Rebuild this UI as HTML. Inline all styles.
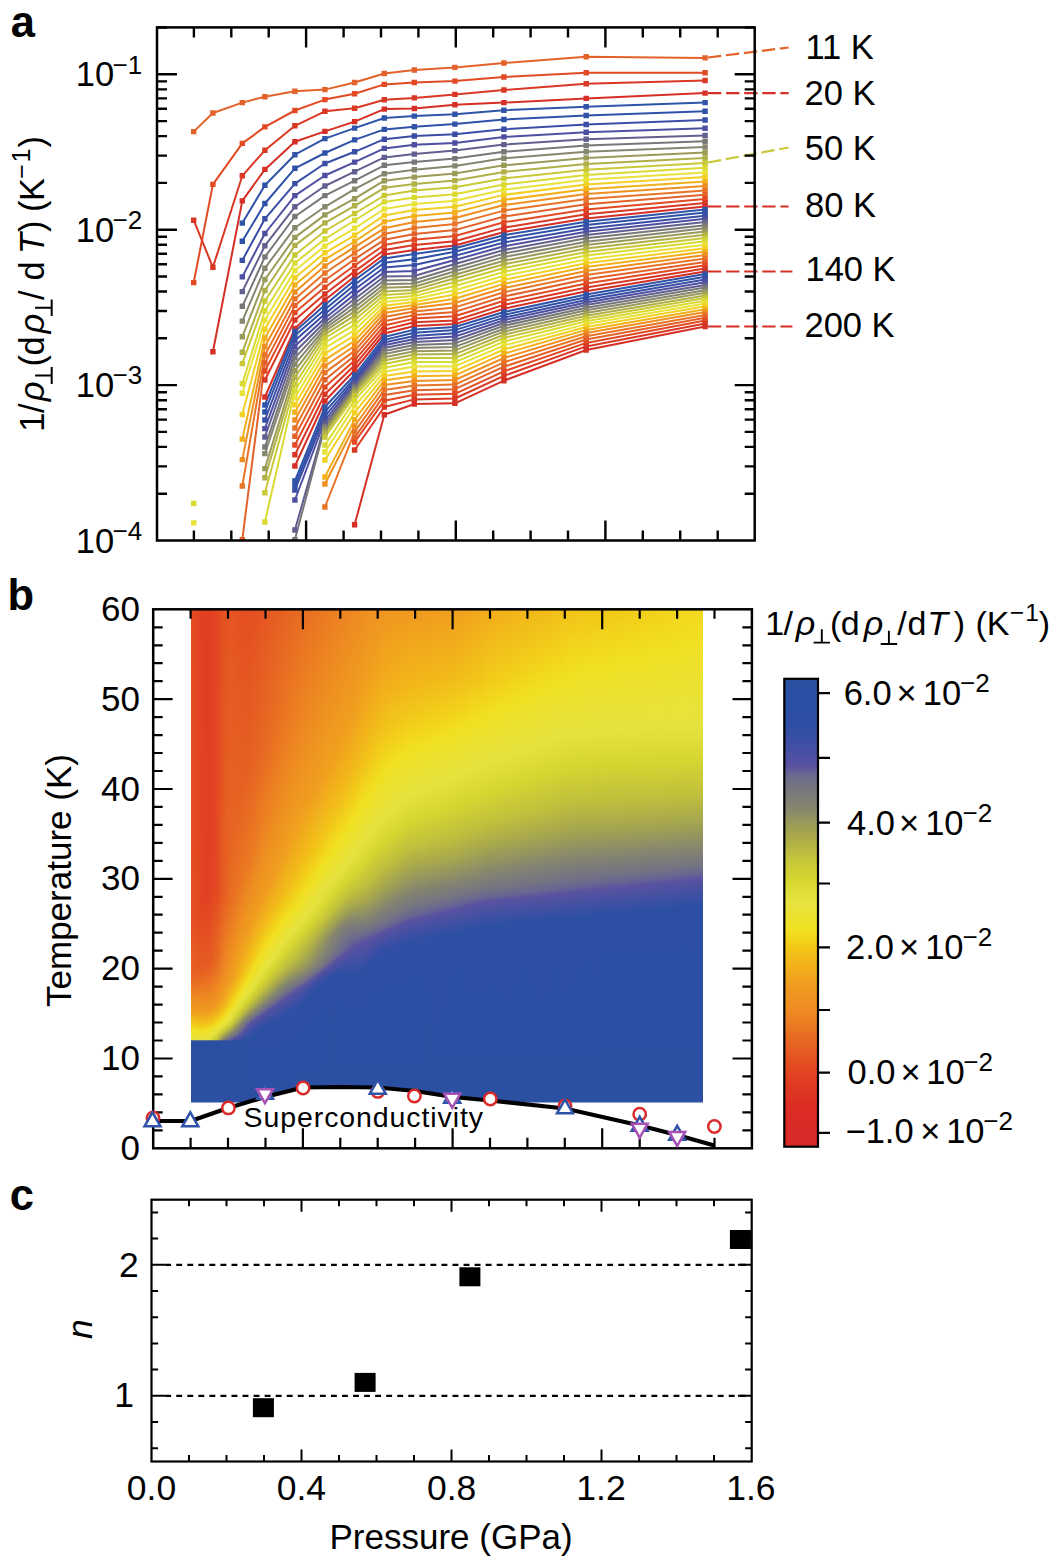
<!DOCTYPE html>
<html><head><meta charset="utf-8"><style>html,body{margin:0;padding:0;background:#fff;}svg{display:block;}</style></head>
<body><svg width="1050" height="1557" viewBox="0 0 1050 1557" font-family='"Liberation Sans", sans-serif' fill="#000">
<rect width="1050" height="1557" fill="#fff"/>
<clipPath id="ca"><rect x="157" y="27.4" width="597.7" height="513.1"/></clipPath>
<g clip-path="url(#ca)" fill="none" stroke-width="2.0" stroke-linejoin="round">
<polyline stroke="#e2622a" points="193.7,131.6 212.9,113 242.3,102.6 264.9,96.7 294.9,91.2 324.9,89.6 354.6,82.5 384.3,73.5 414.3,70 454.9,67.4 503.9,63 586.2,56.7 705.1,57.9"/>
<polyline stroke="#e24a24" points="193.7,282.6 212.9,184.4 242.3,143.4 264.9,126.9 294.9,110.5 324.9,99.6 354.6,93.7 384.3,84.4 414.3,82.5 454.9,81.1 503.9,77 586.2,72.8 705.1,72.8"/>
<polyline stroke="#d93824" points="193.7,220.2 212.9,267.3 242.3,175.8 264.9,150.3 294.9,125.8 324.9,111.3 354.6,108.2 384.3,99.8 414.3,97.9 454.9,94.4 503.9,90 586.2,83.7 705.1,80.5"/>
<polyline stroke="#d52f26" points="212.9,351.8 242.3,200.9 264.9,169.4 294.9,141.8 324.9,131.4 354.6,121.6 384.3,109.1 414.3,108.5 454.9,104.7 503.9,102.6 586.2,98.4 705.1,93.1"/>
<polyline stroke="#2f54a8" points="242.3,223.1 264.9,185.3 294.9,154.7 324.9,138.6 354.6,128.1 384.3,118 414.3,116.1 454.9,114.2 503.9,110.2 586.2,106.8 705.1,102.6"/>
<polyline stroke="#2f52a8" points="242.3,241.3 264.9,203.5 294.9,168.3 324.9,153 354.6,139.9 384.3,129.4 414.3,126.8 454.9,124.1 503.9,119.5 586.2,115.5 705.1,111.3"/>
<polyline stroke="#3a4ea6" points="242.3,260.4 264.9,218.8 294.9,183.6 324.9,163.5 354.6,151.8 384.3,139.2 414.3,136 454.9,134.2 503.9,129.3 586.2,124.5 705.1,120"/>
<polyline stroke="#4f4fa2" points="242.3,276.9 264.9,233.5 294.9,195.6 324.9,175.5 354.6,162.1 384.3,148.4 414.3,144.8 454.9,143 503.9,136.9 586.2,132.2 705.1,128.2"/>
<polyline stroke="#62608f" points="242.3,291.6 264.9,245.7 294.9,206.8 324.9,186 354.6,171.7 384.3,157.4 414.3,154.1 454.9,150.6 503.9,144.6 586.2,139.2 705.1,135.4"/>
<polyline stroke="#787878" points="242.3,306.3 264.9,256.9 294.9,216.5 324.9,195.6 354.6,180.7 384.3,165.3 414.3,162.1 454.9,158.6 503.9,151.7 586.2,145.6 705.1,141.2"/>
<polyline stroke="#878770" points="242.3,321.1 264.9,268.2 294.9,227.7 324.9,206.8 354.6,189.1 384.3,173.7 414.3,169.8 454.9,165.9 503.9,158.2 586.2,151.8 705.1,147"/>
<polyline stroke="#9a9a5a" points="242.3,336.7 264.9,279.5 294.9,237.4 324.9,214.9 354.6,198.7 384.3,180.7 414.3,177.1 454.9,173.5 503.9,165.3 586.2,157.9 705.1,152.5"/>
<polyline stroke="#b0b048" points="242.3,352.3 264.9,290.5 294.9,245.4 324.9,222.9 354.6,205.8 384.3,187.8 414.3,184 454.9,180.6 503.9,171.9 586.2,164 705.1,158"/>
<polyline stroke="#c8c838" points="242.3,363.6 264.9,301 294.9,255 324.9,231 354.6,213.5 384.3,195.5 414.3,190.4 454.9,187.2 503.9,178.4 586.2,169.7 705.1,163"/>
<polyline stroke="#dada34" points="242.3,383.8 264.9,310.7 294.9,263 324.9,239 354.6,220.5 384.3,201.9 414.3,197.4 454.9,194.3 503.9,184.4 586.2,174.9 705.1,167.8"/>
<polyline stroke="#e8e23a" points="242.3,393.2 264.9,320 294.9,270.5 324.9,246.1 354.6,228.3 384.3,209 414.3,203.9 454.9,200.8 503.9,189.8 586.2,179.8 705.1,172.5"/>
<polyline stroke="#f2d024" points="242.3,414.5 264.9,329.1 294.9,277.8 324.9,252.8 354.6,235.3 384.3,215.4 414.3,210.1 454.9,206.7 503.9,194.9 586.2,184.5 705.1,177.1"/>
<polyline stroke="#f2b01a" points="242.3,439.1 264.9,338 294.9,284.9 324.9,259.4 354.6,241.5 384.3,221.8 414.3,216.1 454.9,212.4 503.9,199.9 586.2,189.2 705.1,181.6"/>
<polyline stroke="#ef8f22" points="242.3,459.6 264.9,346.6 294.9,292 324.9,266 354.6,247.2 384.3,228.3 414.3,222 454.9,218 503.9,205 586.2,194 705.1,186"/>
<polyline stroke="#e87428" points="242.3,486 264.9,355 294.9,298.9 324.9,273 354.6,253 384.3,234 414.3,228 454.9,223.9 503.9,210.6 586.2,199 705.1,190.4"/>
<polyline stroke="#e2622a" points="242.3,539.6 264.9,362.9 294.9,305.6 324.9,280.2 354.6,259.2 384.3,239.8 414.3,233.9 454.9,230.1 503.9,216.5 586.2,204.3 705.1,194.7"/>
<polyline stroke="#e24a24" points="264.9,371 294.9,312.6 324.9,287.3 354.6,265.5 384.3,245 414.3,239.7 454.9,236 503.9,222.3 586.2,209.5 705.1,199"/>
<polyline stroke="#d93824" points="264.9,380 294.9,320 324.9,294 354.6,271.4 384.3,250.1 414.3,245.1 454.9,241.3 503.9,227.6 586.2,214.3 705.1,202.9"/>
<polyline stroke="#d52f26" points="264.9,397 294.9,328.5 324.9,300 354.6,276.5 384.3,254.5 414.3,250 454.9,245.5 503.9,232 586.2,218.5 705.1,206.5"/>
<polyline stroke="#2f54a8" points="264.9,405 294.9,331.4 324.9,305 354.6,280.3 384.3,258.4 414.3,254 454.9,248.3 503.9,235.2 586.2,221.8 705.1,209.5"/>
<polyline stroke="#2f52a8" points="264.9,412 294.9,335.5 324.9,309.6 354.6,284.7 384.3,262.8 414.3,259.2 454.9,251.8 503.9,238.7 586.2,225.1 705.1,212.6"/>
<polyline stroke="#3a4ea6" points="264.9,420 294.9,340.6 324.9,314 354.6,289.5 384.3,267.5 414.3,265.1 454.9,255.9 503.9,242.5 586.2,228.4 705.1,215.7"/>
<polyline stroke="#4f4fa2" points="264.9,428.6 294.9,346.2 324.9,318.2 354.6,294.4 384.3,272.1 414.3,271 454.9,260 503.9,246.3 586.2,231.7 705.1,218.8"/>
<polyline stroke="#62608f" points="264.9,437 294.9,352 324.9,322 354.6,299 384.3,276.5 414.3,276 454.9,264 503.9,250 586.2,235 705.1,222"/>
<polyline stroke="#787878" points="264.9,447 294.9,357.9 324.9,325.4 354.6,303.3 384.3,280.5 414.3,280 454.9,267.7 503.9,253.6 586.2,238.3 705.1,225.2"/>
<polyline stroke="#878770" points="264.9,453.6 294.9,364.1 324.9,328.3 354.6,307.4 384.3,284.2 414.3,283.5 454.9,271.2 503.9,257.1 586.2,241.7 705.1,228.3"/>
<polyline stroke="#9a9a5a" points="264.9,468.6 294.9,370.6 324.9,331.2 354.6,311.4 384.3,287.8 414.3,286.8 454.9,274.7 503.9,260.7 586.2,245 705.1,231.5"/>
<polyline stroke="#b0b048" points="264.9,477.8 294.9,377.2 324.9,334.3 354.6,315.6 384.3,291.4 414.3,289.9 454.9,278.2 503.9,264.3 586.2,248.5 705.1,234.7"/>
<polyline stroke="#c8c838" points="264.9,492.8 294.9,384 324.9,338 354.6,320 384.3,295 414.3,293 454.9,282 503.9,268 586.2,252 705.1,238"/>
<polyline stroke="#dada34" points="264.9,522 294.9,390.8 324.9,342.5 354.6,324.9 384.3,298.6 414.3,296.1 454.9,286 503.9,271.9 586.2,255.6 705.1,241.3"/>
<polyline stroke="#e8e23a" points="294.9,397.7 324.9,347.8 354.6,330.1 384.3,302.1 414.3,299 454.9,290.2 503.9,275.8 586.2,259.4 705.1,244.8"/>
<polyline stroke="#f2d024" points="294.9,404.8 324.9,353.6 354.6,335.5 384.3,305.7 414.3,301.9 454.9,294.4 503.9,279.8 586.2,263.2 705.1,248.2"/>
<polyline stroke="#f2b01a" points="294.9,412.2 324.9,359.8 354.6,340.8 384.3,309.3 414.3,304.9 454.9,298.7 503.9,283.9 586.2,267.1 705.1,251.6"/>
<polyline stroke="#ef8f22" points="294.9,420 324.9,366 354.6,346 384.3,313 414.3,308 454.9,303 503.9,288 586.2,271 705.1,255"/>
<polyline stroke="#e87428" points="294.9,428 324.9,372.6 354.6,350.9 384.3,317 414.3,311.4 454.9,307.4 503.9,292.2 586.2,275.1 705.1,258.4"/>
<polyline stroke="#e2622a" points="294.9,436.2 324.9,379.8 354.6,355.7 384.3,321.2 414.3,315 454.9,311.9 503.9,296.5 586.2,279.3 705.1,261.9"/>
<polyline stroke="#e24a24" points="294.9,445 324.9,387.1 354.6,360.4 384.3,325.5 414.3,318.6 454.9,316.3 503.9,300.8 586.2,283.5 705.1,265.3"/>
<polyline stroke="#d93824" points="294.9,454.8 324.9,394.3 354.6,365.2 384.3,329.6 414.3,322.3 454.9,320.5 503.9,304.9 586.2,287.6 705.1,268.6"/>
<polyline stroke="#d52f26" points="294.9,466 324.9,401 354.6,370 384.3,333.5 414.3,326 454.9,324.1 503.9,308.7 586.2,291.3 705.1,271.5"/>
<polyline stroke="#2f54a8" points="294.9,481 324.9,407 354.6,375 384.3,337 414.3,329.6 454.9,327 503.9,312 586.2,294.5 705.1,274"/>
<polyline stroke="#2f52a8" points="294.9,485.7 324.9,411.9 354.6,378.1 384.3,339.9 414.3,332.8 454.9,330.1 503.9,314.9 586.2,297.3 705.1,276.7"/>
<polyline stroke="#3a4ea6" points="294.9,490 324.9,416.4 354.6,380.6 384.3,342.6 414.3,335.9 454.9,333.3 503.9,317.6 586.2,299.9 705.1,279.5"/>
<polyline stroke="#4f4fa2" points="294.9,500 324.9,420.5 354.6,382.8 384.3,345.2 414.3,338.9 454.9,336.6 503.9,320.2 586.2,302.4 705.1,282.3"/>
<polyline stroke="#62608f" points="294.9,530 324.9,424 354.6,385 384.3,348 414.3,342 454.9,340 503.9,323 586.2,305 705.1,285"/>
<polyline stroke="#787878" points="294.9,539.6 324.9,426.7 354.6,387.1 384.3,351 414.3,345.1 454.9,343.4 503.9,325.8 586.2,307.7 705.1,287.6"/>
<polyline stroke="#878770" points="324.9,428.8 354.6,389 384.3,354 414.3,348.1 454.9,346.9 503.9,328.7 586.2,310.3 705.1,290.2"/>
<polyline stroke="#9a9a5a" points="324.9,430.8 354.6,390.9 384.3,357.2 414.3,351.2 454.9,350.4 503.9,331.6 586.2,313 705.1,292.8"/>
<polyline stroke="#b0b048" points="324.9,433.3 354.6,393.2 384.3,360.5 414.3,354.4 454.9,354.1 503.9,334.7 586.2,315.7 705.1,295.4"/>
<polyline stroke="#c8c838" points="324.9,437 354.6,396 384.3,364 414.3,358 454.9,358 503.9,338 586.2,318.5 705.1,298"/>
<polyline stroke="#dada34" points="324.9,445 354.6,400.2 384.3,367.7 414.3,362.1 454.9,362.1 503.9,341.6 586.2,321.3 705.1,300.7"/>
<polyline stroke="#e8e23a" points="324.9,452 354.6,406.1 384.3,371.7 414.3,366.6 454.9,366.4 503.9,345.5 586.2,324.1 705.1,303.5"/>
<polyline stroke="#f2d024" points="324.9,460 354.6,412.7 384.3,375.9 414.3,371.4 454.9,370.9 503.9,349.5 586.2,327 705.1,306.3"/>
<polyline stroke="#f2b01a" points="324.9,477 354.6,419.6 384.3,380.3 414.3,376.3 454.9,375.4 503.9,353.7 586.2,329.9 705.1,309.2"/>
<polyline stroke="#ef8f22" points="324.9,484 354.6,426 384.3,385 414.3,381 454.9,380 503.9,358 586.2,333 705.1,312"/>
<polyline stroke="#e87428" points="324.9,507 354.6,431.8 384.3,389.9 414.3,385.6 454.9,384.6 503.9,362.3 586.2,336.2 705.1,314.9"/>
<polyline stroke="#e2622a" points="354.6,437.6 384.3,395.1 414.3,390.2 454.9,389.2 503.9,366.7 586.2,339.5 705.1,317.7"/>
<polyline stroke="#e24a24" points="354.6,442.1 384.3,400.7 414.3,394.8 454.9,393.8 503.9,371.3 586.2,342.9 705.1,320.6"/>
<polyline stroke="#d93824" points="354.6,450 384.3,407 414.3,399.4 454.9,398.5 503.9,375.9 586.2,346.4 705.1,323.6"/>
<polyline stroke="#d52f26" points="354.6,524.7 384.3,414.8 414.3,404 454.9,403.3 503.9,380.7 586.2,350 705.1,326.5"/>
</g>
<g clip-path="url(#ca)">
<path fill="#e2622a" d="M191 128.9h5.4v5.4h-5.4zM210.2 110.3h5.4v5.4h-5.4zM239.6 99.9h5.4v5.4h-5.4zM262.2 94h5.4v5.4h-5.4zM292.2 88.5h5.4v5.4h-5.4zM322.2 86.9h5.4v5.4h-5.4zM351.9 79.8h5.4v5.4h-5.4zM381.6 70.8h5.4v5.4h-5.4zM411.6 67.3h5.4v5.4h-5.4zM452.2 64.7h5.4v5.4h-5.4zM501.2 60.3h5.4v5.4h-5.4zM583.5 54h5.4v5.4h-5.4zM702.4 55.2h5.4v5.4h-5.4z"/>
<path fill="#e24a24" d="M191 279.9h5.4v5.4h-5.4zM210.2 181.7h5.4v5.4h-5.4zM239.6 140.7h5.4v5.4h-5.4zM262.2 124.2h5.4v5.4h-5.4zM292.2 107.8h5.4v5.4h-5.4zM322.2 96.9h5.4v5.4h-5.4zM351.9 91h5.4v5.4h-5.4zM381.6 81.7h5.4v5.4h-5.4zM411.6 79.8h5.4v5.4h-5.4zM452.2 78.4h5.4v5.4h-5.4zM501.2 74.3h5.4v5.4h-5.4zM583.5 70.1h5.4v5.4h-5.4zM702.4 70.1h5.4v5.4h-5.4z"/>
<path fill="#d93824" d="M191 217.5h5.4v5.4h-5.4zM210.2 264.6h5.4v5.4h-5.4zM239.6 173.1h5.4v5.4h-5.4zM262.2 147.6h5.4v5.4h-5.4zM292.2 123.1h5.4v5.4h-5.4zM322.2 108.6h5.4v5.4h-5.4zM351.9 105.5h5.4v5.4h-5.4zM381.6 97.1h5.4v5.4h-5.4zM411.6 95.2h5.4v5.4h-5.4zM452.2 91.7h5.4v5.4h-5.4zM501.2 87.3h5.4v5.4h-5.4zM583.5 81h5.4v5.4h-5.4zM702.4 77.8h5.4v5.4h-5.4z"/>
<path fill="#d52f26" d="M210.2 349.1h5.4v5.4h-5.4zM239.6 198.2h5.4v5.4h-5.4zM262.2 166.7h5.4v5.4h-5.4zM292.2 139.1h5.4v5.4h-5.4zM322.2 128.7h5.4v5.4h-5.4zM351.9 118.9h5.4v5.4h-5.4zM381.6 106.4h5.4v5.4h-5.4zM411.6 105.8h5.4v5.4h-5.4zM452.2 102h5.4v5.4h-5.4zM501.2 99.9h5.4v5.4h-5.4zM583.5 95.7h5.4v5.4h-5.4zM702.4 90.4h5.4v5.4h-5.4z"/>
<path fill="#2f54a8" d="M239.6 220.4h5.4v5.4h-5.4zM262.2 182.6h5.4v5.4h-5.4zM292.2 152h5.4v5.4h-5.4zM322.2 135.9h5.4v5.4h-5.4zM351.9 125.4h5.4v5.4h-5.4zM381.6 115.3h5.4v5.4h-5.4zM411.6 113.4h5.4v5.4h-5.4zM452.2 111.5h5.4v5.4h-5.4zM501.2 107.5h5.4v5.4h-5.4zM583.5 104.1h5.4v5.4h-5.4zM702.4 99.9h5.4v5.4h-5.4z"/>
<path fill="#2f52a8" d="M239.6 238.6h5.4v5.4h-5.4zM262.2 200.8h5.4v5.4h-5.4zM292.2 165.6h5.4v5.4h-5.4zM322.2 150.3h5.4v5.4h-5.4zM351.9 137.2h5.4v5.4h-5.4zM381.6 126.7h5.4v5.4h-5.4zM411.6 124.1h5.4v5.4h-5.4zM452.2 121.4h5.4v5.4h-5.4zM501.2 116.8h5.4v5.4h-5.4zM583.5 112.8h5.4v5.4h-5.4zM702.4 108.6h5.4v5.4h-5.4z"/>
<path fill="#3a4ea6" d="M239.6 257.7h5.4v5.4h-5.4zM262.2 216.1h5.4v5.4h-5.4zM292.2 180.9h5.4v5.4h-5.4zM322.2 160.8h5.4v5.4h-5.4zM351.9 149.1h5.4v5.4h-5.4zM381.6 136.5h5.4v5.4h-5.4zM411.6 133.3h5.4v5.4h-5.4zM452.2 131.5h5.4v5.4h-5.4zM501.2 126.6h5.4v5.4h-5.4zM583.5 121.8h5.4v5.4h-5.4zM702.4 117.3h5.4v5.4h-5.4z"/>
<path fill="#4f4fa2" d="M239.6 274.2h5.4v5.4h-5.4zM262.2 230.8h5.4v5.4h-5.4zM292.2 192.9h5.4v5.4h-5.4zM322.2 172.8h5.4v5.4h-5.4zM351.9 159.4h5.4v5.4h-5.4zM381.6 145.7h5.4v5.4h-5.4zM411.6 142.1h5.4v5.4h-5.4zM452.2 140.3h5.4v5.4h-5.4zM501.2 134.2h5.4v5.4h-5.4zM583.5 129.5h5.4v5.4h-5.4zM702.4 125.5h5.4v5.4h-5.4z"/>
<path fill="#62608f" d="M239.6 288.9h5.4v5.4h-5.4zM262.2 243h5.4v5.4h-5.4zM292.2 204.1h5.4v5.4h-5.4zM322.2 183.3h5.4v5.4h-5.4zM351.9 169h5.4v5.4h-5.4zM381.6 154.7h5.4v5.4h-5.4zM411.6 151.4h5.4v5.4h-5.4zM452.2 147.9h5.4v5.4h-5.4zM501.2 141.9h5.4v5.4h-5.4zM583.5 136.5h5.4v5.4h-5.4zM702.4 132.7h5.4v5.4h-5.4z"/>
<path fill="#787878" d="M239.6 303.6h5.4v5.4h-5.4zM262.2 254.2h5.4v5.4h-5.4zM292.2 213.8h5.4v5.4h-5.4zM322.2 192.9h5.4v5.4h-5.4zM351.9 178h5.4v5.4h-5.4zM381.6 162.6h5.4v5.4h-5.4zM411.6 159.4h5.4v5.4h-5.4zM452.2 155.9h5.4v5.4h-5.4zM501.2 149h5.4v5.4h-5.4zM583.5 142.9h5.4v5.4h-5.4zM702.4 138.5h5.4v5.4h-5.4z"/>
<path fill="#878770" d="M239.6 318.4h5.4v5.4h-5.4zM262.2 265.5h5.4v5.4h-5.4zM292.2 225h5.4v5.4h-5.4zM322.2 204.1h5.4v5.4h-5.4zM351.9 186.4h5.4v5.4h-5.4zM381.6 171h5.4v5.4h-5.4zM411.6 167.1h5.4v5.4h-5.4zM452.2 163.2h5.4v5.4h-5.4zM501.2 155.5h5.4v5.4h-5.4zM583.5 149.1h5.4v5.4h-5.4zM702.4 144.3h5.4v5.4h-5.4z"/>
<path fill="#9a9a5a" d="M239.6 334h5.4v5.4h-5.4zM262.2 276.8h5.4v5.4h-5.4zM292.2 234.7h5.4v5.4h-5.4zM322.2 212.2h5.4v5.4h-5.4zM351.9 196h5.4v5.4h-5.4zM381.6 178h5.4v5.4h-5.4zM411.6 174.4h5.4v5.4h-5.4zM452.2 170.8h5.4v5.4h-5.4zM501.2 162.6h5.4v5.4h-5.4zM583.5 155.2h5.4v5.4h-5.4zM702.4 149.8h5.4v5.4h-5.4z"/>
<path fill="#b0b048" d="M239.6 349.6h5.4v5.4h-5.4zM262.2 287.8h5.4v5.4h-5.4zM292.2 242.7h5.4v5.4h-5.4zM322.2 220.2h5.4v5.4h-5.4zM351.9 203.1h5.4v5.4h-5.4zM381.6 185.1h5.4v5.4h-5.4zM411.6 181.3h5.4v5.4h-5.4zM452.2 177.9h5.4v5.4h-5.4zM501.2 169.2h5.4v5.4h-5.4zM583.5 161.3h5.4v5.4h-5.4zM702.4 155.3h5.4v5.4h-5.4z"/>
<path fill="#c8c838" d="M239.6 360.9h5.4v5.4h-5.4zM262.2 298.3h5.4v5.4h-5.4zM292.2 252.3h5.4v5.4h-5.4zM322.2 228.3h5.4v5.4h-5.4zM351.9 210.8h5.4v5.4h-5.4zM381.6 192.8h5.4v5.4h-5.4zM411.6 187.7h5.4v5.4h-5.4zM452.2 184.5h5.4v5.4h-5.4zM501.2 175.7h5.4v5.4h-5.4zM583.5 167h5.4v5.4h-5.4zM702.4 160.3h5.4v5.4h-5.4z"/>
<path fill="#dada34" d="M239.6 381.1h5.4v5.4h-5.4zM262.2 308h5.4v5.4h-5.4zM292.2 260.3h5.4v5.4h-5.4zM322.2 236.3h5.4v5.4h-5.4zM351.9 217.8h5.4v5.4h-5.4zM381.6 199.2h5.4v5.4h-5.4zM411.6 194.7h5.4v5.4h-5.4zM452.2 191.6h5.4v5.4h-5.4zM501.2 181.7h5.4v5.4h-5.4zM583.5 172.2h5.4v5.4h-5.4zM702.4 165.1h5.4v5.4h-5.4z"/>
<path fill="#e8e23a" d="M239.6 390.5h5.4v5.4h-5.4zM262.2 317.3h5.4v5.4h-5.4zM292.2 267.8h5.4v5.4h-5.4zM322.2 243.4h5.4v5.4h-5.4zM351.9 225.6h5.4v5.4h-5.4zM381.6 206.3h5.4v5.4h-5.4zM411.6 201.2h5.4v5.4h-5.4zM452.2 198.1h5.4v5.4h-5.4zM501.2 187.1h5.4v5.4h-5.4zM583.5 177.1h5.4v5.4h-5.4zM702.4 169.8h5.4v5.4h-5.4z"/>
<path fill="#f2d024" d="M239.6 411.8h5.4v5.4h-5.4zM262.2 326.4h5.4v5.4h-5.4zM292.2 275.1h5.4v5.4h-5.4zM322.2 250.1h5.4v5.4h-5.4zM351.9 232.6h5.4v5.4h-5.4zM381.6 212.7h5.4v5.4h-5.4zM411.6 207.4h5.4v5.4h-5.4zM452.2 204h5.4v5.4h-5.4zM501.2 192.2h5.4v5.4h-5.4zM583.5 181.8h5.4v5.4h-5.4zM702.4 174.4h5.4v5.4h-5.4z"/>
<path fill="#f2b01a" d="M239.6 436.4h5.4v5.4h-5.4zM262.2 335.3h5.4v5.4h-5.4zM292.2 282.2h5.4v5.4h-5.4zM322.2 256.7h5.4v5.4h-5.4zM351.9 238.8h5.4v5.4h-5.4zM381.6 219.1h5.4v5.4h-5.4zM411.6 213.4h5.4v5.4h-5.4zM452.2 209.7h5.4v5.4h-5.4zM501.2 197.2h5.4v5.4h-5.4zM583.5 186.5h5.4v5.4h-5.4zM702.4 178.9h5.4v5.4h-5.4z"/>
<path fill="#ef8f22" d="M239.6 456.9h5.4v5.4h-5.4zM262.2 343.9h5.4v5.4h-5.4zM292.2 289.3h5.4v5.4h-5.4zM322.2 263.3h5.4v5.4h-5.4zM351.9 244.5h5.4v5.4h-5.4zM381.6 225.6h5.4v5.4h-5.4zM411.6 219.3h5.4v5.4h-5.4zM452.2 215.3h5.4v5.4h-5.4zM501.2 202.3h5.4v5.4h-5.4zM583.5 191.3h5.4v5.4h-5.4zM702.4 183.3h5.4v5.4h-5.4z"/>
<path fill="#e87428" d="M239.6 483.3h5.4v5.4h-5.4zM262.2 352.3h5.4v5.4h-5.4zM292.2 296.2h5.4v5.4h-5.4zM322.2 270.3h5.4v5.4h-5.4zM351.9 250.3h5.4v5.4h-5.4zM381.6 231.3h5.4v5.4h-5.4zM411.6 225.3h5.4v5.4h-5.4zM452.2 221.2h5.4v5.4h-5.4zM501.2 207.9h5.4v5.4h-5.4zM583.5 196.3h5.4v5.4h-5.4zM702.4 187.7h5.4v5.4h-5.4z"/>
<path fill="#e2622a" d="M239.6 536.9h5.4v5.4h-5.4zM262.2 360.2h5.4v5.4h-5.4zM292.2 302.9h5.4v5.4h-5.4zM322.2 277.5h5.4v5.4h-5.4zM351.9 256.5h5.4v5.4h-5.4zM381.6 237.1h5.4v5.4h-5.4zM411.6 231.2h5.4v5.4h-5.4zM452.2 227.4h5.4v5.4h-5.4zM501.2 213.8h5.4v5.4h-5.4zM583.5 201.6h5.4v5.4h-5.4zM702.4 192h5.4v5.4h-5.4z"/>
<path fill="#e24a24" d="M262.2 368.3h5.4v5.4h-5.4zM292.2 309.9h5.4v5.4h-5.4zM322.2 284.6h5.4v5.4h-5.4zM351.9 262.8h5.4v5.4h-5.4zM381.6 242.3h5.4v5.4h-5.4zM411.6 237h5.4v5.4h-5.4zM452.2 233.3h5.4v5.4h-5.4zM501.2 219.6h5.4v5.4h-5.4zM583.5 206.8h5.4v5.4h-5.4zM702.4 196.3h5.4v5.4h-5.4z"/>
<path fill="#d93824" d="M262.2 377.3h5.4v5.4h-5.4zM292.2 317.3h5.4v5.4h-5.4zM322.2 291.3h5.4v5.4h-5.4zM351.9 268.7h5.4v5.4h-5.4zM381.6 247.4h5.4v5.4h-5.4zM411.6 242.4h5.4v5.4h-5.4zM452.2 238.6h5.4v5.4h-5.4zM501.2 224.9h5.4v5.4h-5.4zM583.5 211.6h5.4v5.4h-5.4zM702.4 200.2h5.4v5.4h-5.4z"/>
<path fill="#d52f26" d="M262.2 394.3h5.4v5.4h-5.4zM292.2 325.8h5.4v5.4h-5.4zM322.2 297.3h5.4v5.4h-5.4zM351.9 273.8h5.4v5.4h-5.4zM381.6 251.8h5.4v5.4h-5.4zM411.6 247.3h5.4v5.4h-5.4zM452.2 242.8h5.4v5.4h-5.4zM501.2 229.3h5.4v5.4h-5.4zM583.5 215.8h5.4v5.4h-5.4zM702.4 203.8h5.4v5.4h-5.4z"/>
<path fill="#2f54a8" d="M262.2 402.3h5.4v5.4h-5.4zM292.2 328.7h5.4v5.4h-5.4zM322.2 302.3h5.4v5.4h-5.4zM351.9 277.6h5.4v5.4h-5.4zM381.6 255.7h5.4v5.4h-5.4zM411.6 251.3h5.4v5.4h-5.4zM452.2 245.6h5.4v5.4h-5.4zM501.2 232.5h5.4v5.4h-5.4zM583.5 219.1h5.4v5.4h-5.4zM702.4 206.8h5.4v5.4h-5.4z"/>
<path fill="#2f52a8" d="M262.2 409.3h5.4v5.4h-5.4zM292.2 332.8h5.4v5.4h-5.4zM322.2 306.9h5.4v5.4h-5.4zM351.9 282h5.4v5.4h-5.4zM381.6 260.1h5.4v5.4h-5.4zM411.6 256.5h5.4v5.4h-5.4zM452.2 249.1h5.4v5.4h-5.4zM501.2 236h5.4v5.4h-5.4zM583.5 222.4h5.4v5.4h-5.4zM702.4 209.9h5.4v5.4h-5.4z"/>
<path fill="#3a4ea6" d="M262.2 417.3h5.4v5.4h-5.4zM292.2 337.9h5.4v5.4h-5.4zM322.2 311.3h5.4v5.4h-5.4zM351.9 286.8h5.4v5.4h-5.4zM381.6 264.8h5.4v5.4h-5.4zM411.6 262.4h5.4v5.4h-5.4zM452.2 253.2h5.4v5.4h-5.4zM501.2 239.8h5.4v5.4h-5.4zM583.5 225.7h5.4v5.4h-5.4zM702.4 213h5.4v5.4h-5.4z"/>
<path fill="#4f4fa2" d="M262.2 425.9h5.4v5.4h-5.4zM292.2 343.5h5.4v5.4h-5.4zM322.2 315.5h5.4v5.4h-5.4zM351.9 291.7h5.4v5.4h-5.4zM381.6 269.4h5.4v5.4h-5.4zM411.6 268.3h5.4v5.4h-5.4zM452.2 257.3h5.4v5.4h-5.4zM501.2 243.6h5.4v5.4h-5.4zM583.5 229h5.4v5.4h-5.4zM702.4 216.1h5.4v5.4h-5.4z"/>
<path fill="#62608f" d="M262.2 434.3h5.4v5.4h-5.4zM292.2 349.3h5.4v5.4h-5.4zM322.2 319.3h5.4v5.4h-5.4zM351.9 296.3h5.4v5.4h-5.4zM381.6 273.8h5.4v5.4h-5.4zM411.6 273.3h5.4v5.4h-5.4zM452.2 261.3h5.4v5.4h-5.4zM501.2 247.3h5.4v5.4h-5.4zM583.5 232.3h5.4v5.4h-5.4zM702.4 219.3h5.4v5.4h-5.4z"/>
<path fill="#787878" d="M262.2 444.3h5.4v5.4h-5.4zM292.2 355.2h5.4v5.4h-5.4zM322.2 322.7h5.4v5.4h-5.4zM351.9 300.6h5.4v5.4h-5.4zM381.6 277.8h5.4v5.4h-5.4zM411.6 277.3h5.4v5.4h-5.4zM452.2 265h5.4v5.4h-5.4zM501.2 250.9h5.4v5.4h-5.4zM583.5 235.6h5.4v5.4h-5.4zM702.4 222.5h5.4v5.4h-5.4z"/>
<path fill="#878770" d="M262.2 450.9h5.4v5.4h-5.4zM292.2 361.4h5.4v5.4h-5.4zM322.2 325.6h5.4v5.4h-5.4zM351.9 304.7h5.4v5.4h-5.4zM381.6 281.5h5.4v5.4h-5.4zM411.6 280.8h5.4v5.4h-5.4zM452.2 268.5h5.4v5.4h-5.4zM501.2 254.4h5.4v5.4h-5.4zM583.5 239h5.4v5.4h-5.4zM702.4 225.6h5.4v5.4h-5.4z"/>
<path fill="#9a9a5a" d="M262.2 465.9h5.4v5.4h-5.4zM292.2 367.9h5.4v5.4h-5.4zM322.2 328.5h5.4v5.4h-5.4zM351.9 308.7h5.4v5.4h-5.4zM381.6 285.1h5.4v5.4h-5.4zM411.6 284.1h5.4v5.4h-5.4zM452.2 272h5.4v5.4h-5.4zM501.2 258h5.4v5.4h-5.4zM583.5 242.3h5.4v5.4h-5.4zM702.4 228.8h5.4v5.4h-5.4z"/>
<path fill="#b0b048" d="M262.2 475.1h5.4v5.4h-5.4zM292.2 374.5h5.4v5.4h-5.4zM322.2 331.6h5.4v5.4h-5.4zM351.9 312.9h5.4v5.4h-5.4zM381.6 288.7h5.4v5.4h-5.4zM411.6 287.2h5.4v5.4h-5.4zM452.2 275.5h5.4v5.4h-5.4zM501.2 261.6h5.4v5.4h-5.4zM583.5 245.8h5.4v5.4h-5.4zM702.4 232h5.4v5.4h-5.4z"/>
<path fill="#c8c838" d="M262.2 490.1h5.4v5.4h-5.4zM292.2 381.3h5.4v5.4h-5.4zM322.2 335.3h5.4v5.4h-5.4zM351.9 317.3h5.4v5.4h-5.4zM381.6 292.3h5.4v5.4h-5.4zM411.6 290.3h5.4v5.4h-5.4zM452.2 279.3h5.4v5.4h-5.4zM501.2 265.3h5.4v5.4h-5.4zM583.5 249.3h5.4v5.4h-5.4zM702.4 235.3h5.4v5.4h-5.4z"/>
<path fill="#dada34" d="M262.2 519.3h5.4v5.4h-5.4zM292.2 388.1h5.4v5.4h-5.4zM322.2 339.8h5.4v5.4h-5.4zM351.9 322.2h5.4v5.4h-5.4zM381.6 295.9h5.4v5.4h-5.4zM411.6 293.4h5.4v5.4h-5.4zM452.2 283.3h5.4v5.4h-5.4zM501.2 269.2h5.4v5.4h-5.4zM583.5 252.9h5.4v5.4h-5.4zM702.4 238.6h5.4v5.4h-5.4z"/>
<path fill="#e8e23a" d="M292.2 395h5.4v5.4h-5.4zM322.2 345.1h5.4v5.4h-5.4zM351.9 327.4h5.4v5.4h-5.4zM381.6 299.4h5.4v5.4h-5.4zM411.6 296.3h5.4v5.4h-5.4zM452.2 287.5h5.4v5.4h-5.4zM501.2 273.1h5.4v5.4h-5.4zM583.5 256.7h5.4v5.4h-5.4zM702.4 242.1h5.4v5.4h-5.4z"/>
<path fill="#f2d024" d="M292.2 402.1h5.4v5.4h-5.4zM322.2 350.9h5.4v5.4h-5.4zM351.9 332.8h5.4v5.4h-5.4zM381.6 303h5.4v5.4h-5.4zM411.6 299.2h5.4v5.4h-5.4zM452.2 291.7h5.4v5.4h-5.4zM501.2 277.1h5.4v5.4h-5.4zM583.5 260.5h5.4v5.4h-5.4zM702.4 245.5h5.4v5.4h-5.4z"/>
<path fill="#f2b01a" d="M292.2 409.5h5.4v5.4h-5.4zM322.2 357.1h5.4v5.4h-5.4zM351.9 338.1h5.4v5.4h-5.4zM381.6 306.6h5.4v5.4h-5.4zM411.6 302.2h5.4v5.4h-5.4zM452.2 296h5.4v5.4h-5.4zM501.2 281.2h5.4v5.4h-5.4zM583.5 264.4h5.4v5.4h-5.4zM702.4 248.9h5.4v5.4h-5.4z"/>
<path fill="#ef8f22" d="M292.2 417.3h5.4v5.4h-5.4zM322.2 363.3h5.4v5.4h-5.4zM351.9 343.3h5.4v5.4h-5.4zM381.6 310.3h5.4v5.4h-5.4zM411.6 305.3h5.4v5.4h-5.4zM452.2 300.3h5.4v5.4h-5.4zM501.2 285.3h5.4v5.4h-5.4zM583.5 268.3h5.4v5.4h-5.4zM702.4 252.3h5.4v5.4h-5.4z"/>
<path fill="#e87428" d="M292.2 425.3h5.4v5.4h-5.4zM322.2 369.9h5.4v5.4h-5.4zM351.9 348.2h5.4v5.4h-5.4zM381.6 314.3h5.4v5.4h-5.4zM411.6 308.7h5.4v5.4h-5.4zM452.2 304.7h5.4v5.4h-5.4zM501.2 289.5h5.4v5.4h-5.4zM583.5 272.4h5.4v5.4h-5.4zM702.4 255.7h5.4v5.4h-5.4z"/>
<path fill="#e2622a" d="M292.2 433.5h5.4v5.4h-5.4zM322.2 377.1h5.4v5.4h-5.4zM351.9 353h5.4v5.4h-5.4zM381.6 318.5h5.4v5.4h-5.4zM411.6 312.3h5.4v5.4h-5.4zM452.2 309.2h5.4v5.4h-5.4zM501.2 293.8h5.4v5.4h-5.4zM583.5 276.6h5.4v5.4h-5.4zM702.4 259.2h5.4v5.4h-5.4z"/>
<path fill="#e24a24" d="M292.2 442.3h5.4v5.4h-5.4zM322.2 384.4h5.4v5.4h-5.4zM351.9 357.7h5.4v5.4h-5.4zM381.6 322.8h5.4v5.4h-5.4zM411.6 315.9h5.4v5.4h-5.4zM452.2 313.6h5.4v5.4h-5.4zM501.2 298.1h5.4v5.4h-5.4zM583.5 280.8h5.4v5.4h-5.4zM702.4 262.6h5.4v5.4h-5.4z"/>
<path fill="#d93824" d="M292.2 452.1h5.4v5.4h-5.4zM322.2 391.6h5.4v5.4h-5.4zM351.9 362.5h5.4v5.4h-5.4zM381.6 326.9h5.4v5.4h-5.4zM411.6 319.6h5.4v5.4h-5.4zM452.2 317.8h5.4v5.4h-5.4zM501.2 302.2h5.4v5.4h-5.4zM583.5 284.9h5.4v5.4h-5.4zM702.4 265.9h5.4v5.4h-5.4z"/>
<path fill="#d52f26" d="M292.2 463.3h5.4v5.4h-5.4zM322.2 398.3h5.4v5.4h-5.4zM351.9 367.3h5.4v5.4h-5.4zM381.6 330.8h5.4v5.4h-5.4zM411.6 323.3h5.4v5.4h-5.4zM452.2 321.4h5.4v5.4h-5.4zM501.2 306h5.4v5.4h-5.4zM583.5 288.6h5.4v5.4h-5.4zM702.4 268.8h5.4v5.4h-5.4z"/>
<path fill="#2f54a8" d="M292.2 478.3h5.4v5.4h-5.4zM322.2 404.3h5.4v5.4h-5.4zM351.9 372.3h5.4v5.4h-5.4zM381.6 334.3h5.4v5.4h-5.4zM411.6 326.9h5.4v5.4h-5.4zM452.2 324.3h5.4v5.4h-5.4zM501.2 309.3h5.4v5.4h-5.4zM583.5 291.8h5.4v5.4h-5.4zM702.4 271.3h5.4v5.4h-5.4z"/>
<path fill="#2f52a8" d="M292.2 483h5.4v5.4h-5.4zM322.2 409.2h5.4v5.4h-5.4zM351.9 375.4h5.4v5.4h-5.4zM381.6 337.2h5.4v5.4h-5.4zM411.6 330.1h5.4v5.4h-5.4zM452.2 327.4h5.4v5.4h-5.4zM501.2 312.2h5.4v5.4h-5.4zM583.5 294.6h5.4v5.4h-5.4zM702.4 274h5.4v5.4h-5.4z"/>
<path fill="#3a4ea6" d="M292.2 487.3h5.4v5.4h-5.4zM322.2 413.7h5.4v5.4h-5.4zM351.9 377.9h5.4v5.4h-5.4zM381.6 339.9h5.4v5.4h-5.4zM411.6 333.2h5.4v5.4h-5.4zM452.2 330.6h5.4v5.4h-5.4zM501.2 314.9h5.4v5.4h-5.4zM583.5 297.2h5.4v5.4h-5.4zM702.4 276.8h5.4v5.4h-5.4z"/>
<path fill="#4f4fa2" d="M292.2 497.3h5.4v5.4h-5.4zM322.2 417.8h5.4v5.4h-5.4zM351.9 380.1h5.4v5.4h-5.4zM381.6 342.5h5.4v5.4h-5.4zM411.6 336.2h5.4v5.4h-5.4zM452.2 333.9h5.4v5.4h-5.4zM501.2 317.5h5.4v5.4h-5.4zM583.5 299.7h5.4v5.4h-5.4zM702.4 279.6h5.4v5.4h-5.4z"/>
<path fill="#62608f" d="M292.2 527.3h5.4v5.4h-5.4zM322.2 421.3h5.4v5.4h-5.4zM351.9 382.3h5.4v5.4h-5.4zM381.6 345.3h5.4v5.4h-5.4zM411.6 339.3h5.4v5.4h-5.4zM452.2 337.3h5.4v5.4h-5.4zM501.2 320.3h5.4v5.4h-5.4zM583.5 302.3h5.4v5.4h-5.4zM702.4 282.3h5.4v5.4h-5.4z"/>
<path fill="#787878" d="M292.2 536.9h5.4v5.4h-5.4zM322.2 424h5.4v5.4h-5.4zM351.9 384.4h5.4v5.4h-5.4zM381.6 348.3h5.4v5.4h-5.4zM411.6 342.4h5.4v5.4h-5.4zM452.2 340.7h5.4v5.4h-5.4zM501.2 323.1h5.4v5.4h-5.4zM583.5 305h5.4v5.4h-5.4zM702.4 284.9h5.4v5.4h-5.4z"/>
<path fill="#878770" d="M322.2 426.1h5.4v5.4h-5.4zM351.9 386.3h5.4v5.4h-5.4zM381.6 351.3h5.4v5.4h-5.4zM411.6 345.4h5.4v5.4h-5.4zM452.2 344.2h5.4v5.4h-5.4zM501.2 326h5.4v5.4h-5.4zM583.5 307.6h5.4v5.4h-5.4zM702.4 287.5h5.4v5.4h-5.4z"/>
<path fill="#9a9a5a" d="M322.2 428.1h5.4v5.4h-5.4zM351.9 388.2h5.4v5.4h-5.4zM381.6 354.5h5.4v5.4h-5.4zM411.6 348.5h5.4v5.4h-5.4zM452.2 347.7h5.4v5.4h-5.4zM501.2 328.9h5.4v5.4h-5.4zM583.5 310.3h5.4v5.4h-5.4zM702.4 290.1h5.4v5.4h-5.4z"/>
<path fill="#b0b048" d="M322.2 430.6h5.4v5.4h-5.4zM351.9 390.5h5.4v5.4h-5.4zM381.6 357.8h5.4v5.4h-5.4zM411.6 351.7h5.4v5.4h-5.4zM452.2 351.4h5.4v5.4h-5.4zM501.2 332h5.4v5.4h-5.4zM583.5 313h5.4v5.4h-5.4zM702.4 292.7h5.4v5.4h-5.4z"/>
<path fill="#c8c838" d="M322.2 434.3h5.4v5.4h-5.4zM351.9 393.3h5.4v5.4h-5.4zM381.6 361.3h5.4v5.4h-5.4zM411.6 355.3h5.4v5.4h-5.4zM452.2 355.3h5.4v5.4h-5.4zM501.2 335.3h5.4v5.4h-5.4zM583.5 315.8h5.4v5.4h-5.4zM702.4 295.3h5.4v5.4h-5.4z"/>
<path fill="#dada34" d="M322.2 442.3h5.4v5.4h-5.4zM351.9 397.5h5.4v5.4h-5.4zM381.6 365h5.4v5.4h-5.4zM411.6 359.4h5.4v5.4h-5.4zM452.2 359.4h5.4v5.4h-5.4zM501.2 338.9h5.4v5.4h-5.4zM583.5 318.6h5.4v5.4h-5.4zM702.4 298h5.4v5.4h-5.4z"/>
<path fill="#e8e23a" d="M322.2 449.3h5.4v5.4h-5.4zM351.9 403.4h5.4v5.4h-5.4zM381.6 369h5.4v5.4h-5.4zM411.6 363.9h5.4v5.4h-5.4zM452.2 363.7h5.4v5.4h-5.4zM501.2 342.8h5.4v5.4h-5.4zM583.5 321.4h5.4v5.4h-5.4zM702.4 300.8h5.4v5.4h-5.4z"/>
<path fill="#f2d024" d="M322.2 457.3h5.4v5.4h-5.4zM351.9 410h5.4v5.4h-5.4zM381.6 373.2h5.4v5.4h-5.4zM411.6 368.7h5.4v5.4h-5.4zM452.2 368.2h5.4v5.4h-5.4zM501.2 346.8h5.4v5.4h-5.4zM583.5 324.3h5.4v5.4h-5.4zM702.4 303.6h5.4v5.4h-5.4z"/>
<path fill="#f2b01a" d="M322.2 474.3h5.4v5.4h-5.4zM351.9 416.9h5.4v5.4h-5.4zM381.6 377.6h5.4v5.4h-5.4zM411.6 373.6h5.4v5.4h-5.4zM452.2 372.7h5.4v5.4h-5.4zM501.2 351h5.4v5.4h-5.4zM583.5 327.2h5.4v5.4h-5.4zM702.4 306.5h5.4v5.4h-5.4z"/>
<path fill="#ef8f22" d="M322.2 481.3h5.4v5.4h-5.4zM351.9 423.3h5.4v5.4h-5.4zM381.6 382.3h5.4v5.4h-5.4zM411.6 378.3h5.4v5.4h-5.4zM452.2 377.3h5.4v5.4h-5.4zM501.2 355.3h5.4v5.4h-5.4zM583.5 330.3h5.4v5.4h-5.4zM702.4 309.3h5.4v5.4h-5.4z"/>
<path fill="#e87428" d="M322.2 504.3h5.4v5.4h-5.4zM351.9 429.1h5.4v5.4h-5.4zM381.6 387.2h5.4v5.4h-5.4zM411.6 382.9h5.4v5.4h-5.4zM452.2 381.9h5.4v5.4h-5.4zM501.2 359.6h5.4v5.4h-5.4zM583.5 333.5h5.4v5.4h-5.4zM702.4 312.2h5.4v5.4h-5.4z"/>
<path fill="#e2622a" d="M351.9 434.9h5.4v5.4h-5.4zM381.6 392.4h5.4v5.4h-5.4zM411.6 387.5h5.4v5.4h-5.4zM452.2 386.5h5.4v5.4h-5.4zM501.2 364h5.4v5.4h-5.4zM583.5 336.8h5.4v5.4h-5.4zM702.4 315h5.4v5.4h-5.4z"/>
<path fill="#e24a24" d="M351.9 439.4h5.4v5.4h-5.4zM381.6 398h5.4v5.4h-5.4zM411.6 392.1h5.4v5.4h-5.4zM452.2 391.1h5.4v5.4h-5.4zM501.2 368.6h5.4v5.4h-5.4zM583.5 340.2h5.4v5.4h-5.4zM702.4 317.9h5.4v5.4h-5.4z"/>
<path fill="#d93824" d="M351.9 447.3h5.4v5.4h-5.4zM381.6 404.3h5.4v5.4h-5.4zM411.6 396.7h5.4v5.4h-5.4zM452.2 395.8h5.4v5.4h-5.4zM501.2 373.2h5.4v5.4h-5.4zM583.5 343.7h5.4v5.4h-5.4zM702.4 320.9h5.4v5.4h-5.4z"/>
<path fill="#d52f26" d="M351.9 522h5.4v5.4h-5.4zM381.6 412.1h5.4v5.4h-5.4zM411.6 401.3h5.4v5.4h-5.4zM452.2 400.6h5.4v5.4h-5.4zM501.2 378h5.4v5.4h-5.4zM583.5 347.3h5.4v5.4h-5.4zM702.4 323.8h5.4v5.4h-5.4z"/>
<rect fill="#dada34" x="191" y="500.7" width="5.4" height="5.4"/>
<rect fill="#e8e23a" x="191" y="520.2" width="5.4" height="5.4"/>
</g>
<line x1="708" y1="57.5" x2="788.6" y2="47.5" stroke="#e2622a" stroke-width="2.2" stroke-dasharray="13.3 4.8"/>
<line x1="708" y1="93.1" x2="788.6" y2="93.1" stroke="#d52f26" stroke-width="2.2" stroke-dasharray="13.3 4.8"/>
<line x1="708" y1="162.5" x2="788.6" y2="147.5" stroke="#c8c838" stroke-width="2.2" stroke-dasharray="13.3 4.8"/>
<line x1="708" y1="206.5" x2="788.6" y2="206.5" stroke="#d52f26" stroke-width="2.2" stroke-dasharray="13.3 4.8"/>
<line x1="708" y1="271.5" x2="792.4" y2="271.5" stroke="#d52f26" stroke-width="2.2" stroke-dasharray="13.3 4.8"/>
<line x1="708" y1="326.5" x2="792.4" y2="326.5" stroke="#d52f26" stroke-width="2.2" stroke-dasharray="13.3 4.8"/>
<path d="M193.9 27.4v10M193.9 540.5v-10M231.3 27.4v10M231.3 540.5v-10M268.7 27.4v10M268.7 540.5v-10M306.1 27.4v20M306.1 540.5v-20M343.6 27.4v10M343.6 540.5v-10M381 27.4v10M381 540.5v-10M418.4 27.4v10M418.4 540.5v-10M455.8 27.4v20M455.8 540.5v-20M493.2 27.4v10M493.2 540.5v-10M530.6 27.4v10M530.6 540.5v-10M568 27.4v10M568 540.5v-10M605.4 27.4v20M605.4 540.5v-20M642.8 27.4v10M642.8 540.5v-10M680.2 27.4v10M680.2 540.5v-10M717.7 27.4v10M717.7 540.5v-10M157 493.7h10M754.7 493.7h-10M157 466.4h10M754.7 466.4h-10M157 446.9h10M754.7 446.9h-10M157 431.9h10M754.7 431.9h-10M157 419.6h10M754.7 419.6h-10M157 409.2h10M754.7 409.2h-10M157 400.2h10M754.7 400.2h-10M157 392.2h10M754.7 392.2h-10M157 385.1h20M754.7 385.1h-20M157 338.3h10M754.7 338.3h-10M157 311h10M754.7 311h-10M157 291.5h10M754.7 291.5h-10M157 276.5h10M754.7 276.5h-10M157 264.2h10M754.7 264.2h-10M157 253.8h10M754.7 253.8h-10M157 244.8h10M754.7 244.8h-10M157 236.8h10M754.7 236.8h-10M157 229.7h20M754.7 229.7h-20M157 182.9h10M754.7 182.9h-10M157 155.6h10M754.7 155.6h-10M157 136.1h10M754.7 136.1h-10M157 121.1h10M754.7 121.1h-10M157 108.8h10M754.7 108.8h-10M157 98.4h10M754.7 98.4h-10M157 89.4h10M754.7 89.4h-10M157 81.4h10M754.7 81.4h-10M157 74.3h20M754.7 74.3h-20M157 27.5h10M754.7 27.5h-10" stroke="#000" stroke-width="2.4" fill="none"/>
<rect x="157" y="27.4" width="597.7" height="513.1" fill="none" stroke="#000" stroke-width="2.5"/>
<text x="75.77" y="86.30" font-size="34.50">10</text>
<text x="112.52" y="73.50" font-size="26.00">−1</text>
<text x="75.77" y="242.20" font-size="34.50">10</text>
<text x="112.52" y="229.40" font-size="26.00">−2</text>
<text x="75.77" y="397.10" font-size="34.50">10</text>
<text x="112.52" y="384.30" font-size="26.00">−3</text>
<text x="75.77" y="552.50" font-size="34.50">10</text>
<text x="112.52" y="539.70" font-size="26.00">−4</text>
<text x="805.47" y="59.00" font-size="34.50">11 K</text>
<text x="804.46" y="104.80" font-size="34.50">20 K</text>
<text x="804.82" y="159.70" font-size="34.50">50 K</text>
<text x="805.00" y="216.80" font-size="34.50">80 K</text>
<text x="805.47" y="281.20" font-size="34.50">140 K</text>
<text x="804.46" y="337.20" font-size="34.50">200 K</text>
<g transform="translate(43.7,429) rotate(-90)"><text x="-2.63" y="0.00" font-size="34.50">1</text><text x="16.10" y="0.00" font-size="34.50">/</text><text x="27.84" y="0.00" font-size="34.50" font-style="italic">ρ</text><text x="62.56" y="0.00" font-size="34.50">(</text><text x="73.55" y="0.00" font-size="34.50">d</text><text x="95.64" y="0.00" font-size="34.50" font-style="italic">ρ</text><text x="129.00" y="0.00" font-size="34.50">/</text><text x="148.45" y="0.00" font-size="34.50">d</text><text x="175.10" y="0.00" font-size="34.50" font-style="italic">T</text><text x="197.10" y="0.00" font-size="34.50">)</text><text x="217.06" y="0.00" font-size="34.50">(</text><text x="227.97" y="0.00" font-size="34.50">K</text><text x="250.37" y="-13.50" font-size="25.00">−</text><text x="266.50" y="-13.80" font-size="25.00">1</text><text x="281.50" y="0.00" font-size="34.50">)</text><path d="M45.00 8.00H62.00M53.50 8.00V-8.60" stroke="#000" stroke-width="2.00" fill="none"/><path d="M113.00 8.00H129.50M121.25 8.00V-8.60" stroke="#000" stroke-width="2.00" fill="none"/></g>
<text x="10.83" y="37.00" font-size="43.50" font-weight="bold">a</text>
<clipPath id="chm"><polygon points="191,609.3 703,609.3 703,1102.5 702,1102.5 701,1102.5 700,1102.5 699,1102.5 698,1102.5 697,1102.5 696,1102.5 695,1102.5 694,1102.5 693,1102.5 692,1102.5 691,1102.5 690,1102.5 689,1102.5 688,1102.5 687,1102.5 686,1102.5 685,1102.5 684,1102.5 683,1102.5 682,1102.5 681,1102.5 680,1102.5 679,1102.5 678,1102.5 677,1102.5 676,1102.5 675,1102.5 674,1102.5 673,1102.5 672,1102.5 671,1102.5 670,1102.5 669,1102.5 668,1102.5 667,1102.5 666,1102.5 665,1102.5 664,1102.5 663,1102.5 662,1102.5 661,1102.5 660,1102.5 659,1102.5 658,1102.5 657,1102.5 656,1102.5 655,1102.5 654,1102.5 653,1102.5 652,1102.5 651,1102.5 650,1102.5 649,1102.5 648,1102.5 647,1102.5 646,1102.5 645,1102.5 644,1102.5 643,1102.5 642,1102.5 641,1102.5 640,1102.5 639,1102.5 638,1102.5 637,1102.5 636,1102.5 635,1102.5 634,1102.5 633,1102.5 632,1102.5 631,1102.5 630,1102.5 629,1102.5 628,1102.5 627,1102.5 626,1102.5 625,1102.5 624,1102.5 623,1102.5 622,1102.5 621,1102.5 620,1102.5 619,1102.5 618,1102.5 617,1102.5 616,1102.5 615,1102.5 614,1102.5 613,1102.5 612,1102.5 611,1102.5 610,1102.5 609,1102.5 608,1102.5 607,1102.5 606,1102.5 605,1102.5 604,1102.5 603,1102.5 602,1102.5 601,1102.5 600,1102.5 599,1102.5 598,1102.5 597,1102.5 596,1102.5 595,1102.5 594,1102.5 593,1102.5 592,1102.5 591,1102.5 590,1102.5 589,1102.5 588,1102.5 587,1102.5 586,1102.5 585,1102.5 584,1102.5 583,1102.5 582,1102.5 581,1102.5 580,1102.5 579,1102.5 578,1102.5 577,1102.5 576,1102.5 575,1102.5 574,1102.5 573,1102.5 572,1102.5 571,1102.5 570,1102.5 569,1102.5 568,1102.5 567,1102.5 566,1102.5 565,1102.5 564,1102.5 563,1102.5 562,1102.5 561,1102.5 560,1102.5 559,1102.5 558,1102.5 557,1102.5 556,1102.5 555,1102.5 554,1102.5 553,1102.5 552,1102.5 551,1102.5 550,1102.5 549,1102.5 548,1102.5 547,1102.5 546,1102.5 545,1102.5 544,1102.5 543,1102.5 542,1102.5 541,1102.5 540,1102.5 539,1102.5 538,1102.5 537,1102.5 536,1102.5 535,1102.5 534,1102.5 533,1102.5 532,1102.5 531,1102.5 530,1102.5 529,1102.5 528,1102.5 527,1102.5 526,1102.5 525,1102.5 524,1102.5 523,1102.5 522,1102.5 521,1102.5 520,1102.5 519,1102.5 518,1102.5 517,1102.5 516,1102.5 515,1102.5 514,1102.5 513,1102.5 512,1102.5 511,1102.5 510,1102.5 509,1102.5 508,1102.4 507,1102.3 506,1102.2 505,1102.1 504,1102 503,1101.9 502,1101.8 501,1101.7 500,1101.6 499,1101.5 498,1101.4 497,1101.2 496,1101.1 495,1101 494,1100.9 493,1100.8 492,1100.7 491,1100.6 490,1100.5 489,1100.4 488,1100.3 487,1100.2 486,1100.1 485,1100 484,1099.9 483,1099.8 482,1099.7 481,1099.6 480,1099.6 479,1099.5 478,1099.4 477,1099.3 476,1099.2 475,1099.1 474,1099 473,1098.9 472,1098.8 471,1098.7 470,1098.6 469,1098.5 468,1098.4 467,1098.3 466,1098.2 465,1098.1 464,1098 463,1097.9 462,1097.9 461,1097.8 460,1097.7 459,1097.6 458,1097.5 457,1097.4 456,1097.3 455,1097.2 454,1097.1 453,1097 452,1096.8 451,1096.7 450,1096.5 449,1096.4 448,1096.2 447,1096.1 446,1095.9 445,1095.7 444,1095.6 443,1095.4 442,1095.3 441,1095.1 440,1094.9 439,1094.8 438,1094.6 437,1094.5 436,1094.3 435,1094.2 434,1094 433,1093.8 432,1093.7 431,1093.5 430,1093.4 429,1093.2 428,1093.1 427,1092.9 426,1092.7 425,1092.6 424,1092.4 423,1092.3 422,1092.1 421,1091.9 420,1091.8 419,1091.6 418,1091.5 417,1091.3 416,1091.2 415,1091 414,1090.9 413,1090.8 412,1090.7 411,1090.6 410,1090.5 409,1090.4 408,1090.3 407,1090.2 406,1090.1 405,1090.1 404,1090 403,1089.9 402,1089.8 401,1089.7 400,1089.6 399,1089.5 398,1089.4 397,1089.3 396,1089.2 395,1089.1 394,1089 393,1088.9 392,1088.8 391,1088.7 390,1088.6 389,1088.5 388,1088.4 387,1088.4 386,1088.3 385,1088.2 384,1088.1 383,1088 382,1087.9 381,1087.8 380,1087.7 379,1087.6 378,1087.5 377,1087.5 376,1087.5 375,1087.5 374,1087.4 373,1087.4 372,1087.4 371,1087.4 370,1087.4 369,1087.4 368,1087.4 367,1087.4 366,1087.3 365,1087.3 364,1087.3 363,1087.3 362,1087.3 361,1087.3 360,1087.3 359,1087.2 358,1087.2 357,1087.2 356,1087.2 355,1087.2 354,1087.2 353,1087.2 352,1087.2 351,1087.1 350,1087.1 349,1087.1 348,1087.1 347,1087.1 346,1087.1 345,1087.1 344,1087.1 343,1087 342,1087 341,1087 340,1087 339,1087 338,1087 337,1087 336,1087.1 335,1087.1 334,1087.1 333,1087.1 332,1087.1 331,1087.1 330,1087.1 329,1087.1 328,1087.2 327,1087.2 326,1087.2 325,1087.2 324,1087.2 323,1087.2 322,1087.2 321,1087.3 320,1087.3 319,1087.3 318,1087.3 317,1087.3 316,1087.3 315,1087.3 314,1087.4 313,1087.4 312,1087.4 311,1087.4 310,1087.4 309,1087.4 308,1087.4 307,1087.4 306,1087.5 305,1087.5 304,1087.5 303,1087.5 302,1087.8 301,1088 300,1088.2 299,1088.5 298,1088.8 297,1089 296,1089.2 295,1089.5 294,1089.8 293,1090 292,1090.2 291,1090.5 290,1090.8 289,1091 288,1091.2 287,1091.5 286,1091.8 285,1092 284,1092.2 283,1092.5 282,1092.8 281,1093 280,1093.2 279,1093.5 278,1093.8 277,1094 276,1094.2 275,1094.5 274,1094.8 273,1095 272,1095.2 271,1095.5 270,1095.8 269,1096 268,1096.2 267,1096.5 266,1096.8 265,1097 264,1097.3 263,1097.6 262,1097.9 261,1098.2 260,1098.5 259,1098.8 258,1099.1 257,1099.4 256,1099.7 255,1100 254,1100.3 253,1100.6 252,1100.9 251,1101.2 250,1101.5 249,1101.8 248,1102.1 247,1102.4 246,1102.5 245,1102.5 244,1102.5 243,1102.5 242,1102.5 241,1102.5 240,1102.5 239,1102.5 238,1102.5 237,1102.5 236,1102.5 235,1102.5 234,1102.5 233,1102.5 232,1102.5 231,1102.5 230,1102.5 229,1102.5 228,1102.5 227,1102.5 226,1102.5 225,1102.5 224,1102.5 223,1102.5 222,1102.5 221,1102.5 220,1102.5 219,1102.5 218,1102.5 217,1102.5 216,1102.5 215,1102.5 214,1102.5 213,1102.5 212,1102.5 211,1102.5 210,1102.5 209,1102.5 208,1102.5 207,1102.5 206,1102.5 205,1102.5 204,1102.5 203,1102.5 202,1102.5 201,1102.5 200,1102.5 199,1102.5 198,1102.5 197,1102.5 196,1102.5 195,1102.5 194,1102.5 193,1102.5 192,1102.5 191,1102.5"/></clipPath>
<g clip-path="url(#chm)"><defs><linearGradient id="h0" x1="0" y1="0" x2="0" y2="1"><stop offset="0.0010" stop-color="#e34d22"/><stop offset="0.6377" stop-color="#e44f22"/><stop offset="0.7451" stop-color="#e76422"/><stop offset="0.7918" stop-color="#ee8e22"/><stop offset="0.8141" stop-color="#f09b20"/><stop offset="0.8404" stop-color="#f2c818"/><stop offset="0.8526" stop-color="#f1e022"/><stop offset="0.8729" stop-color="#e6e340"/><stop offset="0.8749" stop-color="#2b50a2"/><stop offset="1.0006" stop-color="#2b50a2"/></linearGradient><linearGradient id="h1" x1="0" y1="0" x2="0" y2="1"><stop offset="0.0010" stop-color="#e34a22"/><stop offset="0.6215" stop-color="#e34d22"/><stop offset="0.7391" stop-color="#e76222"/><stop offset="0.7573" stop-color="#e86e22"/><stop offset="0.7918" stop-color="#ee8d22"/><stop offset="0.8161" stop-color="#f09d1f"/><stop offset="0.8425" stop-color="#f2cb19"/><stop offset="0.8526" stop-color="#f2e021"/><stop offset="0.8729" stop-color="#e6e340"/><stop offset="0.8749" stop-color="#2b50a2"/><stop offset="1.0006" stop-color="#2b50a2"/></linearGradient><linearGradient id="h2" x1="0" y1="0" x2="0" y2="1"><stop offset="0.0010" stop-color="#e34822"/><stop offset="0.6113" stop-color="#e34a22"/><stop offset="0.7309" stop-color="#e65e22"/><stop offset="0.7553" stop-color="#e86d22"/><stop offset="0.7918" stop-color="#ee8d22"/><stop offset="0.8161" stop-color="#f09c1f"/><stop offset="0.8425" stop-color="#f2c918"/><stop offset="0.8526" stop-color="#f2e020"/><stop offset="0.8729" stop-color="#e6e340"/><stop offset="0.8749" stop-color="#2b50a2"/><stop offset="1.0006" stop-color="#2b50a2"/></linearGradient><linearGradient id="h3" x1="0" y1="0" x2="0" y2="1"><stop offset="0.0010" stop-color="#e24522"/><stop offset="0.6052" stop-color="#e24822"/><stop offset="0.7309" stop-color="#e65d22"/><stop offset="0.7593" stop-color="#e97122"/><stop offset="0.7938" stop-color="#ee8d22"/><stop offset="0.8161" stop-color="#f09c20"/><stop offset="0.8425" stop-color="#f2c818"/><stop offset="0.8546" stop-color="#f1e023"/><stop offset="0.8729" stop-color="#e6e340"/><stop offset="0.8749" stop-color="#2b50a2"/><stop offset="1.0006" stop-color="#2b50a2"/></linearGradient><linearGradient id="h4" x1="0" y1="0" x2="0" y2="1"><stop offset="0.0010" stop-color="#e24222"/><stop offset="0.5991" stop-color="#e24522"/><stop offset="0.7289" stop-color="#e65c22"/><stop offset="0.7695" stop-color="#eb7a22"/><stop offset="0.7958" stop-color="#ee8e22"/><stop offset="0.8161" stop-color="#f09b20"/><stop offset="0.8425" stop-color="#f2c718"/><stop offset="0.8546" stop-color="#f1e022"/><stop offset="0.8729" stop-color="#e5e23f"/><stop offset="0.8749" stop-color="#2b50a2"/><stop offset="1.0006" stop-color="#2b50a2"/></linearGradient><linearGradient id="h5" x1="0" y1="0" x2="0" y2="1"><stop offset="0.0010" stop-color="#e14022"/><stop offset="0.5951" stop-color="#e24322"/><stop offset="0.7289" stop-color="#e65c22"/><stop offset="0.7958" stop-color="#ee8e22"/><stop offset="0.8161" stop-color="#f09b20"/><stop offset="0.8445" stop-color="#f2cb19"/><stop offset="0.8546" stop-color="#f1e022"/><stop offset="0.8708" stop-color="#e7e33e"/><stop offset="0.8729" stop-color="#e5e23f"/><stop offset="0.8749" stop-color="#2b50a2"/><stop offset="1.0006" stop-color="#2b50a2"/></linearGradient><linearGradient id="h6" x1="0" y1="0" x2="0" y2="1"><stop offset="0.0010" stop-color="#e13f22"/><stop offset="0.5890" stop-color="#e14122"/><stop offset="0.7249" stop-color="#e65b22"/><stop offset="0.7857" stop-color="#ee8822"/><stop offset="0.8161" stop-color="#f09b20"/><stop offset="0.8445" stop-color="#f2cb19"/><stop offset="0.8546" stop-color="#f1e023"/><stop offset="0.8708" stop-color="#e6e33f"/><stop offset="0.8729" stop-color="#e4e13e"/><stop offset="0.8749" stop-color="#2b50a2"/><stop offset="1.0006" stop-color="#2b50a2"/></linearGradient><linearGradient id="h7" x1="0" y1="0" x2="0" y2="1"><stop offset="0.0010" stop-color="#e13e22"/><stop offset="0.5850" stop-color="#e14122"/><stop offset="0.7228" stop-color="#e65b22"/><stop offset="0.7958" stop-color="#ee8d22"/><stop offset="0.8161" stop-color="#f09c20"/><stop offset="0.8425" stop-color="#f2c818"/><stop offset="0.8526" stop-color="#f2e020"/><stop offset="0.8708" stop-color="#e5e23f"/><stop offset="0.8729" stop-color="#e3e03c"/><stop offset="0.8749" stop-color="#2b50a2"/><stop offset="1.0006" stop-color="#2b50a2"/></linearGradient><linearGradient id="h8" x1="0" y1="0" x2="0" y2="1"><stop offset="0.0010" stop-color="#e13e22"/><stop offset="0.5789" stop-color="#e14122"/><stop offset="0.7188" stop-color="#e65b22"/><stop offset="0.7796" stop-color="#ed8422"/><stop offset="0.8141" stop-color="#f09a20"/><stop offset="0.8425" stop-color="#f2c918"/><stop offset="0.8506" stop-color="#f2de1f"/><stop offset="0.8688" stop-color="#e6e340"/><stop offset="0.8729" stop-color="#e0df3a"/><stop offset="0.8749" stop-color="#2b50a2"/><stop offset="1.0006" stop-color="#2b50a2"/></linearGradient><linearGradient id="h9" x1="0" y1="0" x2="0" y2="1"><stop offset="0.0010" stop-color="#e13e22"/><stop offset="0.5728" stop-color="#e14122"/><stop offset="0.7167" stop-color="#e65c22"/><stop offset="0.7796" stop-color="#ed8622"/><stop offset="0.8120" stop-color="#f09920"/><stop offset="0.8404" stop-color="#f2c718"/><stop offset="0.8506" stop-color="#f1e022"/><stop offset="0.8668" stop-color="#e5e23f"/><stop offset="0.8729" stop-color="#dddc36"/><stop offset="0.8749" stop-color="#2b50a2"/><stop offset="1.0006" stop-color="#2b50a2"/></linearGradient><linearGradient id="h10" x1="0" y1="0" x2="0" y2="1"><stop offset="0.0010" stop-color="#e14022"/><stop offset="0.5687" stop-color="#e24322"/><stop offset="0.7147" stop-color="#e65e22"/><stop offset="0.7755" stop-color="#ed8522"/><stop offset="0.8100" stop-color="#f09920"/><stop offset="0.8384" stop-color="#f2c618"/><stop offset="0.8485" stop-color="#f1e022"/><stop offset="0.8627" stop-color="#e6e340"/><stop offset="0.8729" stop-color="#d8d830"/><stop offset="0.8749" stop-color="#2b50a2"/><stop offset="1.0006" stop-color="#2b50a2"/></linearGradient><linearGradient id="h11" x1="0" y1="0" x2="0" y2="1"><stop offset="0.0010" stop-color="#e14222"/><stop offset="0.5687" stop-color="#e24622"/><stop offset="0.7167" stop-color="#e76322"/><stop offset="0.7735" stop-color="#ed8722"/><stop offset="0.8080" stop-color="#f09a20"/><stop offset="0.8364" stop-color="#f2c718"/><stop offset="0.8445" stop-color="#f2de1f"/><stop offset="0.8587" stop-color="#e7e33e"/><stop offset="0.8688" stop-color="#d7d730"/><stop offset="0.8729" stop-color="#d0d034"/><stop offset="0.8749" stop-color="#2b50a2"/><stop offset="1.0006" stop-color="#2b50a2"/></linearGradient><linearGradient id="h12" x1="0" y1="0" x2="0" y2="1"><stop offset="0.0010" stop-color="#e24422"/><stop offset="0.5708" stop-color="#e34922"/><stop offset="0.7208" stop-color="#e86922"/><stop offset="0.7674" stop-color="#ee8822"/><stop offset="0.8060" stop-color="#f09b20"/><stop offset="0.8343" stop-color="#f2c918"/><stop offset="0.8425" stop-color="#f2e020"/><stop offset="0.8546" stop-color="#e7e33d"/><stop offset="0.8587" stop-color="#e1df3a"/><stop offset="0.8648" stop-color="#d6d631"/><stop offset="0.8729" stop-color="#c6c639"/><stop offset="0.8749" stop-color="#2b50a2"/><stop offset="1.0006" stop-color="#2b50a2"/></linearGradient><linearGradient id="h13" x1="0" y1="0" x2="0" y2="1"><stop offset="0.0010" stop-color="#e24722"/><stop offset="0.5748" stop-color="#e44e22"/><stop offset="0.7208" stop-color="#e96f22"/><stop offset="0.7593" stop-color="#ed8722"/><stop offset="0.8039" stop-color="#f09e1f"/><stop offset="0.8303" stop-color="#f2c918"/><stop offset="0.8404" stop-color="#f2e021"/><stop offset="0.8526" stop-color="#e5e23f"/><stop offset="0.8587" stop-color="#d9d931"/><stop offset="0.8688" stop-color="#c2c23c"/><stop offset="0.8729" stop-color="#b5b543"/><stop offset="0.8749" stop-color="#2b50a2"/><stop offset="1.0006" stop-color="#2b50a2"/></linearGradient><linearGradient id="h14" x1="0" y1="0" x2="0" y2="1"><stop offset="0.0010" stop-color="#e34b22"/><stop offset="0.5748" stop-color="#e45222"/><stop offset="0.7228" stop-color="#ea7722"/><stop offset="0.7532" stop-color="#ee8822"/><stop offset="0.7999" stop-color="#f1a01e"/><stop offset="0.8242" stop-color="#f2c518"/><stop offset="0.8364" stop-color="#f2df20"/><stop offset="0.8485" stop-color="#e6e340"/><stop offset="0.8546" stop-color="#dad932"/><stop offset="0.8627" stop-color="#c6c639"/><stop offset="0.8729" stop-color="#a2a252"/><stop offset="0.8749" stop-color="#2b50a2"/><stop offset="1.0006" stop-color="#2b50a2"/></linearGradient><linearGradient id="h15" x1="0" y1="0" x2="0" y2="1"><stop offset="0.0010" stop-color="#e44e22"/><stop offset="0.5809" stop-color="#e55822"/><stop offset="0.7289" stop-color="#ec8022"/><stop offset="0.7938" stop-color="#f1a21e"/><stop offset="0.8100" stop-color="#f2b51a"/><stop offset="0.8242" stop-color="#f2cf1a"/><stop offset="0.8323" stop-color="#f2e020"/><stop offset="0.8404" stop-color="#ece231"/><stop offset="0.8445" stop-color="#e7e33d"/><stop offset="0.8465" stop-color="#e4e13d"/><stop offset="0.8526" stop-color="#d6d631"/><stop offset="0.8607" stop-color="#c0c03d"/><stop offset="0.8688" stop-color="#a0a054"/><stop offset="0.8729" stop-color="#8e8e66"/><stop offset="0.8749" stop-color="#2b50a2"/><stop offset="1.0006" stop-color="#2b50a2"/></linearGradient><linearGradient id="h16" x1="0" y1="0" x2="0" y2="1"><stop offset="0.0010" stop-color="#e45122"/><stop offset="0.5829" stop-color="#e65e22"/><stop offset="0.7350" stop-color="#ee8922"/><stop offset="0.7816" stop-color="#f09f1f"/><stop offset="0.8060" stop-color="#f2b61a"/><stop offset="0.8181" stop-color="#f2cc19"/><stop offset="0.8283" stop-color="#f1e022"/><stop offset="0.8384" stop-color="#ebe233"/><stop offset="0.8425" stop-color="#e6e340"/><stop offset="0.8485" stop-color="#d8d830"/><stop offset="0.8567" stop-color="#c3c33b"/><stop offset="0.8648" stop-color="#a1a153"/><stop offset="0.8708" stop-color="#858570"/><stop offset="0.8729" stop-color="#808075"/><stop offset="0.8749" stop-color="#2b50a2"/><stop offset="1.0006" stop-color="#2b50a2"/></linearGradient><linearGradient id="h17" x1="0" y1="0" x2="0" y2="1"><stop offset="0.0010" stop-color="#e45322"/><stop offset="0.5809" stop-color="#e76222"/><stop offset="0.7573" stop-color="#ef9521"/><stop offset="0.7938" stop-color="#f2b11a"/><stop offset="0.8100" stop-color="#f2c618"/><stop offset="0.8222" stop-color="#f2e021"/><stop offset="0.8384" stop-color="#e7e33d"/><stop offset="0.8404" stop-color="#e3e13d"/><stop offset="0.8445" stop-color="#dad932"/><stop offset="0.8506" stop-color="#cbcb36"/><stop offset="0.8587" stop-color="#aeae47"/><stop offset="0.8688" stop-color="#818173"/><stop offset="0.8729" stop-color="#76767f"/><stop offset="0.8749" stop-color="#2b50a2"/><stop offset="1.0006" stop-color="#2b50a2"/></linearGradient><linearGradient id="h18" x1="0" y1="0" x2="0" y2="1"><stop offset="0.0010" stop-color="#e55522"/><stop offset="0.5768" stop-color="#e76622"/><stop offset="0.7309" stop-color="#ef9021"/><stop offset="0.7593" stop-color="#f09a20"/><stop offset="0.8019" stop-color="#f2c318"/><stop offset="0.8141" stop-color="#f2dc1f"/><stop offset="0.8181" stop-color="#f1e024"/><stop offset="0.8343" stop-color="#e6e33f"/><stop offset="0.8425" stop-color="#d6d631"/><stop offset="0.8506" stop-color="#c0c03d"/><stop offset="0.8587" stop-color="#a2a252"/><stop offset="0.8648" stop-color="#858570"/><stop offset="0.8688" stop-color="#7a7a7a"/><stop offset="0.8729" stop-color="#6d6b8c"/><stop offset="0.8749" stop-color="#2b50a2"/><stop offset="1.0006" stop-color="#2b50a2"/></linearGradient><linearGradient id="h19" x1="0" y1="0" x2="0" y2="1"><stop offset="0.0010" stop-color="#e55522"/><stop offset="0.5403" stop-color="#e76722"/><stop offset="0.5971" stop-color="#e96f22"/><stop offset="0.7086" stop-color="#ef8f21"/><stop offset="0.7532" stop-color="#f09c20"/><stop offset="0.7918" stop-color="#f2c119"/><stop offset="0.8080" stop-color="#f2db1e"/><stop offset="0.8120" stop-color="#f1e023"/><stop offset="0.8283" stop-color="#e6e340"/><stop offset="0.8384" stop-color="#d8d830"/><stop offset="0.8485" stop-color="#bbbb40"/><stop offset="0.8546" stop-color="#a5a54f"/><stop offset="0.8627" stop-color="#838371"/><stop offset="0.8688" stop-color="#727284"/><stop offset="0.8708" stop-color="#6c6a8d"/><stop offset="0.8729" stop-color="#615b99"/><stop offset="0.8749" stop-color="#2b50a2"/><stop offset="1.0006" stop-color="#2b50a2"/></linearGradient><linearGradient id="h20" x1="0" y1="0" x2="0" y2="1"><stop offset="0.0010" stop-color="#e55522"/><stop offset="0.4957" stop-color="#e76622"/><stop offset="0.5931" stop-color="#e97122"/><stop offset="0.6924" stop-color="#ef8f21"/><stop offset="0.7472" stop-color="#f09d1f"/><stop offset="0.7837" stop-color="#f2c119"/><stop offset="0.7999" stop-color="#f2d81d"/><stop offset="0.8060" stop-color="#f1e022"/><stop offset="0.8222" stop-color="#e6e33f"/><stop offset="0.8323" stop-color="#d8d831"/><stop offset="0.8404" stop-color="#c9c938"/><stop offset="0.8506" stop-color="#a7a74e"/><stop offset="0.8607" stop-color="#828273"/><stop offset="0.8668" stop-color="#727185"/><stop offset="0.8688" stop-color="#6c6a8e"/><stop offset="0.8729" stop-color="#5551a1"/><stop offset="0.8749" stop-color="#2b50a2"/><stop offset="1.0006" stop-color="#2b50a2"/></linearGradient><linearGradient id="h21" x1="0" y1="0" x2="0" y2="1"><stop offset="0.0010" stop-color="#e55422"/><stop offset="0.4532" stop-color="#e76522"/><stop offset="0.5890" stop-color="#ea7422"/><stop offset="0.6823" stop-color="#ef9021"/><stop offset="0.7411" stop-color="#f1a01e"/><stop offset="0.7755" stop-color="#f2c019"/><stop offset="0.7938" stop-color="#f2db1e"/><stop offset="0.8019" stop-color="#f0e126"/><stop offset="0.8161" stop-color="#e7e33e"/><stop offset="0.8283" stop-color="#d6d631"/><stop offset="0.8384" stop-color="#c2c23b"/><stop offset="0.8485" stop-color="#a0a055"/><stop offset="0.8567" stop-color="#848471"/><stop offset="0.8627" stop-color="#76767f"/><stop offset="0.8668" stop-color="#6b698e"/><stop offset="0.8688" stop-color="#605b9a"/><stop offset="0.8708" stop-color="#5651a1"/><stop offset="0.8729" stop-color="#4e50a2"/><stop offset="0.8749" stop-color="#2b50a2"/><stop offset="1.0006" stop-color="#2b50a2"/></linearGradient><linearGradient id="h22" x1="0" y1="0" x2="0" y2="1"><stop offset="0.0010" stop-color="#e45322"/><stop offset="0.4207" stop-color="#e76422"/><stop offset="0.5809" stop-color="#ea7522"/><stop offset="0.6721" stop-color="#ef9021"/><stop offset="0.7289" stop-color="#f1a11e"/><stop offset="0.7553" stop-color="#f2b21a"/><stop offset="0.7796" stop-color="#f2ce1a"/><stop offset="0.7918" stop-color="#f1e022"/><stop offset="0.8120" stop-color="#e5e23f"/><stop offset="0.8222" stop-color="#d7d731"/><stop offset="0.8343" stop-color="#bfbf3d"/><stop offset="0.8404" stop-color="#abab4a"/><stop offset="0.8526" stop-color="#848471"/><stop offset="0.8587" stop-color="#79797b"/><stop offset="0.8648" stop-color="#6a6890"/><stop offset="0.8668" stop-color="#5f589b"/><stop offset="0.8688" stop-color="#5551a1"/><stop offset="0.8729" stop-color="#474fa3"/><stop offset="0.8749" stop-color="#2b50a2"/><stop offset="1.0006" stop-color="#2b50a2"/></linearGradient><linearGradient id="h23" x1="0" y1="0" x2="0" y2="1"><stop offset="0.0010" stop-color="#e45222"/><stop offset="0.3944" stop-color="#e76222"/><stop offset="0.5647" stop-color="#ea7522"/><stop offset="0.7147" stop-color="#f1a01e"/><stop offset="0.7512" stop-color="#f2b619"/><stop offset="0.7735" stop-color="#f2cf1a"/><stop offset="0.7837" stop-color="#f2e020"/><stop offset="0.8060" stop-color="#e6e340"/><stop offset="0.8161" stop-color="#d8d830"/><stop offset="0.8283" stop-color="#c2c23c"/><stop offset="0.8384" stop-color="#a4a450"/><stop offset="0.8465" stop-color="#88886d"/><stop offset="0.8567" stop-color="#757580"/><stop offset="0.8607" stop-color="#6d6b8d"/><stop offset="0.8648" stop-color="#5b549f"/><stop offset="0.8729" stop-color="#414fa4"/><stop offset="0.8749" stop-color="#2b50a2"/><stop offset="1.0006" stop-color="#2b50a2"/></linearGradient><linearGradient id="h24" x1="0" y1="0" x2="0" y2="1"><stop offset="0.0010" stop-color="#e45122"/><stop offset="0.3761" stop-color="#e76222"/><stop offset="0.5505" stop-color="#ea7622"/><stop offset="0.7026" stop-color="#f09f1f"/><stop offset="0.7472" stop-color="#f2ba19"/><stop offset="0.7674" stop-color="#f2d11b"/><stop offset="0.7796" stop-color="#f1e023"/><stop offset="0.7999" stop-color="#e6e33f"/><stop offset="0.8120" stop-color="#d7d731"/><stop offset="0.8242" stop-color="#bfbf3d"/><stop offset="0.8323" stop-color="#a8a84c"/><stop offset="0.8384" stop-color="#949460"/><stop offset="0.8425" stop-color="#848471"/><stop offset="0.8526" stop-color="#747482"/><stop offset="0.8587" stop-color="#686692"/><stop offset="0.8627" stop-color="#5751a1"/><stop offset="0.8729" stop-color="#3b4ea5"/><stop offset="0.8749" stop-color="#2b50a2"/><stop offset="1.0006" stop-color="#2b50a2"/></linearGradient><linearGradient id="h25" x1="0" y1="0" x2="0" y2="1"><stop offset="0.0010" stop-color="#e45022"/><stop offset="0.3599" stop-color="#e66122"/><stop offset="0.5363" stop-color="#ea7622"/><stop offset="0.6924" stop-color="#f1a01e"/><stop offset="0.7431" stop-color="#f2be19"/><stop offset="0.7614" stop-color="#f2d21b"/><stop offset="0.7735" stop-color="#f1e023"/><stop offset="0.7958" stop-color="#e5e23f"/><stop offset="0.8060" stop-color="#d8d830"/><stop offset="0.8181" stop-color="#c3c33b"/><stop offset="0.8283" stop-color="#a7a74e"/><stop offset="0.8404" stop-color="#7f7f75"/><stop offset="0.8526" stop-color="#6c6a8e"/><stop offset="0.8587" stop-color="#5852a0"/><stop offset="0.8729" stop-color="#364ea5"/><stop offset="0.8749" stop-color="#2b50a2"/><stop offset="1.0006" stop-color="#2b50a2"/></linearGradient><linearGradient id="h26" x1="0" y1="0" x2="0" y2="1"><stop offset="0.0010" stop-color="#e44f22"/><stop offset="0.3457" stop-color="#e66022"/><stop offset="0.5262" stop-color="#ea7622"/><stop offset="0.6823" stop-color="#f1a01e"/><stop offset="0.7330" stop-color="#f2be19"/><stop offset="0.7532" stop-color="#f2d11b"/><stop offset="0.7654" stop-color="#f1e021"/><stop offset="0.7897" stop-color="#e6e33f"/><stop offset="0.8019" stop-color="#d7d731"/><stop offset="0.8141" stop-color="#c2c23c"/><stop offset="0.8242" stop-color="#a6a64e"/><stop offset="0.8343" stop-color="#848471"/><stop offset="0.8485" stop-color="#696691"/><stop offset="0.8526" stop-color="#5c549e"/><stop offset="0.8688" stop-color="#384ea5"/><stop offset="0.8749" stop-color="#2b50a2"/><stop offset="1.0006" stop-color="#2b50a2"/></linearGradient><linearGradient id="h27" x1="0" y1="0" x2="0" y2="1"><stop offset="0.0010" stop-color="#e44f22"/><stop offset="0.3356" stop-color="#e66022"/><stop offset="0.5160" stop-color="#ea7722"/><stop offset="0.6721" stop-color="#f09f1f"/><stop offset="0.7249" stop-color="#f2be19"/><stop offset="0.7472" stop-color="#f2d31c"/><stop offset="0.7593" stop-color="#f1e022"/><stop offset="0.7837" stop-color="#e6e340"/><stop offset="0.7958" stop-color="#d8d830"/><stop offset="0.8100" stop-color="#c1c13c"/><stop offset="0.8202" stop-color="#a6a64f"/><stop offset="0.8303" stop-color="#848471"/><stop offset="0.8384" stop-color="#737284"/><stop offset="0.8445" stop-color="#645f96"/><stop offset="0.8485" stop-color="#5952a0"/><stop offset="0.8729" stop-color="#2c4fa4"/><stop offset="1.0006" stop-color="#2b50a2"/></linearGradient><linearGradient id="h28" x1="0" y1="0" x2="0" y2="1"><stop offset="0.0010" stop-color="#e44f22"/><stop offset="0.3254" stop-color="#e66022"/><stop offset="0.5079" stop-color="#ea7822"/><stop offset="0.6620" stop-color="#f09f1f"/><stop offset="0.7167" stop-color="#f2bf19"/><stop offset="0.7411" stop-color="#f2d61d"/><stop offset="0.7512" stop-color="#f1e021"/><stop offset="0.7796" stop-color="#e5e23f"/><stop offset="0.7918" stop-color="#d7d730"/><stop offset="0.8060" stop-color="#c0c03d"/><stop offset="0.8161" stop-color="#a6a64f"/><stop offset="0.8262" stop-color="#858570"/><stop offset="0.8343" stop-color="#747383"/><stop offset="0.8384" stop-color="#6a688f"/><stop offset="0.8425" stop-color="#5a52a0"/><stop offset="0.8688" stop-color="#2e4fa4"/><stop offset="0.8972" stop-color="#2b50a2"/><stop offset="1.0006" stop-color="#2b50a2"/></linearGradient><linearGradient id="h29" x1="0" y1="0" x2="0" y2="1"><stop offset="0.0010" stop-color="#e44f22"/><stop offset="0.3193" stop-color="#e66122"/><stop offset="0.5018" stop-color="#eb7922"/><stop offset="0.6519" stop-color="#f09f1f"/><stop offset="0.7127" stop-color="#f2c218"/><stop offset="0.7431" stop-color="#f2e021"/><stop offset="0.7735" stop-color="#e5e23f"/><stop offset="0.7857" stop-color="#d8d830"/><stop offset="0.7999" stop-color="#c4c43a"/><stop offset="0.8120" stop-color="#a6a64e"/><stop offset="0.8242" stop-color="#828273"/><stop offset="0.8303" stop-color="#757580"/><stop offset="0.8343" stop-color="#6c6a8d"/><stop offset="0.8384" stop-color="#5c559e"/><stop offset="0.8445" stop-color="#4e50a2"/><stop offset="0.8688" stop-color="#2c4fa4"/><stop offset="1.0006" stop-color="#2b50a2"/></linearGradient><linearGradient id="h30" x1="0" y1="0" x2="0" y2="1"><stop offset="0.0010" stop-color="#e45022"/><stop offset="0.3173" stop-color="#e76222"/><stop offset="0.4978" stop-color="#eb7b22"/><stop offset="0.6417" stop-color="#f09f1f"/><stop offset="0.7086" stop-color="#f2c618"/><stop offset="0.7370" stop-color="#f1e022"/><stop offset="0.7674" stop-color="#e5e33f"/><stop offset="0.7816" stop-color="#d7d730"/><stop offset="0.7979" stop-color="#bfbf3e"/><stop offset="0.8080" stop-color="#a7a74e"/><stop offset="0.8222" stop-color="#7f7f75"/><stop offset="0.8323" stop-color="#696791"/><stop offset="0.8364" stop-color="#5952a0"/><stop offset="0.8526" stop-color="#3c4ea5"/><stop offset="0.8648" stop-color="#2c4fa4"/><stop offset="1.0006" stop-color="#2b50a2"/></linearGradient><linearGradient id="h31" x1="0" y1="0" x2="0" y2="1"><stop offset="0.0010" stop-color="#e45122"/><stop offset="0.3112" stop-color="#e76322"/><stop offset="0.4937" stop-color="#eb7d22"/><stop offset="0.6316" stop-color="#f09f1f"/><stop offset="0.7026" stop-color="#f2c818"/><stop offset="0.7289" stop-color="#f2e021"/><stop offset="0.7614" stop-color="#e6e340"/><stop offset="0.7755" stop-color="#d8d830"/><stop offset="0.7918" stop-color="#c2c23c"/><stop offset="0.8039" stop-color="#a7a74e"/><stop offset="0.8181" stop-color="#818174"/><stop offset="0.8242" stop-color="#757481"/><stop offset="0.8283" stop-color="#6c6a8e"/><stop offset="0.8323" stop-color="#5c559e"/><stop offset="0.8404" stop-color="#4a4fa3"/><stop offset="0.8627" stop-color="#2c4fa4"/><stop offset="1.0006" stop-color="#2b50a2"/></linearGradient><linearGradient id="h32" x1="0" y1="0" x2="0" y2="1"><stop offset="0.0010" stop-color="#e45222"/><stop offset="0.3052" stop-color="#e76422"/><stop offset="0.4917" stop-color="#ec8022"/><stop offset="0.6235" stop-color="#f09f1f"/><stop offset="0.6944" stop-color="#f2c818"/><stop offset="0.7228" stop-color="#f1e022"/><stop offset="0.7553" stop-color="#e6e340"/><stop offset="0.7715" stop-color="#d7d731"/><stop offset="0.7877" stop-color="#c1c13c"/><stop offset="0.7999" stop-color="#a7a74e"/><stop offset="0.8141" stop-color="#828273"/><stop offset="0.8202" stop-color="#77767f"/><stop offset="0.8262" stop-color="#696791"/><stop offset="0.8303" stop-color="#5952a0"/><stop offset="0.8465" stop-color="#3c4ea5"/><stop offset="0.8607" stop-color="#2c4fa4"/><stop offset="1.0006" stop-color="#2b50a2"/></linearGradient><linearGradient id="h33" x1="0" y1="0" x2="0" y2="1"><stop offset="0.0010" stop-color="#e45322"/><stop offset="0.3011" stop-color="#e76622"/><stop offset="0.4876" stop-color="#ec8222"/><stop offset="0.6154" stop-color="#f09f1f"/><stop offset="0.6843" stop-color="#f2c718"/><stop offset="0.7147" stop-color="#f1e022"/><stop offset="0.7492" stop-color="#e6e340"/><stop offset="0.7654" stop-color="#d7d730"/><stop offset="0.7837" stop-color="#c0c03d"/><stop offset="0.7958" stop-color="#a7a74e"/><stop offset="0.8100" stop-color="#838372"/><stop offset="0.8181" stop-color="#747382"/><stop offset="0.8222" stop-color="#6c6a8e"/><stop offset="0.8262" stop-color="#5d569d"/><stop offset="0.8303" stop-color="#5250a2"/><stop offset="0.8546" stop-color="#2d4fa4"/><stop offset="1.0006" stop-color="#2b50a2"/></linearGradient><linearGradient id="h34" x1="0" y1="0" x2="0" y2="1"><stop offset="0.0010" stop-color="#e55422"/><stop offset="0.2950" stop-color="#e76722"/><stop offset="0.4856" stop-color="#ed8522"/><stop offset="0.6052" stop-color="#f09f1f"/><stop offset="0.6640" stop-color="#f2c019"/><stop offset="0.6944" stop-color="#f2d71d"/><stop offset="0.7086" stop-color="#f1e023"/><stop offset="0.7431" stop-color="#e6e340"/><stop offset="0.7614" stop-color="#d6d631"/><stop offset="0.7796" stop-color="#bfbf3d"/><stop offset="0.7918" stop-color="#a7a74e"/><stop offset="0.8080" stop-color="#818174"/><stop offset="0.8141" stop-color="#767580"/><stop offset="0.8202" stop-color="#696791"/><stop offset="0.8242" stop-color="#5a52a0"/><stop offset="0.8425" stop-color="#3a4ea5"/><stop offset="0.8546" stop-color="#2c4fa4"/><stop offset="1.0006" stop-color="#2b50a2"/></linearGradient><linearGradient id="h35" x1="0" y1="0" x2="0" y2="1"><stop offset="0.0010" stop-color="#e55522"/><stop offset="0.2910" stop-color="#e76822"/><stop offset="0.4815" stop-color="#ed8722"/><stop offset="0.5971" stop-color="#f09f1f"/><stop offset="0.6519" stop-color="#f2bd19"/><stop offset="0.6823" stop-color="#f2d41c"/><stop offset="0.7005" stop-color="#f1e022"/><stop offset="0.7370" stop-color="#e6e340"/><stop offset="0.7553" stop-color="#d7d731"/><stop offset="0.7735" stop-color="#c1c13c"/><stop offset="0.7877" stop-color="#a7a74e"/><stop offset="0.8039" stop-color="#828273"/><stop offset="0.8120" stop-color="#747383"/><stop offset="0.8181" stop-color="#666294"/><stop offset="0.8202" stop-color="#5e579c"/><stop offset="0.8242" stop-color="#5351a1"/><stop offset="0.8506" stop-color="#2c4fa4"/><stop offset="1.0006" stop-color="#2b50a2"/></linearGradient><linearGradient id="h36" x1="0" y1="0" x2="0" y2="1"><stop offset="0.0010" stop-color="#e55622"/><stop offset="0.2869" stop-color="#e86a22"/><stop offset="0.4795" stop-color="#ee8922"/><stop offset="0.5870" stop-color="#f09f1f"/><stop offset="0.6438" stop-color="#f2bc19"/><stop offset="0.6742" stop-color="#f2d31c"/><stop offset="0.6924" stop-color="#f1e022"/><stop offset="0.7309" stop-color="#e6e340"/><stop offset="0.7512" stop-color="#d6d631"/><stop offset="0.7695" stop-color="#c0c03c"/><stop offset="0.7837" stop-color="#a7a74e"/><stop offset="0.7999" stop-color="#838372"/><stop offset="0.8080" stop-color="#757580"/><stop offset="0.8141" stop-color="#6a6890"/><stop offset="0.8181" stop-color="#5b539f"/><stop offset="0.8343" stop-color="#3e4ea4"/><stop offset="0.8506" stop-color="#2c4fa4"/><stop offset="1.0006" stop-color="#2b50a2"/></linearGradient><linearGradient id="h37" x1="0" y1="0" x2="0" y2="1"><stop offset="0.0010" stop-color="#e55722"/><stop offset="0.2849" stop-color="#e86b22"/><stop offset="0.5687" stop-color="#f09b20"/><stop offset="0.6336" stop-color="#f2ba19"/><stop offset="0.6640" stop-color="#f2d11b"/><stop offset="0.6843" stop-color="#f1e022"/><stop offset="0.7269" stop-color="#e5e23f"/><stop offset="0.7451" stop-color="#d7d731"/><stop offset="0.7654" stop-color="#c0c03d"/><stop offset="0.7796" stop-color="#a7a74e"/><stop offset="0.7979" stop-color="#818174"/><stop offset="0.8060" stop-color="#737383"/><stop offset="0.8120" stop-color="#666394"/><stop offset="0.8161" stop-color="#5952a0"/><stop offset="0.8404" stop-color="#334fa4"/><stop offset="0.8485" stop-color="#2c4fa4"/><stop offset="1.0006" stop-color="#2b50a2"/></linearGradient><linearGradient id="h38" x1="0" y1="0" x2="0" y2="1"><stop offset="0.0010" stop-color="#e55922"/><stop offset="0.2808" stop-color="#e86d22"/><stop offset="0.5647" stop-color="#f09d1f"/><stop offset="0.6296" stop-color="#f2bc19"/><stop offset="0.6579" stop-color="#f2d11b"/><stop offset="0.6782" stop-color="#f1e022"/><stop offset="0.7208" stop-color="#e6e340"/><stop offset="0.7411" stop-color="#d6d631"/><stop offset="0.7614" stop-color="#bfbf3d"/><stop offset="0.7755" stop-color="#a7a74e"/><stop offset="0.7938" stop-color="#818173"/><stop offset="0.8019" stop-color="#757581"/><stop offset="0.8080" stop-color="#6a6890"/><stop offset="0.8120" stop-color="#5c559e"/><stop offset="0.8242" stop-color="#464fa3"/><stop offset="0.8445" stop-color="#2c4fa4"/><stop offset="1.0006" stop-color="#2b50a2"/></linearGradient><linearGradient id="h39" x1="0" y1="0" x2="0" y2="1"><stop offset="0.0010" stop-color="#e55a22"/><stop offset="0.2747" stop-color="#e86e22"/><stop offset="0.5566" stop-color="#f09d1f"/><stop offset="0.6235" stop-color="#f2bc19"/><stop offset="0.6539" stop-color="#f2d31c"/><stop offset="0.6721" stop-color="#f1e022"/><stop offset="0.7147" stop-color="#e6e340"/><stop offset="0.7350" stop-color="#d7d730"/><stop offset="0.7553" stop-color="#c2c23c"/><stop offset="0.7715" stop-color="#a7a74e"/><stop offset="0.7897" stop-color="#828273"/><stop offset="0.7979" stop-color="#77767e"/><stop offset="0.8060" stop-color="#676493"/><stop offset="0.8100" stop-color="#5a52a0"/><stop offset="0.8343" stop-color="#344ea5"/><stop offset="0.8425" stop-color="#2c4fa4"/><stop offset="1.0006" stop-color="#2b50a2"/></linearGradient><linearGradient id="h40" x1="0" y1="0" x2="0" y2="1"><stop offset="0.0010" stop-color="#e65b22"/><stop offset="0.2687" stop-color="#e96f22"/><stop offset="0.5485" stop-color="#f09d1f"/><stop offset="0.6154" stop-color="#f2bb19"/><stop offset="0.6458" stop-color="#f2d11b"/><stop offset="0.6661" stop-color="#f1e022"/><stop offset="0.7107" stop-color="#e5e23f"/><stop offset="0.7309" stop-color="#d7d731"/><stop offset="0.7512" stop-color="#c1c13c"/><stop offset="0.7674" stop-color="#a7a74e"/><stop offset="0.7857" stop-color="#838372"/><stop offset="0.7958" stop-color="#757481"/><stop offset="0.8019" stop-color="#6b698f"/><stop offset="0.8080" stop-color="#5852a0"/><stop offset="0.8384" stop-color="#2c4fa4"/><stop offset="1.0006" stop-color="#2b50a2"/></linearGradient><linearGradient id="h41" x1="0" y1="0" x2="0" y2="1"><stop offset="0.0010" stop-color="#e65c22"/><stop offset="0.2626" stop-color="#e97122"/><stop offset="0.5424" stop-color="#f09e1f"/><stop offset="0.6093" stop-color="#f2bc19"/><stop offset="0.6417" stop-color="#f2d21b"/><stop offset="0.6600" stop-color="#f1e022"/><stop offset="0.7046" stop-color="#e5e23f"/><stop offset="0.7269" stop-color="#d6d631"/><stop offset="0.7472" stop-color="#c1c13c"/><stop offset="0.7634" stop-color="#a7a74e"/><stop offset="0.7837" stop-color="#818173"/><stop offset="0.7938" stop-color="#737283"/><stop offset="0.7999" stop-color="#686692"/><stop offset="0.8039" stop-color="#5b539f"/><stop offset="0.8242" stop-color="#3b4ea5"/><stop offset="0.8384" stop-color="#2c4fa4"/><stop offset="1.0006" stop-color="#2b50a2"/></linearGradient><linearGradient id="h42" x1="0" y1="0" x2="0" y2="1"><stop offset="0.0010" stop-color="#e65e22"/><stop offset="0.2545" stop-color="#e97222"/><stop offset="0.5343" stop-color="#f09e1f"/><stop offset="0.6012" stop-color="#f2bb19"/><stop offset="0.6356" stop-color="#f2d21b"/><stop offset="0.6539" stop-color="#f1e021"/><stop offset="0.6985" stop-color="#e5e33f"/><stop offset="0.7208" stop-color="#d7d730"/><stop offset="0.7431" stop-color="#c1c13c"/><stop offset="0.7593" stop-color="#a7a74e"/><stop offset="0.7796" stop-color="#828273"/><stop offset="0.7897" stop-color="#757481"/><stop offset="0.7958" stop-color="#6b698f"/><stop offset="0.8019" stop-color="#5952a0"/><stop offset="0.8323" stop-color="#2e4fa4"/><stop offset="0.9803" stop-color="#2b50a2"/><stop offset="1.0006" stop-color="#2b50a2"/></linearGradient><linearGradient id="h43" x1="0" y1="0" x2="0" y2="1"><stop offset="0.0010" stop-color="#e65f22"/><stop offset="0.2484" stop-color="#e97322"/><stop offset="0.5262" stop-color="#f09f1f"/><stop offset="0.5931" stop-color="#f2ba19"/><stop offset="0.6275" stop-color="#f2d11b"/><stop offset="0.6478" stop-color="#f2e021"/><stop offset="0.6924" stop-color="#e6e33f"/><stop offset="0.7167" stop-color="#d6d631"/><stop offset="0.7391" stop-color="#c1c13c"/><stop offset="0.7573" stop-color="#a4a451"/><stop offset="0.7755" stop-color="#828272"/><stop offset="0.7877" stop-color="#737284"/><stop offset="0.7938" stop-color="#696791"/><stop offset="0.7979" stop-color="#5d569d"/><stop offset="0.8039" stop-color="#5050a2"/><stop offset="0.8323" stop-color="#2c4fa4"/><stop offset="1.0006" stop-color="#2b50a2"/></linearGradient><linearGradient id="h44" x1="0" y1="0" x2="0" y2="1"><stop offset="0.0010" stop-color="#e66022"/><stop offset="0.2423" stop-color="#ea7422"/><stop offset="0.5160" stop-color="#f09f1f"/><stop offset="0.5870" stop-color="#f2ba19"/><stop offset="0.6215" stop-color="#f2d11b"/><stop offset="0.6417" stop-color="#f2e021"/><stop offset="0.6863" stop-color="#e6e340"/><stop offset="0.7107" stop-color="#d7d731"/><stop offset="0.7350" stop-color="#c1c13c"/><stop offset="0.7532" stop-color="#a4a450"/><stop offset="0.7715" stop-color="#838372"/><stop offset="0.7837" stop-color="#747382"/><stop offset="0.7918" stop-color="#666394"/><stop offset="0.7958" stop-color="#5a52a0"/><stop offset="0.8242" stop-color="#324fa4"/><stop offset="0.8323" stop-color="#2c4fa4"/><stop offset="1.0006" stop-color="#2b50a2"/></linearGradient><linearGradient id="h45" x1="0" y1="0" x2="0" y2="1"><stop offset="0.0010" stop-color="#e66122"/><stop offset="0.2362" stop-color="#ea7522"/><stop offset="0.5079" stop-color="#f09f1f"/><stop offset="0.5829" stop-color="#f2bb19"/><stop offset="0.6174" stop-color="#f2d31c"/><stop offset="0.6377" stop-color="#f1e022"/><stop offset="0.6803" stop-color="#e6e340"/><stop offset="0.7046" stop-color="#d7d730"/><stop offset="0.7289" stop-color="#c3c33b"/><stop offset="0.7492" stop-color="#a5a550"/><stop offset="0.7695" stop-color="#818173"/><stop offset="0.7796" stop-color="#757581"/><stop offset="0.7877" stop-color="#696791"/><stop offset="0.7938" stop-color="#5952a0"/><stop offset="0.8262" stop-color="#2d4fa4"/><stop offset="1.0006" stop-color="#2b50a2"/></linearGradient><linearGradient id="h46" x1="0" y1="0" x2="0" y2="1"><stop offset="0.0010" stop-color="#e76222"/><stop offset="0.2322" stop-color="#ea7722"/><stop offset="0.4998" stop-color="#f09f1f"/><stop offset="0.5789" stop-color="#f2bd19"/><stop offset="0.6113" stop-color="#f2d21b"/><stop offset="0.6316" stop-color="#f1e022"/><stop offset="0.6762" stop-color="#e5e23f"/><stop offset="0.7005" stop-color="#d6d631"/><stop offset="0.7269" stop-color="#c0c03d"/><stop offset="0.7451" stop-color="#a6a64f"/><stop offset="0.7654" stop-color="#828273"/><stop offset="0.7776" stop-color="#737383"/><stop offset="0.7857" stop-color="#666394"/><stop offset="0.7897" stop-color="#5b539f"/><stop offset="0.8141" stop-color="#384ea5"/><stop offset="0.8262" stop-color="#2c4fa4"/><stop offset="1.0006" stop-color="#2b50a2"/></linearGradient><linearGradient id="h47" x1="0" y1="0" x2="0" y2="1"><stop offset="0.0010" stop-color="#e76422"/><stop offset="0.2322" stop-color="#eb7922"/><stop offset="0.4917" stop-color="#f09f1f"/><stop offset="0.5748" stop-color="#f2be19"/><stop offset="0.6073" stop-color="#f2d31c"/><stop offset="0.6255" stop-color="#f1e022"/><stop offset="0.6701" stop-color="#e6e340"/><stop offset="0.6944" stop-color="#d7d731"/><stop offset="0.7228" stop-color="#c0c03d"/><stop offset="0.7411" stop-color="#a7a74e"/><stop offset="0.7614" stop-color="#838372"/><stop offset="0.7735" stop-color="#757481"/><stop offset="0.7816" stop-color="#696791"/><stop offset="0.7877" stop-color="#5952a0"/><stop offset="0.8222" stop-color="#2c4fa4"/><stop offset="1.0006" stop-color="#2b50a2"/></linearGradient><linearGradient id="h48" x1="0" y1="0" x2="0" y2="1"><stop offset="0.0010" stop-color="#e76522"/><stop offset="0.2301" stop-color="#eb7a22"/><stop offset="0.4836" stop-color="#f1a01e"/><stop offset="0.5687" stop-color="#f2be19"/><stop offset="0.6032" stop-color="#f2d41c"/><stop offset="0.6215" stop-color="#f1e022"/><stop offset="0.6661" stop-color="#e5e23f"/><stop offset="0.6904" stop-color="#d6d631"/><stop offset="0.7188" stop-color="#c0c03d"/><stop offset="0.7370" stop-color="#a8a84d"/><stop offset="0.7593" stop-color="#828273"/><stop offset="0.7715" stop-color="#737383"/><stop offset="0.7796" stop-color="#676493"/><stop offset="0.7837" stop-color="#5c549e"/><stop offset="0.8019" stop-color="#414fa4"/><stop offset="0.8222" stop-color="#2c4fa4"/><stop offset="1.0006" stop-color="#2b50a2"/></linearGradient><linearGradient id="h49" x1="0" y1="0" x2="0" y2="1"><stop offset="0.0010" stop-color="#e76622"/><stop offset="0.2301" stop-color="#eb7c22"/><stop offset="0.4755" stop-color="#f1a01e"/><stop offset="0.5647" stop-color="#f2bf19"/><stop offset="0.5991" stop-color="#f2d51c"/><stop offset="0.6174" stop-color="#f1e023"/><stop offset="0.6600" stop-color="#e6e340"/><stop offset="0.6843" stop-color="#d7d731"/><stop offset="0.7147" stop-color="#c0c03d"/><stop offset="0.7350" stop-color="#a6a64e"/><stop offset="0.7573" stop-color="#818174"/><stop offset="0.7695" stop-color="#727185"/><stop offset="0.7755" stop-color="#6a6890"/><stop offset="0.7816" stop-color="#5a52a0"/><stop offset="0.8141" stop-color="#304fa4"/><stop offset="0.8242" stop-color="#2c4fa4"/><stop offset="1.0006" stop-color="#2b50a2"/></linearGradient><linearGradient id="h50" x1="0" y1="0" x2="0" y2="1"><stop offset="0.0010" stop-color="#e76722"/><stop offset="0.2301" stop-color="#ec7e22"/><stop offset="0.4694" stop-color="#f1a11e"/><stop offset="0.5586" stop-color="#f2c019"/><stop offset="0.5951" stop-color="#f2d61d"/><stop offset="0.6113" stop-color="#f1e022"/><stop offset="0.6559" stop-color="#e5e23f"/><stop offset="0.6803" stop-color="#d6d631"/><stop offset="0.7107" stop-color="#c0c03d"/><stop offset="0.7309" stop-color="#a8a84d"/><stop offset="0.7472" stop-color="#8d8d68"/><stop offset="0.7553" stop-color="#808074"/><stop offset="0.7654" stop-color="#747382"/><stop offset="0.7735" stop-color="#686692"/><stop offset="0.7796" stop-color="#5852a0"/><stop offset="0.8141" stop-color="#2d4fa4"/><stop offset="1.0006" stop-color="#2b50a2"/></linearGradient><linearGradient id="h51" x1="0" y1="0" x2="0" y2="1"><stop offset="0.0010" stop-color="#e76822"/><stop offset="0.2301" stop-color="#ec7f22"/><stop offset="0.4592" stop-color="#f1a01e"/><stop offset="0.5485" stop-color="#f2be19"/><stop offset="0.5870" stop-color="#f2d41c"/><stop offset="0.6073" stop-color="#f1e023"/><stop offset="0.6498" stop-color="#e6e340"/><stop offset="0.6742" stop-color="#d7d730"/><stop offset="0.7086" stop-color="#bebe3e"/><stop offset="0.7289" stop-color="#a7a74e"/><stop offset="0.7451" stop-color="#8c8c69"/><stop offset="0.7553" stop-color="#7e7e77"/><stop offset="0.7695" stop-color="#6b698f"/><stop offset="0.7755" stop-color="#5b549f"/><stop offset="0.7999" stop-color="#394ea5"/><stop offset="0.8141" stop-color="#2c4fa4"/><stop offset="1.0006" stop-color="#2b50a2"/></linearGradient><linearGradient id="h52" x1="0" y1="0" x2="0" y2="1"><stop offset="0.0010" stop-color="#e86922"/><stop offset="0.2301" stop-color="#ec8122"/><stop offset="0.4471" stop-color="#f1a01e"/><stop offset="0.5363" stop-color="#f2bc19"/><stop offset="0.5789" stop-color="#f2d31c"/><stop offset="0.6012" stop-color="#f1e022"/><stop offset="0.6458" stop-color="#e6e340"/><stop offset="0.6701" stop-color="#d7d731"/><stop offset="0.7066" stop-color="#bcbc3f"/><stop offset="0.7269" stop-color="#a6a64f"/><stop offset="0.7431" stop-color="#8c8c69"/><stop offset="0.7614" stop-color="#737284"/><stop offset="0.7674" stop-color="#6a6890"/><stop offset="0.7735" stop-color="#5a52a0"/><stop offset="0.8019" stop-color="#344ea5"/><stop offset="0.8120" stop-color="#2c4fa4"/><stop offset="1.0006" stop-color="#2b50a2"/></linearGradient><linearGradient id="h53" x1="0" y1="0" x2="0" y2="1"><stop offset="0.0010" stop-color="#e86a22"/><stop offset="0.2301" stop-color="#ed8322"/><stop offset="0.4309" stop-color="#f09e1f"/><stop offset="0.5241" stop-color="#f2ba19"/><stop offset="0.5687" stop-color="#f2d11b"/><stop offset="0.5951" stop-color="#f1e022"/><stop offset="0.6417" stop-color="#e5e33f"/><stop offset="0.6661" stop-color="#d6d631"/><stop offset="0.7066" stop-color="#b8b842"/><stop offset="0.7269" stop-color="#a2a252"/><stop offset="0.7492" stop-color="#808075"/><stop offset="0.7614" stop-color="#6f6e89"/><stop offset="0.7654" stop-color="#696691"/><stop offset="0.7695" stop-color="#5d569d"/><stop offset="0.7755" stop-color="#5150a2"/><stop offset="0.8060" stop-color="#2c4fa4"/><stop offset="1.0006" stop-color="#2b50a2"/></linearGradient><linearGradient id="h54" x1="0" y1="0" x2="0" y2="1"><stop offset="0.0010" stop-color="#e86b22"/><stop offset="0.2301" stop-color="#ed8422"/><stop offset="0.4187" stop-color="#f09d1f"/><stop offset="0.5160" stop-color="#f2ba19"/><stop offset="0.5627" stop-color="#f2d11b"/><stop offset="0.5890" stop-color="#f1e022"/><stop offset="0.6377" stop-color="#e5e23f"/><stop offset="0.6600" stop-color="#d7d730"/><stop offset="0.7086" stop-color="#b2b245"/><stop offset="0.7309" stop-color="#99995b"/><stop offset="0.7451" stop-color="#828273"/><stop offset="0.7553" stop-color="#757481"/><stop offset="0.7634" stop-color="#676493"/><stop offset="0.7674" stop-color="#5b539f"/><stop offset="0.7877" stop-color="#3c4ea5"/><stop offset="0.8039" stop-color="#2c4fa4"/><stop offset="1.0006" stop-color="#2b50a2"/></linearGradient><linearGradient id="h55" x1="0" y1="0" x2="0" y2="1"><stop offset="0.0010" stop-color="#e86d22"/><stop offset="0.2281" stop-color="#ed8622"/><stop offset="0.4086" stop-color="#f09d1f"/><stop offset="0.5099" stop-color="#f2bb19"/><stop offset="0.5566" stop-color="#f2d21b"/><stop offset="0.5829" stop-color="#f1e022"/><stop offset="0.6336" stop-color="#e5e23f"/><stop offset="0.6559" stop-color="#d7d731"/><stop offset="0.7107" stop-color="#acac49"/><stop offset="0.7309" stop-color="#95955f"/><stop offset="0.7431" stop-color="#818173"/><stop offset="0.7532" stop-color="#747382"/><stop offset="0.7593" stop-color="#6b698f"/><stop offset="0.7654" stop-color="#5952a0"/><stop offset="0.7877" stop-color="#384ea5"/><stop offset="0.8019" stop-color="#2c4fa4"/><stop offset="1.0006" stop-color="#2b50a2"/></linearGradient><linearGradient id="h56" x1="0" y1="0" x2="0" y2="1"><stop offset="0.0010" stop-color="#e86e22"/><stop offset="0.2281" stop-color="#ed8722"/><stop offset="0.4004" stop-color="#f09d1f"/><stop offset="0.5039" stop-color="#f2bb19"/><stop offset="0.5505" stop-color="#f2d21b"/><stop offset="0.5768" stop-color="#f1e022"/><stop offset="0.6275" stop-color="#e6e33f"/><stop offset="0.6519" stop-color="#d7d731"/><stop offset="0.7086" stop-color="#aaaa4b"/><stop offset="0.7289" stop-color="#949460"/><stop offset="0.7411" stop-color="#818174"/><stop offset="0.7512" stop-color="#737283"/><stop offset="0.7573" stop-color="#696791"/><stop offset="0.7614" stop-color="#5c559e"/><stop offset="0.7695" stop-color="#4c50a3"/><stop offset="0.7958" stop-color="#2c4fa4"/><stop offset="1.0006" stop-color="#2b50a2"/></linearGradient><linearGradient id="h57" x1="0" y1="0" x2="0" y2="1"><stop offset="0.0010" stop-color="#e96f22"/><stop offset="0.2261" stop-color="#ee8822"/><stop offset="0.3923" stop-color="#f09c1f"/><stop offset="0.4998" stop-color="#f2bd19"/><stop offset="0.5444" stop-color="#f2d21b"/><stop offset="0.5687" stop-color="#f1e022"/><stop offset="0.6235" stop-color="#e5e23f"/><stop offset="0.6478" stop-color="#d6d631"/><stop offset="0.7066" stop-color="#a7a74d"/><stop offset="0.7269" stop-color="#929262"/><stop offset="0.7391" stop-color="#808074"/><stop offset="0.7492" stop-color="#727185"/><stop offset="0.7553" stop-color="#676493"/><stop offset="0.7593" stop-color="#5a52a0"/><stop offset="0.7776" stop-color="#3b4ea5"/><stop offset="0.7938" stop-color="#2c4fa4"/><stop offset="1.0006" stop-color="#2b50a2"/></linearGradient><linearGradient id="h58" x1="0" y1="0" x2="0" y2="1"><stop offset="0.0010" stop-color="#e97022"/><stop offset="0.2240" stop-color="#ee8a22"/><stop offset="0.3863" stop-color="#f09d1f"/><stop offset="0.4978" stop-color="#f2bf19"/><stop offset="0.5403" stop-color="#f2d41c"/><stop offset="0.5627" stop-color="#f1e022"/><stop offset="0.6174" stop-color="#e6e33f"/><stop offset="0.6438" stop-color="#d6d631"/><stop offset="0.7026" stop-color="#a6a64e"/><stop offset="0.7228" stop-color="#939361"/><stop offset="0.7391" stop-color="#7d7d77"/><stop offset="0.7512" stop-color="#6a688f"/><stop offset="0.7553" stop-color="#5d569d"/><stop offset="0.7593" stop-color="#5351a1"/><stop offset="0.7796" stop-color="#344ea5"/><stop offset="0.7897" stop-color="#2c4fa4"/><stop offset="1.0006" stop-color="#2b50a2"/></linearGradient><linearGradient id="h59" x1="0" y1="0" x2="0" y2="1"><stop offset="0.0010" stop-color="#e97122"/><stop offset="0.3802" stop-color="#f09d1f"/><stop offset="0.4978" stop-color="#f2c219"/><stop offset="0.5485" stop-color="#f2dd1f"/><stop offset="0.6133" stop-color="#e5e23f"/><stop offset="0.6397" stop-color="#d6d631"/><stop offset="0.6944" stop-color="#a8a84d"/><stop offset="0.7188" stop-color="#939361"/><stop offset="0.7411" stop-color="#76767f"/><stop offset="0.7492" stop-color="#686592"/><stop offset="0.7532" stop-color="#5a52a0"/><stop offset="0.7715" stop-color="#384ea5"/><stop offset="0.7837" stop-color="#2c4fa4"/><stop offset="1.0006" stop-color="#2b50a2"/></linearGradient><linearGradient id="h60" x1="0" y1="0" x2="0" y2="1"><stop offset="0.0010" stop-color="#e97222"/><stop offset="0.3761" stop-color="#f09e1f"/><stop offset="0.4978" stop-color="#f2c418"/><stop offset="0.5505" stop-color="#f1e022"/><stop offset="0.6073" stop-color="#e5e23f"/><stop offset="0.6336" stop-color="#d7d730"/><stop offset="0.6620" stop-color="#bfbf3e"/><stop offset="0.7127" stop-color="#959560"/><stop offset="0.7370" stop-color="#78777d"/><stop offset="0.7451" stop-color="#6a698f"/><stop offset="0.7492" stop-color="#5d569d"/><stop offset="0.7553" stop-color="#4e50a2"/><stop offset="0.7735" stop-color="#314fa4"/><stop offset="0.7816" stop-color="#2c4fa4"/><stop offset="1.0006" stop-color="#2b50a2"/></linearGradient><linearGradient id="h61" x1="0" y1="0" x2="0" y2="1"><stop offset="0.0010" stop-color="#e97322"/><stop offset="0.3700" stop-color="#f09e1f"/><stop offset="0.4978" stop-color="#f2c718"/><stop offset="0.5444" stop-color="#f1e022"/><stop offset="0.6012" stop-color="#e5e23f"/><stop offset="0.6296" stop-color="#d7d731"/><stop offset="0.6579" stop-color="#bebe3e"/><stop offset="0.6904" stop-color="#a1a153"/><stop offset="0.7167" stop-color="#8b8b6a"/><stop offset="0.7350" stop-color="#767580"/><stop offset="0.7431" stop-color="#676493"/><stop offset="0.7472" stop-color="#5952a0"/><stop offset="0.7654" stop-color="#364ea5"/><stop offset="0.7755" stop-color="#2c4fa4"/><stop offset="1.0006" stop-color="#2b50a2"/></linearGradient><linearGradient id="h62" x1="0" y1="0" x2="0" y2="1"><stop offset="0.0010" stop-color="#ea7422"/><stop offset="0.3660" stop-color="#f09e1f"/><stop offset="0.4937" stop-color="#f2c918"/><stop offset="0.5383" stop-color="#f1e022"/><stop offset="0.5951" stop-color="#e5e23f"/><stop offset="0.6255" stop-color="#d6d631"/><stop offset="0.6519" stop-color="#bfbf3d"/><stop offset="0.6823" stop-color="#a2a253"/><stop offset="0.7147" stop-color="#88886d"/><stop offset="0.7309" stop-color="#77777e"/><stop offset="0.7391" stop-color="#6a6890"/><stop offset="0.7431" stop-color="#5c549e"/><stop offset="0.7593" stop-color="#394ea5"/><stop offset="0.7715" stop-color="#2c4fa4"/><stop offset="1.0006" stop-color="#2b50a2"/></linearGradient><linearGradient id="h63" x1="0" y1="0" x2="0" y2="1"><stop offset="0.0010" stop-color="#ea7522"/><stop offset="0.3599" stop-color="#f09f1f"/><stop offset="0.4897" stop-color="#f2ca19"/><stop offset="0.5322" stop-color="#f1e022"/><stop offset="0.5890" stop-color="#e5e23f"/><stop offset="0.6194" stop-color="#d7d731"/><stop offset="0.6458" stop-color="#c1c13c"/><stop offset="0.6762" stop-color="#a1a153"/><stop offset="0.7249" stop-color="#7b7b79"/><stop offset="0.7350" stop-color="#6c6a8e"/><stop offset="0.7411" stop-color="#5852a0"/><stop offset="0.7593" stop-color="#344ea5"/><stop offset="0.7674" stop-color="#2c4fa4"/><stop offset="1.0006" stop-color="#2b50a2"/></linearGradient><linearGradient id="h64" x1="0" y1="0" x2="0" y2="1"><stop offset="0.0010" stop-color="#ea7722"/><stop offset="0.3538" stop-color="#f09f1f"/><stop offset="0.4856" stop-color="#f2cc19"/><stop offset="0.5262" stop-color="#f1e022"/><stop offset="0.5829" stop-color="#e5e23f"/><stop offset="0.6154" stop-color="#d6d631"/><stop offset="0.6417" stop-color="#c1c13c"/><stop offset="0.6742" stop-color="#9e9e57"/><stop offset="0.7228" stop-color="#79797b"/><stop offset="0.7330" stop-color="#6a6890"/><stop offset="0.7370" stop-color="#5b549f"/><stop offset="0.7553" stop-color="#364ea5"/><stop offset="0.7634" stop-color="#2c4fa4"/><stop offset="1.0006" stop-color="#2b50a2"/></linearGradient><linearGradient id="h65" x1="0" y1="0" x2="0" y2="1"><stop offset="0.0010" stop-color="#ea7822"/><stop offset="0.3477" stop-color="#f09f1f"/><stop offset="0.4795" stop-color="#f2cc19"/><stop offset="0.5201" stop-color="#f1e022"/><stop offset="0.5768" stop-color="#e5e23f"/><stop offset="0.6093" stop-color="#d6d631"/><stop offset="0.6356" stop-color="#c3c33b"/><stop offset="0.6701" stop-color="#9c9c59"/><stop offset="0.7208" stop-color="#77777e"/><stop offset="0.7289" stop-color="#6b698e"/><stop offset="0.7350" stop-color="#5852a0"/><stop offset="0.7553" stop-color="#314fa4"/><stop offset="0.7614" stop-color="#2c4fa4"/><stop offset="1.0006" stop-color="#2b50a2"/></linearGradient><linearGradient id="h66" x1="0" y1="0" x2="0" y2="1"><stop offset="0.0010" stop-color="#eb7922"/><stop offset="0.3396" stop-color="#f1a01e"/><stop offset="0.4674" stop-color="#f2c918"/><stop offset="0.5140" stop-color="#f1e022"/><stop offset="0.5708" stop-color="#e5e23f"/><stop offset="0.6032" stop-color="#d7d731"/><stop offset="0.6316" stop-color="#c3c33b"/><stop offset="0.6701" stop-color="#96965e"/><stop offset="0.7046" stop-color="#808074"/><stop offset="0.7167" stop-color="#77777e"/><stop offset="0.7269" stop-color="#696691"/><stop offset="0.7309" stop-color="#5b539f"/><stop offset="0.7512" stop-color="#334ea5"/><stop offset="0.7593" stop-color="#2c4fa4"/><stop offset="1.0006" stop-color="#2b50a2"/></linearGradient><linearGradient id="h67" x1="0" y1="0" x2="0" y2="1"><stop offset="0.0010" stop-color="#eb7a22"/><stop offset="0.3315" stop-color="#f1a01e"/><stop offset="0.4471" stop-color="#f2c418"/><stop offset="0.5079" stop-color="#f1e022"/><stop offset="0.5647" stop-color="#e6e340"/><stop offset="0.5971" stop-color="#d7d731"/><stop offset="0.6275" stop-color="#c2c23c"/><stop offset="0.6519" stop-color="#a3a351"/><stop offset="0.6823" stop-color="#88886d"/><stop offset="0.7127" stop-color="#77777e"/><stop offset="0.7228" stop-color="#6a698f"/><stop offset="0.7289" stop-color="#5852a0"/><stop offset="0.7512" stop-color="#2f4fa4"/><stop offset="0.7674" stop-color="#2c4fa3"/><stop offset="1.0006" stop-color="#2b50a2"/></linearGradient><linearGradient id="h68" x1="0" y1="0" x2="0" y2="1"><stop offset="0.0010" stop-color="#eb7b22"/><stop offset="0.3234" stop-color="#f1a01e"/><stop offset="0.4227" stop-color="#f2be19"/><stop offset="0.4734" stop-color="#f2d31c"/><stop offset="0.5039" stop-color="#f1e023"/><stop offset="0.5606" stop-color="#e5e23f"/><stop offset="0.5910" stop-color="#d7d731"/><stop offset="0.6215" stop-color="#c4c43b"/><stop offset="0.6458" stop-color="#a5a54f"/><stop offset="0.6742" stop-color="#88886d"/><stop offset="0.7086" stop-color="#77767e"/><stop offset="0.7188" stop-color="#6b698e"/><stop offset="0.7249" stop-color="#5a52a0"/><stop offset="0.7492" stop-color="#2f4fa4"/><stop offset="0.7654" stop-color="#2c4fa3"/><stop offset="1.0006" stop-color="#2b50a2"/></linearGradient><linearGradient id="h69" x1="0" y1="0" x2="0" y2="1"><stop offset="0.0010" stop-color="#eb7c22"/><stop offset="0.3153" stop-color="#f1a01e"/><stop offset="0.4106" stop-color="#f2bc19"/><stop offset="0.4653" stop-color="#f2d21b"/><stop offset="0.4978" stop-color="#f1e023"/><stop offset="0.5566" stop-color="#e5e23f"/><stop offset="0.5870" stop-color="#d6d631"/><stop offset="0.6174" stop-color="#c3c33b"/><stop offset="0.6417" stop-color="#a5a550"/><stop offset="0.6701" stop-color="#86866f"/><stop offset="0.7026" stop-color="#78787d"/><stop offset="0.7167" stop-color="#686692"/><stop offset="0.7208" stop-color="#5d559d"/><stop offset="0.7289" stop-color="#4c50a3"/><stop offset="0.7492" stop-color="#2c4fa4"/><stop offset="1.0006" stop-color="#2b50a2"/></linearGradient><linearGradient id="h70" x1="0" y1="0" x2="0" y2="1"><stop offset="0.0010" stop-color="#eb7d22"/><stop offset="0.3072" stop-color="#f1a01e"/><stop offset="0.4045" stop-color="#f2bc19"/><stop offset="0.4592" stop-color="#f2d21b"/><stop offset="0.4917" stop-color="#f1e022"/><stop offset="0.5505" stop-color="#e6e340"/><stop offset="0.5809" stop-color="#d7d731"/><stop offset="0.6133" stop-color="#c2c23b"/><stop offset="0.6377" stop-color="#a5a550"/><stop offset="0.6661" stop-color="#848470"/><stop offset="0.6985" stop-color="#77767e"/><stop offset="0.7127" stop-color="#696791"/><stop offset="0.7188" stop-color="#5952a0"/><stop offset="0.7451" stop-color="#2e4fa4"/><stop offset="0.8850" stop-color="#2b50a2"/><stop offset="1.0006" stop-color="#2b50a2"/></linearGradient><linearGradient id="h71" x1="0" y1="0" x2="0" y2="1"><stop offset="0.0010" stop-color="#ec7e22"/><stop offset="0.3011" stop-color="#f1a01e"/><stop offset="0.4004" stop-color="#f2bc19"/><stop offset="0.4552" stop-color="#f2d31c"/><stop offset="0.4856" stop-color="#f1e022"/><stop offset="0.5464" stop-color="#e5e33f"/><stop offset="0.5768" stop-color="#d6d631"/><stop offset="0.6113" stop-color="#c0c03d"/><stop offset="0.6336" stop-color="#a5a550"/><stop offset="0.6600" stop-color="#858570"/><stop offset="0.6944" stop-color="#767580"/><stop offset="0.7086" stop-color="#6a6890"/><stop offset="0.7147" stop-color="#5b539f"/><stop offset="0.7431" stop-color="#2e4fa4"/><stop offset="0.8850" stop-color="#2b50a2"/><stop offset="1.0006" stop-color="#2b50a2"/></linearGradient><linearGradient id="h72" x1="0" y1="0" x2="0" y2="1"><stop offset="0.0010" stop-color="#ec7f22"/><stop offset="0.2950" stop-color="#f1a01e"/><stop offset="0.3964" stop-color="#f2bd19"/><stop offset="0.4511" stop-color="#f2d41c"/><stop offset="0.4795" stop-color="#f1e022"/><stop offset="0.5424" stop-color="#e5e23f"/><stop offset="0.5728" stop-color="#d6d631"/><stop offset="0.6052" stop-color="#c1c13c"/><stop offset="0.6275" stop-color="#a7a74d"/><stop offset="0.6559" stop-color="#848471"/><stop offset="0.6904" stop-color="#757481"/><stop offset="0.7046" stop-color="#6a6890"/><stop offset="0.7127" stop-color="#5852a0"/><stop offset="0.7431" stop-color="#2c4fa4"/><stop offset="1.0006" stop-color="#2b50a2"/></linearGradient><linearGradient id="h73" x1="0" y1="0" x2="0" y2="1"><stop offset="0.0010" stop-color="#ec8022"/><stop offset="0.2869" stop-color="#f1a01e"/><stop offset="0.3944" stop-color="#f2bf19"/><stop offset="0.4491" stop-color="#f2d61d"/><stop offset="0.4755" stop-color="#f1e023"/><stop offset="0.5383" stop-color="#e5e23f"/><stop offset="0.5667" stop-color="#d7d730"/><stop offset="0.6012" stop-color="#c0c03c"/><stop offset="0.6235" stop-color="#a8a84d"/><stop offset="0.6519" stop-color="#838371"/><stop offset="0.6884" stop-color="#737284"/><stop offset="0.7005" stop-color="#6a688f"/><stop offset="0.7086" stop-color="#5a52a0"/><stop offset="0.7411" stop-color="#2c4fa4"/><stop offset="1.0006" stop-color="#2b50a2"/></linearGradient><linearGradient id="h74" x1="0" y1="0" x2="0" y2="1"><stop offset="0.0010" stop-color="#ec8122"/><stop offset="0.2808" stop-color="#f1a11e"/><stop offset="0.3903" stop-color="#f2bf19"/><stop offset="0.4451" stop-color="#f2d71d"/><stop offset="0.4694" stop-color="#f1e022"/><stop offset="0.5343" stop-color="#e5e23f"/><stop offset="0.5627" stop-color="#d7d731"/><stop offset="0.5971" stop-color="#c0c03d"/><stop offset="0.6194" stop-color="#a8a84d"/><stop offset="0.6478" stop-color="#838372"/><stop offset="0.6904" stop-color="#6f6d8a"/><stop offset="0.6985" stop-color="#676493"/><stop offset="0.7066" stop-color="#5852a0"/><stop offset="0.7411" stop-color="#2c4fa4"/><stop offset="1.0006" stop-color="#2b50a2"/></linearGradient><linearGradient id="h75" x1="0" y1="0" x2="0" y2="1"><stop offset="0.0010" stop-color="#ec8222"/><stop offset="0.2707" stop-color="#f1a01e"/><stop offset="0.3802" stop-color="#f2be19"/><stop offset="0.4349" stop-color="#f2d51c"/><stop offset="0.4633" stop-color="#f1e022"/><stop offset="0.5282" stop-color="#e5e33f"/><stop offset="0.5586" stop-color="#d7d731"/><stop offset="0.5931" stop-color="#c0c03d"/><stop offset="0.6174" stop-color="#a6a64f"/><stop offset="0.6438" stop-color="#838372"/><stop offset="0.6924" stop-color="#6a6890"/><stop offset="0.7026" stop-color="#5a52a0"/><stop offset="0.7391" stop-color="#2c4fa4"/><stop offset="1.0006" stop-color="#2b50a2"/></linearGradient><linearGradient id="h76" x1="0" y1="0" x2="0" y2="1"><stop offset="0.0010" stop-color="#ed8322"/><stop offset="0.2605" stop-color="#f1a01e"/><stop offset="0.3619" stop-color="#f2ba19"/><stop offset="0.4207" stop-color="#f2d11b"/><stop offset="0.4572" stop-color="#f1e022"/><stop offset="0.5241" stop-color="#e5e23f"/><stop offset="0.5545" stop-color="#d7d731"/><stop offset="0.5890" stop-color="#c0c03d"/><stop offset="0.6133" stop-color="#a7a74e"/><stop offset="0.6417" stop-color="#828272"/><stop offset="0.6904" stop-color="#686592"/><stop offset="0.7005" stop-color="#5952a0"/><stop offset="0.7391" stop-color="#2c4fa4"/><stop offset="1.0006" stop-color="#2b50a2"/></linearGradient><linearGradient id="h77" x1="0" y1="0" x2="0" y2="1"><stop offset="0.0010" stop-color="#ed8522"/><stop offset="0.2504" stop-color="#f1a01e"/><stop offset="0.3437" stop-color="#f2b719"/><stop offset="0.4126" stop-color="#f2d01b"/><stop offset="0.4511" stop-color="#f1e022"/><stop offset="0.5180" stop-color="#e5e33f"/><stop offset="0.5505" stop-color="#d7d731"/><stop offset="0.5850" stop-color="#c0c03d"/><stop offset="0.6113" stop-color="#a5a54f"/><stop offset="0.6397" stop-color="#828273"/><stop offset="0.6863" stop-color="#686592"/><stop offset="0.6965" stop-color="#5a52a0"/><stop offset="0.7391" stop-color="#2c4fa4"/><stop offset="1.0006" stop-color="#2b50a2"/></linearGradient><linearGradient id="h78" x1="0" y1="0" x2="0" y2="1"><stop offset="0.0010" stop-color="#ed8622"/><stop offset="0.2382" stop-color="#f09f1f"/><stop offset="0.3335" stop-color="#f2b61a"/><stop offset="0.4065" stop-color="#f2d11b"/><stop offset="0.4451" stop-color="#f1e022"/><stop offset="0.5140" stop-color="#e5e23f"/><stop offset="0.5464" stop-color="#d7d731"/><stop offset="0.5809" stop-color="#c1c13c"/><stop offset="0.6093" stop-color="#a4a450"/><stop offset="0.6356" stop-color="#838372"/><stop offset="0.6823" stop-color="#686592"/><stop offset="0.6944" stop-color="#5952a0"/><stop offset="0.7391" stop-color="#2c4fa4"/><stop offset="1.0006" stop-color="#2b50a2"/></linearGradient><linearGradient id="h79" x1="0" y1="0" x2="0" y2="1"><stop offset="0.0010" stop-color="#ed8722"/><stop offset="0.2301" stop-color="#f09f1f"/><stop offset="0.3275" stop-color="#f2b619"/><stop offset="0.3984" stop-color="#f2d01b"/><stop offset="0.4369" stop-color="#f1e022"/><stop offset="0.5079" stop-color="#e5e23f"/><stop offset="0.5424" stop-color="#d7d731"/><stop offset="0.5789" stop-color="#c0c03d"/><stop offset="0.6073" stop-color="#a3a351"/><stop offset="0.6356" stop-color="#818173"/><stop offset="0.6782" stop-color="#686592"/><stop offset="0.6924" stop-color="#5852a0"/><stop offset="0.7411" stop-color="#2c4fa4"/><stop offset="1.0006" stop-color="#2b50a2"/></linearGradient><linearGradient id="h80" x1="0" y1="0" x2="0" y2="1"><stop offset="0.0010" stop-color="#ee8822"/><stop offset="0.2200" stop-color="#f09f1f"/><stop offset="0.3234" stop-color="#f2b719"/><stop offset="0.3923" stop-color="#f2d01b"/><stop offset="0.4309" stop-color="#f1e022"/><stop offset="0.5039" stop-color="#e5e23f"/><stop offset="0.5383" stop-color="#d7d731"/><stop offset="0.5748" stop-color="#c1c13c"/><stop offset="0.6032" stop-color="#a5a54f"/><stop offset="0.6336" stop-color="#828273"/><stop offset="0.6742" stop-color="#686592"/><stop offset="0.6884" stop-color="#5952a0"/><stop offset="0.7370" stop-color="#2e4fa4"/><stop offset="0.9742" stop-color="#2b50a2"/><stop offset="1.0006" stop-color="#2b50a2"/></linearGradient><linearGradient id="h81" x1="0" y1="0" x2="0" y2="1"><stop offset="0.0010" stop-color="#ee8a22"/><stop offset="0.2119" stop-color="#f09f1f"/><stop offset="0.3214" stop-color="#f2b919"/><stop offset="0.3863" stop-color="#f2d11b"/><stop offset="0.4248" stop-color="#f1e022"/><stop offset="0.4978" stop-color="#e5e23f"/><stop offset="0.5343" stop-color="#d7d731"/><stop offset="0.5728" stop-color="#c0c03d"/><stop offset="0.6032" stop-color="#a4a451"/><stop offset="0.6336" stop-color="#828273"/><stop offset="0.6721" stop-color="#676493"/><stop offset="0.6863" stop-color="#5952a0"/><stop offset="0.7350" stop-color="#304fa4"/><stop offset="0.7451" stop-color="#2c4fa4"/><stop offset="1.0006" stop-color="#2b50a2"/></linearGradient><linearGradient id="h82" x1="0" y1="0" x2="0" y2="1"><stop offset="0.0010" stop-color="#ee8b22"/><stop offset="0.2038" stop-color="#f09f1f"/><stop offset="0.3173" stop-color="#f2ba19"/><stop offset="0.3802" stop-color="#f2d11b"/><stop offset="0.4187" stop-color="#f1e022"/><stop offset="0.4937" stop-color="#e5e23f"/><stop offset="0.5302" stop-color="#d7d731"/><stop offset="0.5708" stop-color="#c0c03d"/><stop offset="0.6012" stop-color="#a4a450"/><stop offset="0.6336" stop-color="#818173"/><stop offset="0.6701" stop-color="#676493"/><stop offset="0.6843" stop-color="#5852a0"/><stop offset="0.7350" stop-color="#314fa4"/><stop offset="0.7472" stop-color="#2c4fa4"/><stop offset="1.0006" stop-color="#2b50a2"/></linearGradient><linearGradient id="h83" x1="0" y1="0" x2="0" y2="1"><stop offset="0.0010" stop-color="#ee8b22"/><stop offset="0.1977" stop-color="#f1a01e"/><stop offset="0.3173" stop-color="#f2bc19"/><stop offset="0.3761" stop-color="#f2d31c"/><stop offset="0.4106" stop-color="#f1e022"/><stop offset="0.4876" stop-color="#e5e23f"/><stop offset="0.5262" stop-color="#d7d731"/><stop offset="0.5687" stop-color="#c0c03d"/><stop offset="0.5991" stop-color="#a5a54f"/><stop offset="0.6336" stop-color="#818173"/><stop offset="0.6579" stop-color="#706e88"/><stop offset="0.6701" stop-color="#656295"/><stop offset="0.6803" stop-color="#5a52a0"/><stop offset="0.7431" stop-color="#2c4fa4"/><stop offset="1.0006" stop-color="#2b50a2"/></linearGradient><linearGradient id="h84" x1="0" y1="0" x2="0" y2="1"><stop offset="0.0010" stop-color="#ee8c22"/><stop offset="0.1896" stop-color="#f1a01e"/><stop offset="0.3193" stop-color="#f2bf19"/><stop offset="0.3781" stop-color="#f2d71d"/><stop offset="0.4065" stop-color="#f1e023"/><stop offset="0.4815" stop-color="#e6e33f"/><stop offset="0.5221" stop-color="#d7d731"/><stop offset="0.5647" stop-color="#c1c13c"/><stop offset="0.5971" stop-color="#a6a64f"/><stop offset="0.6336" stop-color="#818174"/><stop offset="0.6539" stop-color="#727185"/><stop offset="0.6681" stop-color="#666394"/><stop offset="0.6782" stop-color="#5952a0"/><stop offset="0.7411" stop-color="#2c4fa4"/><stop offset="1.0006" stop-color="#2b50a2"/></linearGradient><linearGradient id="h85" x1="0" y1="0" x2="0" y2="1"><stop offset="0.0010" stop-color="#ee8d22"/><stop offset="0.1835" stop-color="#f1a11e"/><stop offset="0.3193" stop-color="#f2c219"/><stop offset="0.3903" stop-color="#f2e020"/><stop offset="0.4775" stop-color="#e5e23f"/><stop offset="0.5180" stop-color="#d7d731"/><stop offset="0.5627" stop-color="#c0c03c"/><stop offset="0.5951" stop-color="#a6a64e"/><stop offset="0.6336" stop-color="#818174"/><stop offset="0.6519" stop-color="#737383"/><stop offset="0.6661" stop-color="#676493"/><stop offset="0.6762" stop-color="#5952a0"/><stop offset="0.7391" stop-color="#2c4fa4"/><stop offset="1.0006" stop-color="#2b50a2"/></linearGradient><linearGradient id="h86" x1="0" y1="0" x2="0" y2="1"><stop offset="0.0010" stop-color="#ef8e21"/><stop offset="0.1774" stop-color="#f1a11e"/><stop offset="0.3214" stop-color="#f2c518"/><stop offset="0.3903" stop-color="#f1e022"/><stop offset="0.4714" stop-color="#e5e33f"/><stop offset="0.5140" stop-color="#d7d731"/><stop offset="0.5606" stop-color="#c0c03d"/><stop offset="0.5951" stop-color="#a4a450"/><stop offset="0.6336" stop-color="#808074"/><stop offset="0.6539" stop-color="#717086"/><stop offset="0.6640" stop-color="#696691"/><stop offset="0.6742" stop-color="#5952a0"/><stop offset="0.7370" stop-color="#2c4fa4"/><stop offset="1.0006" stop-color="#2b50a2"/></linearGradient><linearGradient id="h87" x1="0" y1="0" x2="0" y2="1"><stop offset="0.0010" stop-color="#ef8f21"/><stop offset="0.1673" stop-color="#f1a11e"/><stop offset="0.3193" stop-color="#f2c618"/><stop offset="0.3842" stop-color="#f1e022"/><stop offset="0.4674" stop-color="#e5e23f"/><stop offset="0.5099" stop-color="#d6d631"/><stop offset="0.5566" stop-color="#c0c03d"/><stop offset="0.5931" stop-color="#a4a450"/><stop offset="0.6316" stop-color="#818174"/><stop offset="0.6498" stop-color="#747383"/><stop offset="0.6640" stop-color="#666394"/><stop offset="0.6721" stop-color="#5a52a0"/><stop offset="0.7309" stop-color="#2d4fa4"/><stop offset="1.0006" stop-color="#2b50a2"/></linearGradient><linearGradient id="h88" x1="0" y1="0" x2="0" y2="1"><stop offset="0.0010" stop-color="#ef9021"/><stop offset="0.1571" stop-color="#f1a11e"/><stop offset="0.3092" stop-color="#f2c618"/><stop offset="0.3781" stop-color="#f1e022"/><stop offset="0.4613" stop-color="#e5e23f"/><stop offset="0.5059" stop-color="#d6d631"/><stop offset="0.5545" stop-color="#bfbf3d"/><stop offset="0.5890" stop-color="#a5a54f"/><stop offset="0.6296" stop-color="#818174"/><stop offset="0.6478" stop-color="#747382"/><stop offset="0.6620" stop-color="#676493"/><stop offset="0.6701" stop-color="#5a52a0"/><stop offset="0.7127" stop-color="#374ea5"/><stop offset="0.7330" stop-color="#2c4fa4"/><stop offset="1.0006" stop-color="#2b50a2"/></linearGradient><linearGradient id="h89" x1="0" y1="0" x2="0" y2="1"><stop offset="0.0010" stop-color="#ef9121"/><stop offset="0.1470" stop-color="#f1a11e"/><stop offset="0.2950" stop-color="#f2c418"/><stop offset="0.3721" stop-color="#f1e022"/><stop offset="0.4572" stop-color="#e5e23f"/><stop offset="0.4998" stop-color="#d7d731"/><stop offset="0.5505" stop-color="#bfbf3d"/><stop offset="0.5870" stop-color="#a5a550"/><stop offset="0.6275" stop-color="#818173"/><stop offset="0.6458" stop-color="#757482"/><stop offset="0.6600" stop-color="#676493"/><stop offset="0.6681" stop-color="#5a52a0"/><stop offset="0.7066" stop-color="#384ea5"/><stop offset="0.7289" stop-color="#2c4fa4"/><stop offset="1.0006" stop-color="#2b50a2"/></linearGradient><linearGradient id="h90" x1="0" y1="0" x2="0" y2="1"><stop offset="0.0010" stop-color="#ef9121"/><stop offset="0.1348" stop-color="#f1a11e"/><stop offset="0.2666" stop-color="#f2be19"/><stop offset="0.3315" stop-color="#f2d41c"/><stop offset="0.3660" stop-color="#f1e022"/><stop offset="0.4511" stop-color="#e5e23f"/><stop offset="0.4957" stop-color="#d7d731"/><stop offset="0.5464" stop-color="#bfbf3d"/><stop offset="0.5829" stop-color="#a5a54f"/><stop offset="0.6255" stop-color="#818174"/><stop offset="0.6438" stop-color="#757481"/><stop offset="0.6579" stop-color="#686592"/><stop offset="0.6661" stop-color="#5952a0"/><stop offset="0.7026" stop-color="#384ea5"/><stop offset="0.7249" stop-color="#2c4fa4"/><stop offset="1.0006" stop-color="#2b50a2"/></linearGradient><linearGradient id="h91" x1="0" y1="0" x2="0" y2="1"><stop offset="0.0010" stop-color="#ef9221"/><stop offset="0.1267" stop-color="#f1a11e"/><stop offset="0.2504" stop-color="#f2bc19"/><stop offset="0.3214" stop-color="#f2d21b"/><stop offset="0.3599" stop-color="#f1e022"/><stop offset="0.4451" stop-color="#e5e23f"/><stop offset="0.4917" stop-color="#d6d631"/><stop offset="0.5424" stop-color="#bfbf3d"/><stop offset="0.5809" stop-color="#a4a450"/><stop offset="0.6215" stop-color="#828273"/><stop offset="0.6417" stop-color="#757481"/><stop offset="0.6559" stop-color="#686592"/><stop offset="0.6640" stop-color="#5952a0"/><stop offset="0.6985" stop-color="#384ea5"/><stop offset="0.7188" stop-color="#2c4fa4"/><stop offset="1.0006" stop-color="#2b50a2"/></linearGradient><linearGradient id="h92" x1="0" y1="0" x2="0" y2="1"><stop offset="0.0010" stop-color="#ef9321"/><stop offset="0.1206" stop-color="#f1a11e"/><stop offset="0.2403" stop-color="#f2bb19"/><stop offset="0.3133" stop-color="#f2d21b"/><stop offset="0.3558" stop-color="#f1e023"/><stop offset="0.4390" stop-color="#e5e33f"/><stop offset="0.4876" stop-color="#d6d631"/><stop offset="0.5383" stop-color="#bfbf3d"/><stop offset="0.5768" stop-color="#a5a550"/><stop offset="0.6194" stop-color="#828273"/><stop offset="0.6397" stop-color="#757481"/><stop offset="0.6539" stop-color="#686592"/><stop offset="0.6620" stop-color="#5952a0"/><stop offset="0.6965" stop-color="#374ea5"/><stop offset="0.7147" stop-color="#2c4fa4"/><stop offset="1.0006" stop-color="#2b50a2"/></linearGradient><linearGradient id="h93" x1="0" y1="0" x2="0" y2="1"><stop offset="0.0010" stop-color="#ef9421"/><stop offset="0.1166" stop-color="#f1a21e"/><stop offset="0.2342" stop-color="#f2bc19"/><stop offset="0.3072" stop-color="#f2d21b"/><stop offset="0.3498" stop-color="#f1e023"/><stop offset="0.4349" stop-color="#e5e23f"/><stop offset="0.4836" stop-color="#d6d631"/><stop offset="0.5363" stop-color="#bebe3e"/><stop offset="0.5748" stop-color="#a4a451"/><stop offset="0.6174" stop-color="#818173"/><stop offset="0.6377" stop-color="#757481"/><stop offset="0.6519" stop-color="#686592"/><stop offset="0.6600" stop-color="#5952a0"/><stop offset="0.6944" stop-color="#364ea5"/><stop offset="0.7127" stop-color="#2c4fa4"/><stop offset="1.0006" stop-color="#2b50a2"/></linearGradient><linearGradient id="h94" x1="0" y1="0" x2="0" y2="1"><stop offset="0.0010" stop-color="#ef9421"/><stop offset="0.1146" stop-color="#f1a31e"/><stop offset="0.2301" stop-color="#f2bc19"/><stop offset="0.3011" stop-color="#f2d31c"/><stop offset="0.3437" stop-color="#f1e022"/><stop offset="0.4288" stop-color="#e5e23f"/><stop offset="0.4795" stop-color="#d6d631"/><stop offset="0.5322" stop-color="#bebe3e"/><stop offset="0.5708" stop-color="#a4a450"/><stop offset="0.6133" stop-color="#828273"/><stop offset="0.6356" stop-color="#757482"/><stop offset="0.6498" stop-color="#686592"/><stop offset="0.6579" stop-color="#5952a0"/><stop offset="0.6924" stop-color="#354ea5"/><stop offset="0.7086" stop-color="#2c4fa4"/><stop offset="1.0006" stop-color="#2b50a2"/></linearGradient><linearGradient id="h95" x1="0" y1="0" x2="0" y2="1"><stop offset="0.0010" stop-color="#ef9521"/><stop offset="0.1166" stop-color="#f1a51d"/><stop offset="0.2301" stop-color="#f2be19"/><stop offset="0.2991" stop-color="#f2d41c"/><stop offset="0.3376" stop-color="#f1e022"/><stop offset="0.4248" stop-color="#e5e23f"/><stop offset="0.4755" stop-color="#d6d631"/><stop offset="0.5282" stop-color="#bebe3e"/><stop offset="0.5667" stop-color="#a5a550"/><stop offset="0.6113" stop-color="#828273"/><stop offset="0.6316" stop-color="#767580"/><stop offset="0.6478" stop-color="#686692"/><stop offset="0.6559" stop-color="#5a52a0"/><stop offset="0.6904" stop-color="#354ea5"/><stop offset="0.7066" stop-color="#2c4fa4"/><stop offset="1.0006" stop-color="#2b50a2"/></linearGradient><linearGradient id="h96" x1="0" y1="0" x2="0" y2="1"><stop offset="0.0010" stop-color="#ef9621"/><stop offset="0.1186" stop-color="#f1a61d"/><stop offset="0.2362" stop-color="#f2c119"/><stop offset="0.3153" stop-color="#f2dc1f"/><stop offset="0.3498" stop-color="#efe127"/><stop offset="0.4207" stop-color="#e5e23f"/><stop offset="0.4714" stop-color="#d6d631"/><stop offset="0.5241" stop-color="#bebe3e"/><stop offset="0.5647" stop-color="#a4a451"/><stop offset="0.6093" stop-color="#818173"/><stop offset="0.6296" stop-color="#767580"/><stop offset="0.6458" stop-color="#686692"/><stop offset="0.6539" stop-color="#5a52a0"/><stop offset="0.6884" stop-color="#354ea5"/><stop offset="0.7046" stop-color="#2c4fa4"/><stop offset="1.0006" stop-color="#2b50a2"/></linearGradient><linearGradient id="h97" x1="0" y1="0" x2="0" y2="1"><stop offset="0.0010" stop-color="#ef9621"/><stop offset="0.1247" stop-color="#f1a81c"/><stop offset="0.2484" stop-color="#f2c618"/><stop offset="0.3275" stop-color="#f1e022"/><stop offset="0.4167" stop-color="#e5e23f"/><stop offset="0.4674" stop-color="#d6d631"/><stop offset="0.5201" stop-color="#bfbf3d"/><stop offset="0.5606" stop-color="#a5a550"/><stop offset="0.6073" stop-color="#818173"/><stop offset="0.6296" stop-color="#747482"/><stop offset="0.6438" stop-color="#696691"/><stop offset="0.6519" stop-color="#5a52a0"/><stop offset="0.6863" stop-color="#354ea5"/><stop offset="0.7026" stop-color="#2c4fa4"/><stop offset="1.0006" stop-color="#2b50a2"/></linearGradient><linearGradient id="h98" x1="0" y1="0" x2="0" y2="1"><stop offset="0.0010" stop-color="#f09620"/><stop offset="0.1328" stop-color="#f1aa1c"/><stop offset="0.2585" stop-color="#f2ca19"/><stop offset="0.3234" stop-color="#f1e022"/><stop offset="0.4126" stop-color="#e5e23f"/><stop offset="0.4633" stop-color="#d7d731"/><stop offset="0.5180" stop-color="#bebe3e"/><stop offset="0.5586" stop-color="#a4a451"/><stop offset="0.6032" stop-color="#828273"/><stop offset="0.6255" stop-color="#767580"/><stop offset="0.6417" stop-color="#696691"/><stop offset="0.6498" stop-color="#5a53a0"/><stop offset="0.6843" stop-color="#354ea5"/><stop offset="0.7005" stop-color="#2c4fa4"/><stop offset="1.0006" stop-color="#2b50a2"/></linearGradient><linearGradient id="h99" x1="0" y1="0" x2="0" y2="1"><stop offset="0.0010" stop-color="#f09720"/><stop offset="0.1429" stop-color="#f2ad1b"/><stop offset="0.2687" stop-color="#f2cf1a"/><stop offset="0.3193" stop-color="#f1e022"/><stop offset="0.4086" stop-color="#e5e23f"/><stop offset="0.4613" stop-color="#d6d631"/><stop offset="0.5140" stop-color="#bfbf3e"/><stop offset="0.5545" stop-color="#a5a550"/><stop offset="0.6032" stop-color="#818174"/><stop offset="0.6255" stop-color="#747382"/><stop offset="0.6397" stop-color="#696791"/><stop offset="0.6478" stop-color="#5b539f"/><stop offset="0.6823" stop-color="#354ea5"/><stop offset="0.6985" stop-color="#2c4fa4"/><stop offset="1.0006" stop-color="#2b50a2"/></linearGradient><linearGradient id="h100" x1="0" y1="0" x2="0" y2="1"><stop offset="0.0010" stop-color="#f09720"/><stop offset="0.1511" stop-color="#f2af1a"/><stop offset="0.2666" stop-color="#f2d01b"/><stop offset="0.3153" stop-color="#f1e022"/><stop offset="0.4045" stop-color="#e5e33f"/><stop offset="0.4572" stop-color="#d6d631"/><stop offset="0.5120" stop-color="#bebe3e"/><stop offset="0.5545" stop-color="#a3a352"/><stop offset="0.5991" stop-color="#828273"/><stop offset="0.6235" stop-color="#747382"/><stop offset="0.6377" stop-color="#696791"/><stop offset="0.6478" stop-color="#5852a0"/><stop offset="0.6823" stop-color="#344ea5"/><stop offset="0.6985" stop-color="#2c4fa4"/><stop offset="1.0006" stop-color="#2b50a2"/></linearGradient><linearGradient id="h101" x1="0" y1="0" x2="0" y2="1"><stop offset="0.0010" stop-color="#f09720"/><stop offset="0.1551" stop-color="#f2b11a"/><stop offset="0.2626" stop-color="#f2cf1a"/><stop offset="0.3133" stop-color="#f1e022"/><stop offset="0.4025" stop-color="#e5e23f"/><stop offset="0.4532" stop-color="#d7d731"/><stop offset="0.5079" stop-color="#bfbf3e"/><stop offset="0.5505" stop-color="#a4a451"/><stop offset="0.5971" stop-color="#828273"/><stop offset="0.6215" stop-color="#747382"/><stop offset="0.6356" stop-color="#6a6790"/><stop offset="0.6458" stop-color="#5952a0"/><stop offset="0.6803" stop-color="#344ea5"/><stop offset="0.6965" stop-color="#2c4fa4"/><stop offset="1.0006" stop-color="#2b50a2"/></linearGradient><linearGradient id="h102" x1="0" y1="0" x2="0" y2="1"><stop offset="0.0010" stop-color="#f09720"/><stop offset="0.1571" stop-color="#f2b21a"/><stop offset="0.2605" stop-color="#f2d01b"/><stop offset="0.3092" stop-color="#f1e022"/><stop offset="0.3984" stop-color="#e5e23f"/><stop offset="0.4511" stop-color="#d6d631"/><stop offset="0.5039" stop-color="#bfbf3d"/><stop offset="0.5485" stop-color="#a3a351"/><stop offset="0.5951" stop-color="#818173"/><stop offset="0.6194" stop-color="#747382"/><stop offset="0.6336" stop-color="#6a6890"/><stop offset="0.6438" stop-color="#5952a0"/><stop offset="0.6803" stop-color="#334ea5"/><stop offset="0.6944" stop-color="#2c4fa4"/><stop offset="1.0006" stop-color="#2b50a2"/></linearGradient><linearGradient id="h103" x1="0" y1="0" x2="0" y2="1"><stop offset="0.0010" stop-color="#f09820"/><stop offset="0.1571" stop-color="#f2b31a"/><stop offset="0.2565" stop-color="#f2d01b"/><stop offset="0.3052" stop-color="#f1e022"/><stop offset="0.3944" stop-color="#e5e23f"/><stop offset="0.4471" stop-color="#d7d731"/><stop offset="0.5018" stop-color="#bfbf3e"/><stop offset="0.5444" stop-color="#a4a450"/><stop offset="0.5931" stop-color="#818173"/><stop offset="0.6174" stop-color="#747382"/><stop offset="0.6316" stop-color="#6a6890"/><stop offset="0.6417" stop-color="#5952a0"/><stop offset="0.6782" stop-color="#334ea5"/><stop offset="0.6924" stop-color="#2c4fa4"/><stop offset="1.0006" stop-color="#2b50a2"/></linearGradient><linearGradient id="h104" x1="0" y1="0" x2="0" y2="1"><stop offset="0.0010" stop-color="#f09820"/><stop offset="0.1592" stop-color="#f2b41a"/><stop offset="0.2545" stop-color="#f2d01b"/><stop offset="0.3011" stop-color="#f1e022"/><stop offset="0.3923" stop-color="#e5e23f"/><stop offset="0.4451" stop-color="#d6d631"/><stop offset="0.4978" stop-color="#bfbf3d"/><stop offset="0.5424" stop-color="#a4a451"/><stop offset="0.5910" stop-color="#818174"/><stop offset="0.6154" stop-color="#747382"/><stop offset="0.6316" stop-color="#676493"/><stop offset="0.6397" stop-color="#5952a0"/><stop offset="0.6762" stop-color="#344ea5"/><stop offset="0.6924" stop-color="#2c4fa4"/><stop offset="1.0006" stop-color="#2b50a2"/></linearGradient><linearGradient id="h105" x1="0" y1="0" x2="0" y2="1"><stop offset="0.0010" stop-color="#f09820"/><stop offset="0.1592" stop-color="#f2b51a"/><stop offset="0.2504" stop-color="#f2d01b"/><stop offset="0.2970" stop-color="#f1e022"/><stop offset="0.3883" stop-color="#e5e23f"/><stop offset="0.4410" stop-color="#d7d731"/><stop offset="0.4937" stop-color="#c0c03d"/><stop offset="0.5403" stop-color="#a3a351"/><stop offset="0.5890" stop-color="#818174"/><stop offset="0.6133" stop-color="#747382"/><stop offset="0.6296" stop-color="#676493"/><stop offset="0.6377" stop-color="#5a52a0"/><stop offset="0.6742" stop-color="#344ea5"/><stop offset="0.6904" stop-color="#2c4fa4"/><stop offset="1.0006" stop-color="#2b50a2"/></linearGradient><linearGradient id="h106" x1="0" y1="0" x2="0" y2="1"><stop offset="0.0010" stop-color="#f09820"/><stop offset="0.1592" stop-color="#f2b61a"/><stop offset="0.2484" stop-color="#f2d01b"/><stop offset="0.2930" stop-color="#f1e022"/><stop offset="0.3842" stop-color="#e5e33f"/><stop offset="0.4390" stop-color="#d6d631"/><stop offset="0.4917" stop-color="#bfbf3d"/><stop offset="0.5363" stop-color="#a4a450"/><stop offset="0.5850" stop-color="#828273"/><stop offset="0.6093" stop-color="#757580"/><stop offset="0.6275" stop-color="#686592"/><stop offset="0.6356" stop-color="#5a52a0"/><stop offset="0.6742" stop-color="#334fa4"/><stop offset="0.6904" stop-color="#2c4fa4"/><stop offset="1.0006" stop-color="#2b50a2"/></linearGradient><linearGradient id="h107" x1="0" y1="0" x2="0" y2="1"><stop offset="0.0010" stop-color="#f09920"/><stop offset="0.1571" stop-color="#f2b619"/><stop offset="0.2464" stop-color="#f2d11b"/><stop offset="0.2910" stop-color="#f1e022"/><stop offset="0.3822" stop-color="#e5e23f"/><stop offset="0.4349" stop-color="#d7d731"/><stop offset="0.4897" stop-color="#bfbf3d"/><stop offset="0.5343" stop-color="#a4a451"/><stop offset="0.5829" stop-color="#828273"/><stop offset="0.6093" stop-color="#747382"/><stop offset="0.6255" stop-color="#686592"/><stop offset="0.6336" stop-color="#5b539f"/><stop offset="0.6721" stop-color="#334ea5"/><stop offset="0.6863" stop-color="#2c4fa4"/><stop offset="1.0006" stop-color="#2b50a2"/></linearGradient><linearGradient id="h108" x1="0" y1="0" x2="0" y2="1"><stop offset="0.0010" stop-color="#f09920"/><stop offset="0.1571" stop-color="#f2b719"/><stop offset="0.2423" stop-color="#f2d01b"/><stop offset="0.2889" stop-color="#f1e022"/><stop offset="0.3802" stop-color="#e5e23f"/><stop offset="0.4329" stop-color="#d6d631"/><stop offset="0.4856" stop-color="#c0c03d"/><stop offset="0.5322" stop-color="#a4a451"/><stop offset="0.5809" stop-color="#828273"/><stop offset="0.6073" stop-color="#747482"/><stop offset="0.6235" stop-color="#696691"/><stop offset="0.6336" stop-color="#5952a0"/><stop offset="0.6701" stop-color="#344ea5"/><stop offset="0.6863" stop-color="#2c4fa4"/><stop offset="1.0006" stop-color="#2b50a2"/></linearGradient><linearGradient id="h109" x1="0" y1="0" x2="0" y2="1"><stop offset="0.0010" stop-color="#f09920"/><stop offset="0.1571" stop-color="#f2b819"/><stop offset="0.2403" stop-color="#f2d01b"/><stop offset="0.2849" stop-color="#f1e022"/><stop offset="0.3761" stop-color="#e5e33f"/><stop offset="0.4309" stop-color="#d6d631"/><stop offset="0.4836" stop-color="#c0c03d"/><stop offset="0.5302" stop-color="#a4a451"/><stop offset="0.5789" stop-color="#828273"/><stop offset="0.6052" stop-color="#747482"/><stop offset="0.6215" stop-color="#6a6790"/><stop offset="0.6316" stop-color="#5952a0"/><stop offset="0.6701" stop-color="#334fa4"/><stop offset="0.6863" stop-color="#2c4fa4"/><stop offset="1.0006" stop-color="#2b50a2"/></linearGradient><linearGradient id="h110" x1="0" y1="0" x2="0" y2="1"><stop offset="0.0010" stop-color="#f09920"/><stop offset="0.1551" stop-color="#f2b819"/><stop offset="0.2382" stop-color="#f2d01b"/><stop offset="0.2828" stop-color="#f1e022"/><stop offset="0.3741" stop-color="#e5e33f"/><stop offset="0.4288" stop-color="#d6d631"/><stop offset="0.4815" stop-color="#c0c03d"/><stop offset="0.5282" stop-color="#a4a450"/><stop offset="0.5789" stop-color="#818173"/><stop offset="0.6052" stop-color="#747383"/><stop offset="0.6215" stop-color="#686592"/><stop offset="0.6296" stop-color="#5b539f"/><stop offset="0.6681" stop-color="#334ea5"/><stop offset="0.6843" stop-color="#2c4fa4"/><stop offset="1.0006" stop-color="#2b50a2"/></linearGradient><linearGradient id="h111" x1="0" y1="0" x2="0" y2="1"><stop offset="0.0010" stop-color="#f09a20"/><stop offset="0.1551" stop-color="#f2b819"/><stop offset="0.2362" stop-color="#f2d01b"/><stop offset="0.2808" stop-color="#f1e022"/><stop offset="0.3741" stop-color="#e5e23f"/><stop offset="0.4268" stop-color="#d6d631"/><stop offset="0.4815" stop-color="#c0c03d"/><stop offset="0.5282" stop-color="#a3a351"/><stop offset="0.5768" stop-color="#818173"/><stop offset="0.6012" stop-color="#757581"/><stop offset="0.6194" stop-color="#696691"/><stop offset="0.6296" stop-color="#5952a0"/><stop offset="0.6681" stop-color="#324fa4"/><stop offset="0.6843" stop-color="#2c4fa4"/><stop offset="1.0006" stop-color="#2b50a2"/></linearGradient><linearGradient id="h112" x1="0" y1="0" x2="0" y2="1"><stop offset="0.0010" stop-color="#f09a20"/><stop offset="0.1551" stop-color="#f2b819"/><stop offset="0.2362" stop-color="#f2d11b"/><stop offset="0.2788" stop-color="#f1e022"/><stop offset="0.3721" stop-color="#e5e23f"/><stop offset="0.4248" stop-color="#d7d731"/><stop offset="0.4795" stop-color="#c0c03d"/><stop offset="0.5262" stop-color="#a4a451"/><stop offset="0.5768" stop-color="#818174"/><stop offset="0.6032" stop-color="#737283"/><stop offset="0.6194" stop-color="#676493"/><stop offset="0.6275" stop-color="#5a52a0"/><stop offset="0.6681" stop-color="#324fa4"/><stop offset="0.6823" stop-color="#2c4fa4"/><stop offset="1.0006" stop-color="#2b50a2"/></linearGradient><linearGradient id="h113" x1="0" y1="0" x2="0" y2="1"><stop offset="0.0010" stop-color="#f09a20"/><stop offset="0.1551" stop-color="#f2b919"/><stop offset="0.2342" stop-color="#f2d11b"/><stop offset="0.2788" stop-color="#f1e022"/><stop offset="0.3700" stop-color="#e5e23f"/><stop offset="0.4248" stop-color="#d6d631"/><stop offset="0.4795" stop-color="#bfbf3d"/><stop offset="0.5262" stop-color="#a3a351"/><stop offset="0.5748" stop-color="#818173"/><stop offset="0.5991" stop-color="#757481"/><stop offset="0.6174" stop-color="#686692"/><stop offset="0.6275" stop-color="#5952a0"/><stop offset="0.6681" stop-color="#314fa4"/><stop offset="0.6843" stop-color="#2c4fa4"/><stop offset="1.0006" stop-color="#2b50a2"/></linearGradient><linearGradient id="h114" x1="0" y1="0" x2="0" y2="1"><stop offset="0.0010" stop-color="#f09a20"/><stop offset="0.1531" stop-color="#f2b919"/><stop offset="0.2342" stop-color="#f2d11b"/><stop offset="0.2768" stop-color="#f1e022"/><stop offset="0.3680" stop-color="#e5e23f"/><stop offset="0.4227" stop-color="#d6d631"/><stop offset="0.4775" stop-color="#c0c03d"/><stop offset="0.5241" stop-color="#a4a451"/><stop offset="0.5748" stop-color="#818174"/><stop offset="0.5991" stop-color="#747482"/><stop offset="0.6174" stop-color="#676393"/><stop offset="0.6255" stop-color="#5a52a0"/><stop offset="0.6661" stop-color="#324fa4"/><stop offset="0.6803" stop-color="#2c4fa4"/><stop offset="1.0006" stop-color="#2b50a2"/></linearGradient><linearGradient id="h115" x1="0" y1="0" x2="0" y2="1"><stop offset="0.0010" stop-color="#f09a20"/><stop offset="0.1531" stop-color="#f2b919"/><stop offset="0.2322" stop-color="#f2d11b"/><stop offset="0.2747" stop-color="#f1e022"/><stop offset="0.3660" stop-color="#e5e23f"/><stop offset="0.4207" stop-color="#d6d631"/><stop offset="0.4775" stop-color="#c0c03d"/><stop offset="0.5241" stop-color="#a3a351"/><stop offset="0.5728" stop-color="#818173"/><stop offset="0.5991" stop-color="#747383"/><stop offset="0.6154" stop-color="#686592"/><stop offset="0.6255" stop-color="#5952a0"/><stop offset="0.6661" stop-color="#314fa4"/><stop offset="0.6803" stop-color="#2c4fa4"/><stop offset="1.0006" stop-color="#2b50a2"/></linearGradient><linearGradient id="h116" x1="0" y1="0" x2="0" y2="1"><stop offset="0.0010" stop-color="#f09b20"/><stop offset="0.1511" stop-color="#f2b919"/><stop offset="0.2301" stop-color="#f2d11b"/><stop offset="0.2727" stop-color="#f1e022"/><stop offset="0.3660" stop-color="#e5e23f"/><stop offset="0.4187" stop-color="#d7d731"/><stop offset="0.4755" stop-color="#c0c03d"/><stop offset="0.5221" stop-color="#a4a450"/><stop offset="0.5728" stop-color="#818174"/><stop offset="0.5971" stop-color="#747382"/><stop offset="0.6133" stop-color="#696791"/><stop offset="0.6235" stop-color="#5a52a0"/><stop offset="0.6661" stop-color="#304fa4"/><stop offset="0.6803" stop-color="#2c4fa4"/><stop offset="1.0006" stop-color="#2b50a2"/></linearGradient><linearGradient id="h117" x1="0" y1="0" x2="0" y2="1"><stop offset="0.0010" stop-color="#f09b20"/><stop offset="0.1511" stop-color="#f2b919"/><stop offset="0.2281" stop-color="#f2d11b"/><stop offset="0.2707" stop-color="#f1e022"/><stop offset="0.3639" stop-color="#e5e23f"/><stop offset="0.4187" stop-color="#d6d631"/><stop offset="0.4755" stop-color="#c0c03d"/><stop offset="0.5221" stop-color="#a4a451"/><stop offset="0.5708" stop-color="#818173"/><stop offset="0.5971" stop-color="#737383"/><stop offset="0.6133" stop-color="#686592"/><stop offset="0.6235" stop-color="#5952a0"/><stop offset="0.6661" stop-color="#304fa4"/><stop offset="0.6843" stop-color="#2c4fa4"/><stop offset="1.0006" stop-color="#2b50a2"/></linearGradient><linearGradient id="h118" x1="0" y1="0" x2="0" y2="1"><stop offset="0.0010" stop-color="#f09b20"/><stop offset="0.1490" stop-color="#f2b919"/><stop offset="0.2281" stop-color="#f2d11b"/><stop offset="0.2707" stop-color="#f1e022"/><stop offset="0.3619" stop-color="#e5e23f"/><stop offset="0.4167" stop-color="#d6d631"/><stop offset="0.4734" stop-color="#c0c03d"/><stop offset="0.5201" stop-color="#a4a450"/><stop offset="0.5708" stop-color="#818174"/><stop offset="0.5951" stop-color="#747382"/><stop offset="0.6113" stop-color="#696791"/><stop offset="0.6215" stop-color="#5a52a0"/><stop offset="0.6661" stop-color="#2f4fa4"/><stop offset="0.6944" stop-color="#2c4fa3"/><stop offset="1.0006" stop-color="#2b50a2"/></linearGradient><linearGradient id="h119" x1="0" y1="0" x2="0" y2="1"><stop offset="0.0010" stop-color="#f09b20"/><stop offset="0.1490" stop-color="#f2b919"/><stop offset="0.2261" stop-color="#f2d11b"/><stop offset="0.2687" stop-color="#f1e022"/><stop offset="0.3599" stop-color="#e5e23f"/><stop offset="0.4146" stop-color="#d6d631"/><stop offset="0.4734" stop-color="#bfbf3d"/><stop offset="0.5201" stop-color="#a4a451"/><stop offset="0.5687" stop-color="#818173"/><stop offset="0.5931" stop-color="#757481"/><stop offset="0.6113" stop-color="#676593"/><stop offset="0.6215" stop-color="#5952a0"/><stop offset="0.6661" stop-color="#2e4fa4"/><stop offset="0.8729" stop-color="#2b50a2"/><stop offset="1.0006" stop-color="#2b50a2"/></linearGradient><linearGradient id="h120" x1="0" y1="0" x2="0" y2="1"><stop offset="0.0010" stop-color="#f09c20"/><stop offset="0.1470" stop-color="#f2b919"/><stop offset="0.2240" stop-color="#f2d11b"/><stop offset="0.2666" stop-color="#f1e022"/><stop offset="0.3579" stop-color="#e5e33f"/><stop offset="0.4126" stop-color="#d7d731"/><stop offset="0.4734" stop-color="#bfbf3d"/><stop offset="0.5180" stop-color="#a5a550"/><stop offset="0.5687" stop-color="#818174"/><stop offset="0.5931" stop-color="#747382"/><stop offset="0.6093" stop-color="#696691"/><stop offset="0.6194" stop-color="#5a52a0"/><stop offset="0.6661" stop-color="#2e4fa4"/><stop offset="1.0006" stop-color="#2b50a2"/></linearGradient><linearGradient id="h121" x1="0" y1="0" x2="0" y2="1"><stop offset="0.0010" stop-color="#f09c20"/><stop offset="0.1470" stop-color="#f2ba19"/><stop offset="0.2220" stop-color="#f2d11b"/><stop offset="0.2646" stop-color="#f1e022"/><stop offset="0.3579" stop-color="#e5e23f"/><stop offset="0.4126" stop-color="#d6d631"/><stop offset="0.4714" stop-color="#bfbf3d"/><stop offset="0.5180" stop-color="#a4a450"/><stop offset="0.5667" stop-color="#828273"/><stop offset="0.5910" stop-color="#757481"/><stop offset="0.6093" stop-color="#676493"/><stop offset="0.6194" stop-color="#5952a0"/><stop offset="0.6661" stop-color="#2d4fa4"/><stop offset="1.0006" stop-color="#2b50a2"/></linearGradient><linearGradient id="h122" x1="0" y1="0" x2="0" y2="1"><stop offset="0.0010" stop-color="#f09c1f"/><stop offset="0.1450" stop-color="#f2b919"/><stop offset="0.2220" stop-color="#f2d11b"/><stop offset="0.2646" stop-color="#f1e022"/><stop offset="0.3558" stop-color="#e5e23f"/><stop offset="0.4106" stop-color="#d6d631"/><stop offset="0.4714" stop-color="#bfbf3d"/><stop offset="0.5160" stop-color="#a5a550"/><stop offset="0.5667" stop-color="#818174"/><stop offset="0.5910" stop-color="#747382"/><stop offset="0.6073" stop-color="#696691"/><stop offset="0.6174" stop-color="#5a52a0"/><stop offset="0.6661" stop-color="#2d4fa4"/><stop offset="1.0006" stop-color="#2b50a2"/></linearGradient><linearGradient id="h123" x1="0" y1="0" x2="0" y2="1"><stop offset="0.0010" stop-color="#f09c1f"/><stop offset="0.1450" stop-color="#f2ba19"/><stop offset="0.2200" stop-color="#f2d11b"/><stop offset="0.2626" stop-color="#f1e022"/><stop offset="0.3538" stop-color="#e5e23f"/><stop offset="0.4086" stop-color="#d6d631"/><stop offset="0.4714" stop-color="#bebe3e"/><stop offset="0.5160" stop-color="#a4a450"/><stop offset="0.5667" stop-color="#818174"/><stop offset="0.5910" stop-color="#737283"/><stop offset="0.6073" stop-color="#676493"/><stop offset="0.6174" stop-color="#5952a0"/><stop offset="0.6640" stop-color="#2d4fa4"/><stop offset="1.0006" stop-color="#2b50a2"/></linearGradient><linearGradient id="h124" x1="0" y1="0" x2="0" y2="1"><stop offset="0.0010" stop-color="#f09c1f"/><stop offset="0.1429" stop-color="#f2b919"/><stop offset="0.2180" stop-color="#f2d11b"/><stop offset="0.2605" stop-color="#f1e022"/><stop offset="0.3518" stop-color="#e5e23f"/><stop offset="0.4065" stop-color="#d7d731"/><stop offset="0.4694" stop-color="#bfbf3d"/><stop offset="0.5140" stop-color="#a5a550"/><stop offset="0.5647" stop-color="#818173"/><stop offset="0.5890" stop-color="#747382"/><stop offset="0.6052" stop-color="#696691"/><stop offset="0.6154" stop-color="#5a52a0"/><stop offset="0.6640" stop-color="#2d4fa4"/><stop offset="1.0006" stop-color="#2b50a2"/></linearGradient><linearGradient id="h125" x1="0" y1="0" x2="0" y2="1"><stop offset="0.0010" stop-color="#f09d1f"/><stop offset="0.1429" stop-color="#f2ba19"/><stop offset="0.2159" stop-color="#f2d11b"/><stop offset="0.2585" stop-color="#f1e022"/><stop offset="0.3498" stop-color="#e5e23f"/><stop offset="0.4065" stop-color="#d6d631"/><stop offset="0.4694" stop-color="#bebe3e"/><stop offset="0.5140" stop-color="#a5a550"/><stop offset="0.5647" stop-color="#818174"/><stop offset="0.5890" stop-color="#737283"/><stop offset="0.6052" stop-color="#676493"/><stop offset="0.6154" stop-color="#5952a0"/><stop offset="0.6640" stop-color="#2c4fa4"/><stop offset="1.0006" stop-color="#2b50a2"/></linearGradient><linearGradient id="h126" x1="0" y1="0" x2="0" y2="1"><stop offset="0.0010" stop-color="#f09d1f"/><stop offset="0.1409" stop-color="#f2ba19"/><stop offset="0.2159" stop-color="#f2d11b"/><stop offset="0.2565" stop-color="#f1e022"/><stop offset="0.3477" stop-color="#e5e33f"/><stop offset="0.4045" stop-color="#d6d631"/><stop offset="0.4694" stop-color="#bebe3e"/><stop offset="0.5140" stop-color="#a4a451"/><stop offset="0.5627" stop-color="#818173"/><stop offset="0.5870" stop-color="#747382"/><stop offset="0.6032" stop-color="#686692"/><stop offset="0.6133" stop-color="#5a52a0"/><stop offset="0.6620" stop-color="#2d4fa4"/><stop offset="1.0006" stop-color="#2b50a2"/></linearGradient><linearGradient id="h127" x1="0" y1="0" x2="0" y2="1"><stop offset="0.0010" stop-color="#f09d1f"/><stop offset="0.1409" stop-color="#f2ba19"/><stop offset="0.2139" stop-color="#f2d11b"/><stop offset="0.2565" stop-color="#f1e022"/><stop offset="0.3477" stop-color="#e5e23f"/><stop offset="0.4025" stop-color="#d6d631"/><stop offset="0.4674" stop-color="#bebe3e"/><stop offset="0.5120" stop-color="#a5a550"/><stop offset="0.5627" stop-color="#818174"/><stop offset="0.5850" stop-color="#757481"/><stop offset="0.6032" stop-color="#676493"/><stop offset="0.6133" stop-color="#5952a0"/><stop offset="0.6620" stop-color="#2d4fa4"/><stop offset="1.0006" stop-color="#2b50a2"/></linearGradient><linearGradient id="h128" x1="0" y1="0" x2="0" y2="1"><stop offset="0.0010" stop-color="#f09d1f"/><stop offset="0.1389" stop-color="#f2ba19"/><stop offset="0.2119" stop-color="#f2d11b"/><stop offset="0.2545" stop-color="#f1e022"/><stop offset="0.3457" stop-color="#e5e23f"/><stop offset="0.4025" stop-color="#d6d631"/><stop offset="0.4674" stop-color="#bdbd3e"/><stop offset="0.5120" stop-color="#a4a450"/><stop offset="0.5627" stop-color="#818174"/><stop offset="0.5870" stop-color="#737284"/><stop offset="0.6012" stop-color="#686692"/><stop offset="0.6113" stop-color="#5a52a0"/><stop offset="0.6620" stop-color="#2c4fa4"/><stop offset="1.0006" stop-color="#2b50a2"/></linearGradient><linearGradient id="h129" x1="0" y1="0" x2="0" y2="1"><stop offset="0.0010" stop-color="#f09e1f"/><stop offset="0.1389" stop-color="#f2ba19"/><stop offset="0.2119" stop-color="#f2d21b"/><stop offset="0.2524" stop-color="#f1e022"/><stop offset="0.3437" stop-color="#e5e23f"/><stop offset="0.4004" stop-color="#d6d631"/><stop offset="0.4674" stop-color="#bdbd3f"/><stop offset="0.5099" stop-color="#a5a550"/><stop offset="0.5606" stop-color="#818174"/><stop offset="0.5829" stop-color="#757481"/><stop offset="0.6012" stop-color="#676493"/><stop offset="0.6113" stop-color="#5852a0"/><stop offset="0.6600" stop-color="#2d4fa4"/><stop offset="1.0006" stop-color="#2b50a2"/></linearGradient><linearGradient id="h130" x1="0" y1="0" x2="0" y2="1"><stop offset="0.0010" stop-color="#f09e1f"/><stop offset="0.1369" stop-color="#f2ba19"/><stop offset="0.2099" stop-color="#f2d21b"/><stop offset="0.2504" stop-color="#f1e022"/><stop offset="0.3416" stop-color="#e5e23f"/><stop offset="0.3984" stop-color="#d6d631"/><stop offset="0.4653" stop-color="#bdbd3e"/><stop offset="0.5099" stop-color="#a4a450"/><stop offset="0.5606" stop-color="#818174"/><stop offset="0.5850" stop-color="#737284"/><stop offset="0.5991" stop-color="#686692"/><stop offset="0.6093" stop-color="#5952a0"/><stop offset="0.6600" stop-color="#2c4fa4"/><stop offset="1.0006" stop-color="#2b50a2"/></linearGradient><linearGradient id="h131" x1="0" y1="0" x2="0" y2="1"><stop offset="0.0010" stop-color="#f09f1f"/><stop offset="0.1369" stop-color="#f2bb19"/><stop offset="0.2078" stop-color="#f2d21b"/><stop offset="0.2484" stop-color="#f1e022"/><stop offset="0.3396" stop-color="#e5e23f"/><stop offset="0.3964" stop-color="#d7d731"/><stop offset="0.4633" stop-color="#bdbd3e"/><stop offset="0.5079" stop-color="#a5a550"/><stop offset="0.5586" stop-color="#818173"/><stop offset="0.5809" stop-color="#757481"/><stop offset="0.5991" stop-color="#676393"/><stop offset="0.6093" stop-color="#5852a0"/><stop offset="0.6600" stop-color="#2c4fa4"/><stop offset="1.0006" stop-color="#2b50a2"/></linearGradient><linearGradient id="h132" x1="0" y1="0" x2="0" y2="1"><stop offset="0.0010" stop-color="#f09f1f"/><stop offset="0.1348" stop-color="#f2bb19"/><stop offset="0.2058" stop-color="#f2d21b"/><stop offset="0.2484" stop-color="#f1e023"/><stop offset="0.3376" stop-color="#e5e23f"/><stop offset="0.3964" stop-color="#d6d631"/><stop offset="0.4633" stop-color="#bdbd3f"/><stop offset="0.5079" stop-color="#a4a451"/><stop offset="0.5586" stop-color="#818174"/><stop offset="0.5829" stop-color="#737284"/><stop offset="0.5971" stop-color="#686592"/><stop offset="0.6073" stop-color="#5952a0"/><stop offset="0.6579" stop-color="#2c4fa4"/><stop offset="1.0006" stop-color="#2b50a2"/></linearGradient><linearGradient id="h133" x1="0" y1="0" x2="0" y2="1"><stop offset="0.0010" stop-color="#f1a01e"/><stop offset="0.1348" stop-color="#f2bc19"/><stop offset="0.2058" stop-color="#f2d31c"/><stop offset="0.2464" stop-color="#f1e023"/><stop offset="0.3356" stop-color="#e5e33f"/><stop offset="0.3944" stop-color="#d6d631"/><stop offset="0.4613" stop-color="#bdbd3f"/><stop offset="0.5059" stop-color="#a4a450"/><stop offset="0.5566" stop-color="#818173"/><stop offset="0.5789" stop-color="#757481"/><stop offset="0.5971" stop-color="#676393"/><stop offset="0.6073" stop-color="#5852a0"/><stop offset="0.6579" stop-color="#2c4fa4"/><stop offset="1.0006" stop-color="#2b50a2"/></linearGradient><linearGradient id="h134" x1="0" y1="0" x2="0" y2="1"><stop offset="0.0010" stop-color="#f1a11e"/><stop offset="0.1348" stop-color="#f2bc19"/><stop offset="0.2038" stop-color="#f2d31c"/><stop offset="0.2443" stop-color="#f1e023"/><stop offset="0.3356" stop-color="#e5e23f"/><stop offset="0.3923" stop-color="#d6d631"/><stop offset="0.4592" stop-color="#bdbd3e"/><stop offset="0.5039" stop-color="#a5a550"/><stop offset="0.5566" stop-color="#818174"/><stop offset="0.5789" stop-color="#747382"/><stop offset="0.5951" stop-color="#686692"/><stop offset="0.6052" stop-color="#5952a0"/><stop offset="0.6559" stop-color="#2c4fa4"/><stop offset="1.0006" stop-color="#2b50a2"/></linearGradient><linearGradient id="h135" x1="0" y1="0" x2="0" y2="1"><stop offset="0.0010" stop-color="#f1a21e"/><stop offset="0.1348" stop-color="#f2bd19"/><stop offset="0.2017" stop-color="#f2d31c"/><stop offset="0.2403" stop-color="#f1e022"/><stop offset="0.3335" stop-color="#e5e23f"/><stop offset="0.3923" stop-color="#d6d631"/><stop offset="0.4572" stop-color="#bdbd3e"/><stop offset="0.5039" stop-color="#a4a451"/><stop offset="0.5545" stop-color="#818173"/><stop offset="0.5768" stop-color="#757481"/><stop offset="0.5951" stop-color="#676493"/><stop offset="0.6052" stop-color="#5852a0"/><stop offset="0.6559" stop-color="#2c4fa4"/><stop offset="1.0006" stop-color="#2b50a2"/></linearGradient><linearGradient id="h136" x1="0" y1="0" x2="0" y2="1"><stop offset="0.0010" stop-color="#f1a21e"/><stop offset="0.1348" stop-color="#f2be19"/><stop offset="0.2017" stop-color="#f2d41c"/><stop offset="0.2382" stop-color="#f1e022"/><stop offset="0.3315" stop-color="#e5e23f"/><stop offset="0.3903" stop-color="#d6d631"/><stop offset="0.4552" stop-color="#bebe3e"/><stop offset="0.5018" stop-color="#a4a450"/><stop offset="0.5545" stop-color="#818174"/><stop offset="0.5768" stop-color="#747482"/><stop offset="0.5931" stop-color="#686692"/><stop offset="0.6032" stop-color="#5952a0"/><stop offset="0.6539" stop-color="#2c4fa4"/><stop offset="1.0006" stop-color="#2b50a2"/></linearGradient><linearGradient id="h137" x1="0" y1="0" x2="0" y2="1"><stop offset="0.0010" stop-color="#f1a31e"/><stop offset="0.1328" stop-color="#f2be19"/><stop offset="0.1997" stop-color="#f2d41c"/><stop offset="0.2362" stop-color="#f1e022"/><stop offset="0.3295" stop-color="#e5e23f"/><stop offset="0.3883" stop-color="#d6d631"/><stop offset="0.4532" stop-color="#bebe3e"/><stop offset="0.4998" stop-color="#a5a550"/><stop offset="0.5525" stop-color="#818173"/><stop offset="0.5748" stop-color="#757481"/><stop offset="0.5931" stop-color="#676493"/><stop offset="0.6032" stop-color="#5852a0"/><stop offset="0.6539" stop-color="#2c4fa4"/><stop offset="1.0006" stop-color="#2b50a2"/></linearGradient><linearGradient id="h138" x1="0" y1="0" x2="0" y2="1"><stop offset="0.0010" stop-color="#f1a41d"/><stop offset="0.1348" stop-color="#f2bf19"/><stop offset="0.2058" stop-color="#f2d81d"/><stop offset="0.2362" stop-color="#f1e023"/><stop offset="0.3275" stop-color="#e5e23f"/><stop offset="0.3863" stop-color="#d6d631"/><stop offset="0.4511" stop-color="#bebe3e"/><stop offset="0.4978" stop-color="#a5a54f"/><stop offset="0.5525" stop-color="#818174"/><stop offset="0.5748" stop-color="#747482"/><stop offset="0.5910" stop-color="#696691"/><stop offset="0.6012" stop-color="#5952a0"/><stop offset="0.6519" stop-color="#2d4fa4"/><stop offset="1.0006" stop-color="#2b50a2"/></linearGradient><linearGradient id="h139" x1="0" y1="0" x2="0" y2="1"><stop offset="0.0010" stop-color="#f1a41d"/><stop offset="0.1348" stop-color="#f2c019"/><stop offset="0.2078" stop-color="#f2d91e"/><stop offset="0.2342" stop-color="#f1e023"/><stop offset="0.3254" stop-color="#e5e23f"/><stop offset="0.3863" stop-color="#d6d631"/><stop offset="0.4511" stop-color="#bebe3e"/><stop offset="0.4978" stop-color="#a4a450"/><stop offset="0.5505" stop-color="#818173"/><stop offset="0.5728" stop-color="#757581"/><stop offset="0.5910" stop-color="#676493"/><stop offset="0.6012" stop-color="#5852a0"/><stop offset="0.6519" stop-color="#2c4fa4"/><stop offset="1.0006" stop-color="#2b50a2"/></linearGradient><linearGradient id="h140" x1="0" y1="0" x2="0" y2="1"><stop offset="0.0010" stop-color="#f1a51d"/><stop offset="0.1369" stop-color="#f2c219"/><stop offset="0.2220" stop-color="#f2e020"/><stop offset="0.3234" stop-color="#e5e23f"/><stop offset="0.3842" stop-color="#d6d631"/><stop offset="0.4471" stop-color="#bfbf3d"/><stop offset="0.4957" stop-color="#a5a550"/><stop offset="0.5505" stop-color="#818174"/><stop offset="0.5728" stop-color="#757481"/><stop offset="0.5890" stop-color="#696691"/><stop offset="0.5991" stop-color="#5a52a0"/><stop offset="0.6498" stop-color="#2d4fa4"/><stop offset="1.0006" stop-color="#2b50a2"/></linearGradient><linearGradient id="h141" x1="0" y1="0" x2="0" y2="1"><stop offset="0.0010" stop-color="#f1a61d"/><stop offset="0.1389" stop-color="#f2c318"/><stop offset="0.2281" stop-color="#f1e022"/><stop offset="0.3214" stop-color="#e5e33f"/><stop offset="0.3822" stop-color="#d6d631"/><stop offset="0.4471" stop-color="#bebe3e"/><stop offset="0.4937" stop-color="#a5a550"/><stop offset="0.5505" stop-color="#808074"/><stop offset="0.5728" stop-color="#747382"/><stop offset="0.5890" stop-color="#676493"/><stop offset="0.5991" stop-color="#5852a0"/><stop offset="0.6498" stop-color="#2c4fa4"/><stop offset="1.0006" stop-color="#2b50a2"/></linearGradient><linearGradient id="h142" x1="0" y1="0" x2="0" y2="1"><stop offset="0.0010" stop-color="#f1a71d"/><stop offset="0.1429" stop-color="#f2c518"/><stop offset="0.2261" stop-color="#f1e022"/><stop offset="0.3214" stop-color="#e5e23f"/><stop offset="0.3802" stop-color="#d6d631"/><stop offset="0.4451" stop-color="#bfbf3e"/><stop offset="0.4937" stop-color="#a4a450"/><stop offset="0.5485" stop-color="#818174"/><stop offset="0.5708" stop-color="#757481"/><stop offset="0.5870" stop-color="#696791"/><stop offset="0.5971" stop-color="#5a52a0"/><stop offset="0.6478" stop-color="#2d4fa4"/><stop offset="1.0006" stop-color="#2b50a2"/></linearGradient><linearGradient id="h143" x1="0" y1="0" x2="0" y2="1"><stop offset="0.0010" stop-color="#f1a71c"/><stop offset="0.1450" stop-color="#f2c618"/><stop offset="0.2240" stop-color="#f1e022"/><stop offset="0.3193" stop-color="#e5e23f"/><stop offset="0.3781" stop-color="#d7d731"/><stop offset="0.4430" stop-color="#bfbf3d"/><stop offset="0.4917" stop-color="#a4a450"/><stop offset="0.5485" stop-color="#808074"/><stop offset="0.5708" stop-color="#747382"/><stop offset="0.5870" stop-color="#686592"/><stop offset="0.5971" stop-color="#5952a0"/><stop offset="0.6478" stop-color="#2c4fa4"/><stop offset="1.0006" stop-color="#2b50a2"/></linearGradient><linearGradient id="h144" x1="0" y1="0" x2="0" y2="1"><stop offset="0.0010" stop-color="#f1a81c"/><stop offset="0.1470" stop-color="#f2c718"/><stop offset="0.2200" stop-color="#f1e022"/><stop offset="0.3173" stop-color="#e5e23f"/><stop offset="0.3781" stop-color="#d6d631"/><stop offset="0.4410" stop-color="#bfbf3d"/><stop offset="0.4897" stop-color="#a5a550"/><stop offset="0.5464" stop-color="#818174"/><stop offset="0.5687" stop-color="#757481"/><stop offset="0.5850" stop-color="#696791"/><stop offset="0.5951" stop-color="#5a52a0"/><stop offset="0.6458" stop-color="#2d4fa4"/><stop offset="1.0006" stop-color="#2b50a2"/></linearGradient><linearGradient id="h145" x1="0" y1="0" x2="0" y2="1"><stop offset="0.0010" stop-color="#f1a91c"/><stop offset="0.1470" stop-color="#f2c818"/><stop offset="0.2180" stop-color="#f1e022"/><stop offset="0.3153" stop-color="#e5e23f"/><stop offset="0.3761" stop-color="#d6d631"/><stop offset="0.4390" stop-color="#c0c03d"/><stop offset="0.4897" stop-color="#a4a451"/><stop offset="0.5444" stop-color="#818174"/><stop offset="0.5687" stop-color="#747482"/><stop offset="0.5850" stop-color="#686592"/><stop offset="0.5951" stop-color="#5952a0"/><stop offset="0.6458" stop-color="#2c4fa4"/><stop offset="1.0006" stop-color="#2b50a2"/></linearGradient><linearGradient id="h146" x1="0" y1="0" x2="0" y2="1"><stop offset="0.0010" stop-color="#f1aa1c"/><stop offset="0.1470" stop-color="#f2c918"/><stop offset="0.2159" stop-color="#f1e022"/><stop offset="0.3133" stop-color="#e5e23f"/><stop offset="0.3741" stop-color="#d6d631"/><stop offset="0.4369" stop-color="#c0c03d"/><stop offset="0.4876" stop-color="#a4a450"/><stop offset="0.5424" stop-color="#828273"/><stop offset="0.5667" stop-color="#757481"/><stop offset="0.5850" stop-color="#676493"/><stop offset="0.5931" stop-color="#5a52a0"/><stop offset="0.6438" stop-color="#2d4fa4"/><stop offset="1.0006" stop-color="#2b50a2"/></linearGradient><linearGradient id="h147" x1="0" y1="0" x2="0" y2="1"><stop offset="0.0010" stop-color="#f1aa1c"/><stop offset="0.1470" stop-color="#f2ca19"/><stop offset="0.2139" stop-color="#f1e022"/><stop offset="0.3133" stop-color="#e5e23f"/><stop offset="0.3721" stop-color="#d6d631"/><stop offset="0.4369" stop-color="#bfbf3d"/><stop offset="0.4856" stop-color="#a5a550"/><stop offset="0.5424" stop-color="#818173"/><stop offset="0.5667" stop-color="#757481"/><stop offset="0.5829" stop-color="#696791"/><stop offset="0.5931" stop-color="#5952a0"/><stop offset="0.6438" stop-color="#2c4fa4"/><stop offset="1.0006" stop-color="#2b50a2"/></linearGradient><linearGradient id="h148" x1="0" y1="0" x2="0" y2="1"><stop offset="0.0010" stop-color="#f2ab1b"/><stop offset="0.1470" stop-color="#f2cb19"/><stop offset="0.2119" stop-color="#f1e022"/><stop offset="0.3112" stop-color="#e5e23f"/><stop offset="0.3700" stop-color="#d7d731"/><stop offset="0.4349" stop-color="#c0c03d"/><stop offset="0.4856" stop-color="#a4a450"/><stop offset="0.5403" stop-color="#828273"/><stop offset="0.5647" stop-color="#767580"/><stop offset="0.5829" stop-color="#686692"/><stop offset="0.5931" stop-color="#5952a0"/><stop offset="0.6438" stop-color="#2c4fa4"/><stop offset="1.0006" stop-color="#2b50a2"/></linearGradient><linearGradient id="h149" x1="0" y1="0" x2="0" y2="1"><stop offset="0.0010" stop-color="#f2ac1b"/><stop offset="0.1470" stop-color="#f2cc19"/><stop offset="0.2099" stop-color="#f1e022"/><stop offset="0.3092" stop-color="#e5e23f"/><stop offset="0.3700" stop-color="#d6d631"/><stop offset="0.4349" stop-color="#bfbf3d"/><stop offset="0.4836" stop-color="#a5a550"/><stop offset="0.5403" stop-color="#818173"/><stop offset="0.5647" stop-color="#757580"/><stop offset="0.5829" stop-color="#686592"/><stop offset="0.5931" stop-color="#5852a0"/><stop offset="0.6438" stop-color="#2c4fa4"/><stop offset="1.0006" stop-color="#2b50a2"/></linearGradient><linearGradient id="h150" x1="0" y1="0" x2="0" y2="1"><stop offset="0.0010" stop-color="#f2ad1b"/><stop offset="0.1470" stop-color="#f2cc19"/><stop offset="0.2078" stop-color="#f1e022"/><stop offset="0.3092" stop-color="#e5e23f"/><stop offset="0.3680" stop-color="#d6d631"/><stop offset="0.4329" stop-color="#c0c03d"/><stop offset="0.4836" stop-color="#a4a450"/><stop offset="0.5403" stop-color="#818174"/><stop offset="0.5647" stop-color="#757481"/><stop offset="0.5829" stop-color="#676493"/><stop offset="0.5910" stop-color="#5a52a0"/><stop offset="0.6417" stop-color="#2d4fa4"/><stop offset="1.0006" stop-color="#2b50a2"/></linearGradient><linearGradient id="h151" x1="0" y1="0" x2="0" y2="1"><stop offset="0.0010" stop-color="#f2ad1b"/><stop offset="0.1470" stop-color="#f2cd1a"/><stop offset="0.2058" stop-color="#f1e022"/><stop offset="0.3072" stop-color="#e5e23f"/><stop offset="0.3660" stop-color="#d6d631"/><stop offset="0.4309" stop-color="#c0c03c"/><stop offset="0.4815" stop-color="#a5a550"/><stop offset="0.5383" stop-color="#828273"/><stop offset="0.5647" stop-color="#757481"/><stop offset="0.5809" stop-color="#696791"/><stop offset="0.5910" stop-color="#5a52a0"/><stop offset="0.6417" stop-color="#2c4fa4"/><stop offset="1.0006" stop-color="#2b50a2"/></linearGradient><linearGradient id="h152" x1="0" y1="0" x2="0" y2="1"><stop offset="0.0010" stop-color="#f2ae1b"/><stop offset="0.1470" stop-color="#f2ce1a"/><stop offset="0.2038" stop-color="#f1e022"/><stop offset="0.3052" stop-color="#e5e23f"/><stop offset="0.3639" stop-color="#d7d731"/><stop offset="0.4309" stop-color="#c0c03d"/><stop offset="0.4815" stop-color="#a4a450"/><stop offset="0.5383" stop-color="#818173"/><stop offset="0.5627" stop-color="#767580"/><stop offset="0.5809" stop-color="#696691"/><stop offset="0.5910" stop-color="#5952a0"/><stop offset="0.6417" stop-color="#2c4fa4"/><stop offset="1.0006" stop-color="#2b50a2"/></linearGradient><linearGradient id="h153" x1="0" y1="0" x2="0" y2="1"><stop offset="0.0010" stop-color="#f2af1a"/><stop offset="0.1470" stop-color="#f2cf1a"/><stop offset="0.2017" stop-color="#f1e022"/><stop offset="0.3031" stop-color="#e5e23f"/><stop offset="0.3619" stop-color="#d7d731"/><stop offset="0.4288" stop-color="#c0c03c"/><stop offset="0.4795" stop-color="#a5a550"/><stop offset="0.5363" stop-color="#828273"/><stop offset="0.5627" stop-color="#757580"/><stop offset="0.5809" stop-color="#686592"/><stop offset="0.5910" stop-color="#5952a0"/><stop offset="0.6397" stop-color="#2d4fa4"/><stop offset="1.0006" stop-color="#2b50a2"/></linearGradient><linearGradient id="h154" x1="0" y1="0" x2="0" y2="1"><stop offset="0.0010" stop-color="#f2af1a"/><stop offset="0.1450" stop-color="#f2cf1a"/><stop offset="0.1997" stop-color="#f1e022"/><stop offset="0.3031" stop-color="#e5e23f"/><stop offset="0.3619" stop-color="#d6d631"/><stop offset="0.4288" stop-color="#c0c03d"/><stop offset="0.4795" stop-color="#a4a450"/><stop offset="0.5363" stop-color="#818173"/><stop offset="0.5627" stop-color="#757481"/><stop offset="0.5809" stop-color="#676493"/><stop offset="0.5910" stop-color="#5852a0"/><stop offset="0.6397" stop-color="#2d4fa4"/><stop offset="1.0006" stop-color="#2b50a2"/></linearGradient><linearGradient id="h155" x1="0" y1="0" x2="0" y2="1"><stop offset="0.0010" stop-color="#f2b01a"/><stop offset="0.1429" stop-color="#f2cf1a"/><stop offset="0.1977" stop-color="#f1e022"/><stop offset="0.3011" stop-color="#e5e23f"/><stop offset="0.3599" stop-color="#d6d631"/><stop offset="0.4268" stop-color="#c0c03d"/><stop offset="0.4775" stop-color="#a5a550"/><stop offset="0.5343" stop-color="#828273"/><stop offset="0.5606" stop-color="#767580"/><stop offset="0.5809" stop-color="#676393"/><stop offset="0.5890" stop-color="#5a52a0"/><stop offset="0.6397" stop-color="#2c4fa4"/><stop offset="1.0006" stop-color="#2b50a2"/></linearGradient><linearGradient id="h156" x1="0" y1="0" x2="0" y2="1"><stop offset="0.0010" stop-color="#f2b11a"/><stop offset="0.1409" stop-color="#f2cf1a"/><stop offset="0.1977" stop-color="#f1e023"/><stop offset="0.2991" stop-color="#e5e23f"/><stop offset="0.3579" stop-color="#d7d731"/><stop offset="0.4268" stop-color="#c0c03d"/><stop offset="0.4775" stop-color="#a5a550"/><stop offset="0.5343" stop-color="#828273"/><stop offset="0.5606" stop-color="#757580"/><stop offset="0.5789" stop-color="#696791"/><stop offset="0.5890" stop-color="#5952a0"/><stop offset="0.6397" stop-color="#2c4fa4"/><stop offset="1.0006" stop-color="#2b50a2"/></linearGradient><linearGradient id="h157" x1="0" y1="0" x2="0" y2="1"><stop offset="0.0010" stop-color="#f2b11a"/><stop offset="0.1389" stop-color="#f2cf1a"/><stop offset="0.1957" stop-color="#f1e022"/><stop offset="0.2991" stop-color="#e5e23f"/><stop offset="0.3579" stop-color="#d6d631"/><stop offset="0.4248" stop-color="#c0c03d"/><stop offset="0.4755" stop-color="#a5a54f"/><stop offset="0.5322" stop-color="#828273"/><stop offset="0.5606" stop-color="#757581"/><stop offset="0.5789" stop-color="#686692"/><stop offset="0.5890" stop-color="#5952a0"/><stop offset="0.6377" stop-color="#2d4fa4"/><stop offset="1.0006" stop-color="#2b50a2"/></linearGradient><linearGradient id="h158" x1="0" y1="0" x2="0" y2="1"><stop offset="0.0010" stop-color="#f2b21a"/><stop offset="0.1369" stop-color="#f2d01b"/><stop offset="0.1936" stop-color="#f1e022"/><stop offset="0.2970" stop-color="#e5e23f"/><stop offset="0.3558" stop-color="#d6d631"/><stop offset="0.4248" stop-color="#c0c03d"/><stop offset="0.4755" stop-color="#a5a550"/><stop offset="0.5322" stop-color="#828273"/><stop offset="0.5606" stop-color="#757481"/><stop offset="0.5789" stop-color="#686592"/><stop offset="0.5890" stop-color="#5952a0"/><stop offset="0.6377" stop-color="#2d4fa4"/><stop offset="1.0006" stop-color="#2b50a2"/></linearGradient><linearGradient id="h159" x1="0" y1="0" x2="0" y2="1"><stop offset="0.0010" stop-color="#f2b21a"/><stop offset="0.1348" stop-color="#f2d01b"/><stop offset="0.1916" stop-color="#f1e022"/><stop offset="0.2950" stop-color="#e5e23f"/><stop offset="0.3538" stop-color="#d7d731"/><stop offset="0.4227" stop-color="#c0c03d"/><stop offset="0.4734" stop-color="#a6a64f"/><stop offset="0.5322" stop-color="#828273"/><stop offset="0.5586" stop-color="#767580"/><stop offset="0.5789" stop-color="#676493"/><stop offset="0.5870" stop-color="#5a53a0"/><stop offset="0.6377" stop-color="#2d4fa4"/><stop offset="1.0006" stop-color="#2b50a2"/></linearGradient><linearGradient id="h160" x1="0" y1="0" x2="0" y2="1"><stop offset="0.0010" stop-color="#f2b31a"/><stop offset="0.1328" stop-color="#f2d01b"/><stop offset="0.1896" stop-color="#f1e022"/><stop offset="0.2950" stop-color="#e5e23f"/><stop offset="0.3538" stop-color="#d6d631"/><stop offset="0.4227" stop-color="#c0c03d"/><stop offset="0.4734" stop-color="#a5a550"/><stop offset="0.5302" stop-color="#828273"/><stop offset="0.5586" stop-color="#757580"/><stop offset="0.5768" stop-color="#696791"/><stop offset="0.5870" stop-color="#5a52a0"/><stop offset="0.6377" stop-color="#2c4fa4"/><stop offset="1.0006" stop-color="#2b50a2"/></linearGradient><linearGradient id="h161" x1="0" y1="0" x2="0" y2="1"><stop offset="0.0010" stop-color="#f2b31a"/><stop offset="0.1308" stop-color="#f2d01b"/><stop offset="0.1876" stop-color="#f1e022"/><stop offset="0.2930" stop-color="#e5e23f"/><stop offset="0.3518" stop-color="#d6d631"/><stop offset="0.4207" stop-color="#c0c03d"/><stop offset="0.4734" stop-color="#a5a550"/><stop offset="0.5302" stop-color="#828273"/><stop offset="0.5586" stop-color="#757481"/><stop offset="0.5768" stop-color="#696691"/><stop offset="0.5870" stop-color="#5952a0"/><stop offset="0.6377" stop-color="#2c4fa4"/><stop offset="1.0006" stop-color="#2b50a2"/></linearGradient><linearGradient id="h162" x1="0" y1="0" x2="0" y2="1"><stop offset="0.0010" stop-color="#f2b41a"/><stop offset="0.1288" stop-color="#f2d01b"/><stop offset="0.1855" stop-color="#f1e022"/><stop offset="0.2910" stop-color="#e5e23f"/><stop offset="0.3498" stop-color="#d7d731"/><stop offset="0.4207" stop-color="#c0c03d"/><stop offset="0.4714" stop-color="#a5a54f"/><stop offset="0.5282" stop-color="#828273"/><stop offset="0.5566" stop-color="#767580"/><stop offset="0.5768" stop-color="#686592"/><stop offset="0.5870" stop-color="#5952a0"/><stop offset="0.6377" stop-color="#2c4fa4"/><stop offset="1.0006" stop-color="#2b50a2"/></linearGradient><linearGradient id="h163" x1="0" y1="0" x2="0" y2="1"><stop offset="0.0010" stop-color="#f2b41a"/><stop offset="0.1267" stop-color="#f2d01b"/><stop offset="0.1835" stop-color="#f1e022"/><stop offset="0.2889" stop-color="#e5e23f"/><stop offset="0.3498" stop-color="#d6d631"/><stop offset="0.4187" stop-color="#c0c03d"/><stop offset="0.4714" stop-color="#a5a550"/><stop offset="0.5282" stop-color="#828273"/><stop offset="0.5566" stop-color="#757580"/><stop offset="0.5768" stop-color="#676493"/><stop offset="0.5870" stop-color="#5952a0"/><stop offset="0.6356" stop-color="#2d4fa4"/><stop offset="1.0006" stop-color="#2b50a2"/></linearGradient><linearGradient id="h164" x1="0" y1="0" x2="0" y2="1"><stop offset="0.0010" stop-color="#f2b51a"/><stop offset="0.1247" stop-color="#f2d01b"/><stop offset="0.1815" stop-color="#f1e022"/><stop offset="0.2889" stop-color="#e5e23f"/><stop offset="0.3477" stop-color="#d6d631"/><stop offset="0.4187" stop-color="#c0c03d"/><stop offset="0.4694" stop-color="#a6a64f"/><stop offset="0.5282" stop-color="#828273"/><stop offset="0.5566" stop-color="#757481"/><stop offset="0.5748" stop-color="#6a6790"/><stop offset="0.5850" stop-color="#5a53a0"/><stop offset="0.6356" stop-color="#2d4fa4"/><stop offset="1.0006" stop-color="#2b50a2"/></linearGradient><linearGradient id="h165" x1="0" y1="0" x2="0" y2="1"><stop offset="0.0010" stop-color="#f2b51a"/><stop offset="0.1227" stop-color="#f2d01b"/><stop offset="0.1794" stop-color="#f1e022"/><stop offset="0.2869" stop-color="#e5e23f"/><stop offset="0.3457" stop-color="#d7d731"/><stop offset="0.4167" stop-color="#c0c03d"/><stop offset="0.4694" stop-color="#a5a54f"/><stop offset="0.5262" stop-color="#828273"/><stop offset="0.5566" stop-color="#757481"/><stop offset="0.5748" stop-color="#696691"/><stop offset="0.5850" stop-color="#5a52a0"/><stop offset="0.6356" stop-color="#2c4fa4"/><stop offset="1.0006" stop-color="#2b50a2"/></linearGradient><linearGradient id="h166" x1="0" y1="0" x2="0" y2="1"><stop offset="0.0010" stop-color="#f2b61a"/><stop offset="0.1206" stop-color="#f2d01b"/><stop offset="0.1774" stop-color="#f1e022"/><stop offset="0.2849" stop-color="#e5e23f"/><stop offset="0.3457" stop-color="#d6d631"/><stop offset="0.4167" stop-color="#c0c03d"/><stop offset="0.4694" stop-color="#a5a550"/><stop offset="0.5262" stop-color="#828273"/><stop offset="0.5545" stop-color="#767580"/><stop offset="0.5748" stop-color="#686692"/><stop offset="0.5850" stop-color="#5952a0"/><stop offset="0.6356" stop-color="#2c4fa4"/><stop offset="1.0006" stop-color="#2b50a2"/></linearGradient><linearGradient id="h167" x1="0" y1="0" x2="0" y2="1"><stop offset="0.0010" stop-color="#f2b619"/><stop offset="0.1186" stop-color="#f2d01b"/><stop offset="0.1754" stop-color="#f1e022"/><stop offset="0.2828" stop-color="#e5e23f"/><stop offset="0.3437" stop-color="#d7d731"/><stop offset="0.4146" stop-color="#c0c03d"/><stop offset="0.4674" stop-color="#a5a54f"/><stop offset="0.5262" stop-color="#828273"/><stop offset="0.5545" stop-color="#757581"/><stop offset="0.5748" stop-color="#686592"/><stop offset="0.5850" stop-color="#5952a0"/><stop offset="0.6356" stop-color="#2c4fa4"/><stop offset="1.0006" stop-color="#2b50a2"/></linearGradient><linearGradient id="h168" x1="0" y1="0" x2="0" y2="1"><stop offset="0.0010" stop-color="#f2b719"/><stop offset="0.1166" stop-color="#f2d01b"/><stop offset="0.1734" stop-color="#f1e022"/><stop offset="0.2828" stop-color="#e5e23f"/><stop offset="0.3437" stop-color="#d6d631"/><stop offset="0.4146" stop-color="#c0c03d"/><stop offset="0.4674" stop-color="#a5a550"/><stop offset="0.5241" stop-color="#828273"/><stop offset="0.5545" stop-color="#757481"/><stop offset="0.5748" stop-color="#676493"/><stop offset="0.5850" stop-color="#5852a0"/><stop offset="0.6336" stop-color="#2d4fa4"/><stop offset="1.0006" stop-color="#2b50a2"/></linearGradient><linearGradient id="h169" x1="0" y1="0" x2="0" y2="1"><stop offset="0.0010" stop-color="#f2b719"/><stop offset="0.1146" stop-color="#f2d01b"/><stop offset="0.1734" stop-color="#f1e023"/><stop offset="0.2808" stop-color="#e5e23f"/><stop offset="0.3416" stop-color="#d6d631"/><stop offset="0.4126" stop-color="#c0c03d"/><stop offset="0.4653" stop-color="#a6a64f"/><stop offset="0.5241" stop-color="#828273"/><stop offset="0.5545" stop-color="#757481"/><stop offset="0.5728" stop-color="#696791"/><stop offset="0.5829" stop-color="#5a52a0"/><stop offset="0.6336" stop-color="#2d4fa4"/><stop offset="1.0006" stop-color="#2b50a2"/></linearGradient><linearGradient id="h170" x1="0" y1="0" x2="0" y2="1"><stop offset="0.0010" stop-color="#f2b819"/><stop offset="0.1125" stop-color="#f2d11b"/><stop offset="0.1713" stop-color="#f1e023"/><stop offset="0.2788" stop-color="#e5e23f"/><stop offset="0.3396" stop-color="#d7d731"/><stop offset="0.4126" stop-color="#c0c03d"/><stop offset="0.4653" stop-color="#a5a54f"/><stop offset="0.5241" stop-color="#828273"/><stop offset="0.5545" stop-color="#747382"/><stop offset="0.5728" stop-color="#686692"/><stop offset="0.5829" stop-color="#5a52a0"/><stop offset="0.6336" stop-color="#2c4fa4"/><stop offset="1.0006" stop-color="#2b50a2"/></linearGradient><linearGradient id="h171" x1="0" y1="0" x2="0" y2="1"><stop offset="0.0010" stop-color="#f2b819"/><stop offset="0.1105" stop-color="#f2d11b"/><stop offset="0.1693" stop-color="#f1e023"/><stop offset="0.2788" stop-color="#e5e23f"/><stop offset="0.3396" stop-color="#d6d631"/><stop offset="0.4106" stop-color="#c0c03d"/><stop offset="0.4653" stop-color="#a5a550"/><stop offset="0.5221" stop-color="#828273"/><stop offset="0.5525" stop-color="#757481"/><stop offset="0.5728" stop-color="#686592"/><stop offset="0.5829" stop-color="#5952a0"/><stop offset="0.6336" stop-color="#2c4fa4"/><stop offset="1.0006" stop-color="#2b50a2"/></linearGradient><linearGradient id="h172" x1="0" y1="0" x2="0" y2="1"><stop offset="0.0010" stop-color="#f2b919"/><stop offset="0.1085" stop-color="#f2d11b"/><stop offset="0.1673" stop-color="#f1e023"/><stop offset="0.2768" stop-color="#e5e23f"/><stop offset="0.3376" stop-color="#d6d631"/><stop offset="0.4106" stop-color="#c0c03d"/><stop offset="0.4633" stop-color="#a5a54f"/><stop offset="0.5221" stop-color="#828273"/><stop offset="0.5525" stop-color="#757481"/><stop offset="0.5728" stop-color="#676493"/><stop offset="0.5829" stop-color="#5952a0"/><stop offset="0.6336" stop-color="#2c4fa4"/><stop offset="1.0006" stop-color="#2b50a2"/></linearGradient><linearGradient id="h173" x1="0" y1="0" x2="0" y2="1"><stop offset="0.0010" stop-color="#f2b919"/><stop offset="0.1064" stop-color="#f2d11b"/><stop offset="0.1652" stop-color="#f1e023"/><stop offset="0.2747" stop-color="#e5e23f"/><stop offset="0.3356" stop-color="#d7d731"/><stop offset="0.4086" stop-color="#c0c03d"/><stop offset="0.4633" stop-color="#a5a550"/><stop offset="0.5221" stop-color="#828273"/><stop offset="0.5525" stop-color="#747482"/><stop offset="0.5708" stop-color="#696791"/><stop offset="0.5829" stop-color="#5852a0"/><stop offset="0.6316" stop-color="#2d4fa4"/><stop offset="1.0006" stop-color="#2b50a2"/></linearGradient><linearGradient id="h174" x1="0" y1="0" x2="0" y2="1"><stop offset="0.0010" stop-color="#f2ba19"/><stop offset="0.1044" stop-color="#f2d11b"/><stop offset="0.1632" stop-color="#f1e023"/><stop offset="0.2727" stop-color="#e5e23f"/><stop offset="0.3356" stop-color="#d6d631"/><stop offset="0.4086" stop-color="#bfbf3d"/><stop offset="0.4613" stop-color="#a6a64f"/><stop offset="0.5201" stop-color="#828273"/><stop offset="0.5505" stop-color="#757481"/><stop offset="0.5708" stop-color="#686692"/><stop offset="0.5809" stop-color="#5a52a0"/><stop offset="0.6316" stop-color="#2d4fa4"/><stop offset="1.0006" stop-color="#2b50a2"/></linearGradient><linearGradient id="h175" x1="0" y1="0" x2="0" y2="1"><stop offset="0.0010" stop-color="#f2ba19"/><stop offset="0.1044" stop-color="#f2d21b"/><stop offset="0.1612" stop-color="#f1e023"/><stop offset="0.2727" stop-color="#e5e23f"/><stop offset="0.3335" stop-color="#d7d731"/><stop offset="0.4086" stop-color="#bfbf3d"/><stop offset="0.4613" stop-color="#a5a54f"/><stop offset="0.5201" stop-color="#828273"/><stop offset="0.5505" stop-color="#757481"/><stop offset="0.5708" stop-color="#686592"/><stop offset="0.5809" stop-color="#5a52a0"/><stop offset="0.6316" stop-color="#2d4fa4"/><stop offset="1.0006" stop-color="#2b50a2"/></linearGradient><linearGradient id="h176" x1="0" y1="0" x2="0" y2="1"><stop offset="0.0010" stop-color="#f2bb19"/><stop offset="0.1024" stop-color="#f2d21b"/><stop offset="0.1592" stop-color="#f1e023"/><stop offset="0.2707" stop-color="#e5e23f"/><stop offset="0.3335" stop-color="#d6d631"/><stop offset="0.4065" stop-color="#bfbf3d"/><stop offset="0.4613" stop-color="#a5a550"/><stop offset="0.5201" stop-color="#828273"/><stop offset="0.5505" stop-color="#747482"/><stop offset="0.5708" stop-color="#676493"/><stop offset="0.5809" stop-color="#5952a0"/><stop offset="0.6316" stop-color="#2c4fa4"/><stop offset="1.0006" stop-color="#2b50a2"/></linearGradient><linearGradient id="h177" x1="0" y1="0" x2="0" y2="1"><stop offset="0.0010" stop-color="#f2bb19"/><stop offset="0.1004" stop-color="#f2d21b"/><stop offset="0.1571" stop-color="#f1e023"/><stop offset="0.2687" stop-color="#e5e23f"/><stop offset="0.3315" stop-color="#d6d631"/><stop offset="0.4065" stop-color="#bfbf3d"/><stop offset="0.4613" stop-color="#a4a450"/><stop offset="0.5180" stop-color="#828273"/><stop offset="0.5485" stop-color="#757581"/><stop offset="0.5687" stop-color="#696791"/><stop offset="0.5809" stop-color="#5952a0"/><stop offset="0.6316" stop-color="#2c4fa4"/><stop offset="1.0006" stop-color="#2b50a2"/></linearGradient><linearGradient id="h178" x1="0" y1="0" x2="0" y2="1"><stop offset="0.0010" stop-color="#f2bc19"/><stop offset="0.0983" stop-color="#f2d21b"/><stop offset="0.1551" stop-color="#f1e023"/><stop offset="0.2666" stop-color="#e5e23f"/><stop offset="0.3295" stop-color="#d7d731"/><stop offset="0.4045" stop-color="#bfbf3d"/><stop offset="0.4592" stop-color="#a5a550"/><stop offset="0.5180" stop-color="#828273"/><stop offset="0.5485" stop-color="#757481"/><stop offset="0.5687" stop-color="#686692"/><stop offset="0.5789" stop-color="#5a52a0"/><stop offset="0.6296" stop-color="#2d4fa4"/><stop offset="1.0006" stop-color="#2b50a2"/></linearGradient><linearGradient id="h179" x1="0" y1="0" x2="0" y2="1"><stop offset="0.0010" stop-color="#f2bc19"/><stop offset="0.0983" stop-color="#f2d31c"/><stop offset="0.1531" stop-color="#f1e023"/><stop offset="0.2666" stop-color="#e5e23f"/><stop offset="0.3295" stop-color="#d6d631"/><stop offset="0.4045" stop-color="#bfbf3d"/><stop offset="0.4592" stop-color="#a4a450"/><stop offset="0.5180" stop-color="#828273"/><stop offset="0.5485" stop-color="#747482"/><stop offset="0.5687" stop-color="#686592"/><stop offset="0.5789" stop-color="#5a52a0"/><stop offset="0.6296" stop-color="#2d4fa4"/><stop offset="1.0006" stop-color="#2b50a2"/></linearGradient><linearGradient id="h180" x1="0" y1="0" x2="0" y2="1"><stop offset="0.0010" stop-color="#f2bd19"/><stop offset="0.0963" stop-color="#f2d31c"/><stop offset="0.1511" stop-color="#f1e023"/><stop offset="0.2646" stop-color="#e5e23f"/><stop offset="0.3275" stop-color="#d6d631"/><stop offset="0.4025" stop-color="#bfbf3d"/><stop offset="0.4572" stop-color="#a5a550"/><stop offset="0.5180" stop-color="#818173"/><stop offset="0.5485" stop-color="#747382"/><stop offset="0.5687" stop-color="#676493"/><stop offset="0.5789" stop-color="#5952a0"/><stop offset="0.6296" stop-color="#2d4fa4"/><stop offset="1.0006" stop-color="#2b50a2"/></linearGradient><linearGradient id="h181" x1="0" y1="0" x2="0" y2="1"><stop offset="0.0010" stop-color="#f2bd19"/><stop offset="0.0943" stop-color="#f2d31c"/><stop offset="0.1490" stop-color="#f1e023"/><stop offset="0.2626" stop-color="#e5e23f"/><stop offset="0.3275" stop-color="#d6d631"/><stop offset="0.4025" stop-color="#bfbf3d"/><stop offset="0.4572" stop-color="#a5a550"/><stop offset="0.5160" stop-color="#828273"/><stop offset="0.5464" stop-color="#757481"/><stop offset="0.5667" stop-color="#696791"/><stop offset="0.5789" stop-color="#5952a0"/><stop offset="0.6296" stop-color="#2c4fa4"/><stop offset="1.0006" stop-color="#2b50a2"/></linearGradient><linearGradient id="h182" x1="0" y1="0" x2="0" y2="1"><stop offset="0.0010" stop-color="#f2be19"/><stop offset="0.0943" stop-color="#f2d41c"/><stop offset="0.1470" stop-color="#f1e023"/><stop offset="0.2605" stop-color="#e5e23f"/><stop offset="0.3254" stop-color="#d6d631"/><stop offset="0.4004" stop-color="#bfbf3d"/><stop offset="0.4552" stop-color="#a5a54f"/><stop offset="0.5160" stop-color="#828273"/><stop offset="0.5464" stop-color="#757481"/><stop offset="0.5667" stop-color="#686692"/><stop offset="0.5789" stop-color="#5852a0"/><stop offset="0.6296" stop-color="#2c4fa4"/><stop offset="1.0006" stop-color="#2b50a2"/></linearGradient><linearGradient id="h183" x1="0" y1="0" x2="0" y2="1"><stop offset="0.0010" stop-color="#f2be19"/><stop offset="0.0943" stop-color="#f2d41c"/><stop offset="0.1450" stop-color="#f1e023"/><stop offset="0.2605" stop-color="#e5e23f"/><stop offset="0.3234" stop-color="#d7d731"/><stop offset="0.4004" stop-color="#bfbf3d"/><stop offset="0.4552" stop-color="#a5a550"/><stop offset="0.5160" stop-color="#818173"/><stop offset="0.5464" stop-color="#747482"/><stop offset="0.5667" stop-color="#686592"/><stop offset="0.5768" stop-color="#5a52a0"/><stop offset="0.6296" stop-color="#2c4fa4"/><stop offset="1.0006" stop-color="#2b50a2"/></linearGradient><linearGradient id="h184" x1="0" y1="0" x2="0" y2="1"><stop offset="0.0010" stop-color="#f2bf19"/><stop offset="0.0963" stop-color="#f2d51c"/><stop offset="0.1429" stop-color="#f1e023"/><stop offset="0.2585" stop-color="#e5e23f"/><stop offset="0.3234" stop-color="#d6d631"/><stop offset="0.3984" stop-color="#bfbf3d"/><stop offset="0.4552" stop-color="#a4a450"/><stop offset="0.5160" stop-color="#818174"/><stop offset="0.5464" stop-color="#747382"/><stop offset="0.5667" stop-color="#676493"/><stop offset="0.5768" stop-color="#5a52a0"/><stop offset="0.6275" stop-color="#2d4fa4"/><stop offset="1.0006" stop-color="#2b50a2"/></linearGradient><linearGradient id="h185" x1="0" y1="0" x2="0" y2="1"><stop offset="0.0010" stop-color="#f2bf19"/><stop offset="0.0963" stop-color="#f2d61d"/><stop offset="0.1409" stop-color="#f1e023"/><stop offset="0.2565" stop-color="#e5e23f"/><stop offset="0.3214" stop-color="#d6d631"/><stop offset="0.3984" stop-color="#bfbf3d"/><stop offset="0.4532" stop-color="#a5a550"/><stop offset="0.5160" stop-color="#818174"/><stop offset="0.5464" stop-color="#747383"/><stop offset="0.5647" stop-color="#696791"/><stop offset="0.5768" stop-color="#5952a0"/><stop offset="0.6275" stop-color="#2d4fa4"/><stop offset="1.0006" stop-color="#2b50a2"/></linearGradient><linearGradient id="h186" x1="0" y1="0" x2="0" y2="1"><stop offset="0.0010" stop-color="#f2c019"/><stop offset="0.0963" stop-color="#f2d71d"/><stop offset="0.1389" stop-color="#f1e023"/><stop offset="0.2565" stop-color="#e5e23f"/><stop offset="0.3214" stop-color="#d6d631"/><stop offset="0.3964" stop-color="#bfbf3d"/><stop offset="0.4532" stop-color="#a5a550"/><stop offset="0.5140" stop-color="#818173"/><stop offset="0.5444" stop-color="#747482"/><stop offset="0.5647" stop-color="#686692"/><stop offset="0.5768" stop-color="#5952a0"/><stop offset="0.6275" stop-color="#2d4fa4"/><stop offset="1.0006" stop-color="#2b50a2"/></linearGradient><linearGradient id="h187" x1="0" y1="0" x2="0" y2="1"><stop offset="0.0010" stop-color="#f2c119"/><stop offset="0.1024" stop-color="#f2d91e"/><stop offset="0.1389" stop-color="#f1e023"/><stop offset="0.2545" stop-color="#e5e23f"/><stop offset="0.3193" stop-color="#d6d631"/><stop offset="0.3964" stop-color="#bfbf3d"/><stop offset="0.4532" stop-color="#a4a450"/><stop offset="0.5140" stop-color="#818173"/><stop offset="0.5444" stop-color="#747382"/><stop offset="0.5647" stop-color="#686592"/><stop offset="0.5768" stop-color="#5852a0"/><stop offset="0.6275" stop-color="#2c4fa4"/><stop offset="1.0006" stop-color="#2b50a2"/></linearGradient><linearGradient id="h188" x1="0" y1="0" x2="0" y2="1"><stop offset="0.0010" stop-color="#f2c119"/><stop offset="0.1085" stop-color="#f2dc1f"/><stop offset="0.1470" stop-color="#f0e025"/><stop offset="0.2524" stop-color="#e5e23f"/><stop offset="0.3193" stop-color="#d6d631"/><stop offset="0.3964" stop-color="#bebe3e"/><stop offset="0.4511" stop-color="#a5a550"/><stop offset="0.5140" stop-color="#818174"/><stop offset="0.5444" stop-color="#747382"/><stop offset="0.5647" stop-color="#676493"/><stop offset="0.5748" stop-color="#5a52a0"/><stop offset="0.6275" stop-color="#2c4fa4"/><stop offset="1.0006" stop-color="#2b50a2"/></linearGradient><linearGradient id="h189" x1="0" y1="0" x2="0" y2="1"><stop offset="0.0010" stop-color="#f2c219"/><stop offset="0.1146" stop-color="#f2de1f"/><stop offset="0.2524" stop-color="#e5e23f"/><stop offset="0.3173" stop-color="#d6d631"/><stop offset="0.3944" stop-color="#bfbf3d"/><stop offset="0.4511" stop-color="#a4a450"/><stop offset="0.5120" stop-color="#828273"/><stop offset="0.5424" stop-color="#757481"/><stop offset="0.5627" stop-color="#696791"/><stop offset="0.5748" stop-color="#5952a0"/><stop offset="0.6275" stop-color="#2c4fa4"/><stop offset="1.0006" stop-color="#2b50a2"/></linearGradient><linearGradient id="h190" x1="0" y1="0" x2="0" y2="1"><stop offset="0.0010" stop-color="#f2c218"/><stop offset="0.1206" stop-color="#f2e020"/><stop offset="0.2504" stop-color="#e5e23f"/><stop offset="0.3173" stop-color="#d6d631"/><stop offset="0.3944" stop-color="#bebe3e"/><stop offset="0.4511" stop-color="#a4a450"/><stop offset="0.5120" stop-color="#818173"/><stop offset="0.5424" stop-color="#747482"/><stop offset="0.5627" stop-color="#686692"/><stop offset="0.5748" stop-color="#5952a0"/><stop offset="0.6255" stop-color="#2d4fa4"/><stop offset="1.0006" stop-color="#2b50a2"/></linearGradient><linearGradient id="h191" x1="0" y1="0" x2="0" y2="1"><stop offset="0.0010" stop-color="#f2c318"/><stop offset="0.1247" stop-color="#f1e022"/><stop offset="0.2504" stop-color="#e5e23f"/><stop offset="0.3153" stop-color="#d7d731"/><stop offset="0.3923" stop-color="#bfbf3d"/><stop offset="0.4491" stop-color="#a5a550"/><stop offset="0.5120" stop-color="#818173"/><stop offset="0.5424" stop-color="#747382"/><stop offset="0.5627" stop-color="#686592"/><stop offset="0.5748" stop-color="#5852a0"/><stop offset="0.6255" stop-color="#2d4fa4"/><stop offset="1.0006" stop-color="#2b50a2"/></linearGradient><linearGradient id="h192" x1="0" y1="0" x2="0" y2="1"><stop offset="0.0010" stop-color="#f2c318"/><stop offset="0.1267" stop-color="#f1e022"/><stop offset="0.2504" stop-color="#e5e23f"/><stop offset="0.3153" stop-color="#d6d631"/><stop offset="0.3923" stop-color="#bfbf3d"/><stop offset="0.4491" stop-color="#a5a550"/><stop offset="0.5120" stop-color="#818174"/><stop offset="0.5424" stop-color="#747383"/><stop offset="0.5627" stop-color="#676493"/><stop offset="0.5728" stop-color="#5a52a0"/><stop offset="0.6255" stop-color="#2c4fa4"/><stop offset="1.0006" stop-color="#2b50a2"/></linearGradient><linearGradient id="h193" x1="0" y1="0" x2="0" y2="1"><stop offset="0.0010" stop-color="#f2c418"/><stop offset="0.1247" stop-color="#f1e022"/><stop offset="0.2504" stop-color="#e5e23f"/><stop offset="0.3153" stop-color="#d6d631"/><stop offset="0.3923" stop-color="#bfbf3e"/><stop offset="0.4491" stop-color="#a4a450"/><stop offset="0.5120" stop-color="#818174"/><stop offset="0.5424" stop-color="#747383"/><stop offset="0.5627" stop-color="#676393"/><stop offset="0.5728" stop-color="#5a52a0"/><stop offset="0.6255" stop-color="#2c4fa4"/><stop offset="1.0006" stop-color="#2b50a2"/></linearGradient><linearGradient id="h194" x1="0" y1="0" x2="0" y2="1"><stop offset="0.0010" stop-color="#f2c418"/><stop offset="0.1247" stop-color="#f1e022"/><stop offset="0.2504" stop-color="#e5e23f"/><stop offset="0.3153" stop-color="#d6d631"/><stop offset="0.3923" stop-color="#bfbf3e"/><stop offset="0.4491" stop-color="#a4a450"/><stop offset="0.5099" stop-color="#818173"/><stop offset="0.5403" stop-color="#747482"/><stop offset="0.5606" stop-color="#696691"/><stop offset="0.5728" stop-color="#5952a0"/><stop offset="0.6255" stop-color="#2c4fa4"/><stop offset="1.0006" stop-color="#2b50a2"/></linearGradient><linearGradient id="h195" x1="0" y1="0" x2="0" y2="1"><stop offset="0.0010" stop-color="#f2c418"/><stop offset="0.1227" stop-color="#f1e022"/><stop offset="0.2484" stop-color="#e5e23f"/><stop offset="0.3153" stop-color="#d6d631"/><stop offset="0.3923" stop-color="#bebe3e"/><stop offset="0.4491" stop-color="#a4a450"/><stop offset="0.5099" stop-color="#818173"/><stop offset="0.5403" stop-color="#747382"/><stop offset="0.5606" stop-color="#686592"/><stop offset="0.5728" stop-color="#5952a0"/><stop offset="0.6255" stop-color="#2c4fa4"/><stop offset="1.0006" stop-color="#2b50a2"/></linearGradient><linearGradient id="h196" x1="0" y1="0" x2="0" y2="1"><stop offset="0.0010" stop-color="#f2c518"/><stop offset="0.1206" stop-color="#f1e022"/><stop offset="0.2484" stop-color="#e5e23f"/><stop offset="0.3153" stop-color="#d6d631"/><stop offset="0.3903" stop-color="#bfbf3d"/><stop offset="0.4471" stop-color="#a5a550"/><stop offset="0.5099" stop-color="#818173"/><stop offset="0.5403" stop-color="#747382"/><stop offset="0.5606" stop-color="#676493"/><stop offset="0.5728" stop-color="#5852a0"/><stop offset="0.6235" stop-color="#2d4fa4"/><stop offset="1.0006" stop-color="#2b50a2"/></linearGradient><linearGradient id="h197" x1="0" y1="0" x2="0" y2="1"><stop offset="0.0010" stop-color="#f2c518"/><stop offset="0.1206" stop-color="#f1e022"/><stop offset="0.2484" stop-color="#e5e23f"/><stop offset="0.3133" stop-color="#d7d731"/><stop offset="0.3903" stop-color="#bfbf3d"/><stop offset="0.4491" stop-color="#a4a451"/><stop offset="0.5099" stop-color="#818174"/><stop offset="0.5383" stop-color="#757481"/><stop offset="0.5606" stop-color="#676493"/><stop offset="0.5708" stop-color="#5a52a0"/><stop offset="0.6235" stop-color="#2c4fa4"/><stop offset="1.0006" stop-color="#2b50a2"/></linearGradient><linearGradient id="h198" x1="0" y1="0" x2="0" y2="1"><stop offset="0.0010" stop-color="#f2c618"/><stop offset="0.1206" stop-color="#f1e022"/><stop offset="0.2484" stop-color="#e5e23f"/><stop offset="0.3133" stop-color="#d7d731"/><stop offset="0.3903" stop-color="#bfbf3d"/><stop offset="0.4491" stop-color="#a4a451"/><stop offset="0.5099" stop-color="#818174"/><stop offset="0.5403" stop-color="#747383"/><stop offset="0.5586" stop-color="#696691"/><stop offset="0.5708" stop-color="#5952a0"/><stop offset="0.6235" stop-color="#2c4fa4"/><stop offset="1.0006" stop-color="#2b50a2"/></linearGradient><linearGradient id="h199" x1="0" y1="0" x2="0" y2="1"><stop offset="0.0010" stop-color="#f2c618"/><stop offset="0.1186" stop-color="#f1e022"/><stop offset="0.2484" stop-color="#e5e23f"/><stop offset="0.3133" stop-color="#d7d731"/><stop offset="0.3903" stop-color="#bfbf3d"/><stop offset="0.4471" stop-color="#a5a550"/><stop offset="0.5099" stop-color="#818174"/><stop offset="0.5403" stop-color="#737283"/><stop offset="0.5586" stop-color="#686692"/><stop offset="0.5708" stop-color="#5952a0"/><stop offset="0.6235" stop-color="#2c4fa4"/><stop offset="1.0006" stop-color="#2b50a2"/></linearGradient><linearGradient id="h200" x1="0" y1="0" x2="0" y2="1"><stop offset="0.0010" stop-color="#f2c618"/><stop offset="0.1186" stop-color="#f1e022"/><stop offset="0.2484" stop-color="#e5e23f"/><stop offset="0.3133" stop-color="#d6d631"/><stop offset="0.3903" stop-color="#bfbf3e"/><stop offset="0.4471" stop-color="#a5a550"/><stop offset="0.5099" stop-color="#818174"/><stop offset="0.5403" stop-color="#737283"/><stop offset="0.5586" stop-color="#686592"/><stop offset="0.5708" stop-color="#5952a0"/><stop offset="0.6235" stop-color="#2c4fa4"/><stop offset="1.0006" stop-color="#2b50a2"/></linearGradient><linearGradient id="h201" x1="0" y1="0" x2="0" y2="1"><stop offset="0.0010" stop-color="#f2c618"/><stop offset="0.1166" stop-color="#f1e022"/><stop offset="0.2484" stop-color="#e5e23f"/><stop offset="0.3133" stop-color="#d6d631"/><stop offset="0.3883" stop-color="#bfbf3d"/><stop offset="0.4471" stop-color="#a4a450"/><stop offset="0.5079" stop-color="#818173"/><stop offset="0.5383" stop-color="#747382"/><stop offset="0.5586" stop-color="#676493"/><stop offset="0.5687" stop-color="#5a52a0"/><stop offset="0.6215" stop-color="#2d4fa4"/><stop offset="1.0006" stop-color="#2b50a2"/></linearGradient><linearGradient id="h202" x1="0" y1="0" x2="0" y2="1"><stop offset="0.0010" stop-color="#f2c718"/><stop offset="0.1166" stop-color="#f1e022"/><stop offset="0.2484" stop-color="#e5e23f"/><stop offset="0.3133" stop-color="#d6d631"/><stop offset="0.3883" stop-color="#bfbf3d"/><stop offset="0.4471" stop-color="#a4a450"/><stop offset="0.5079" stop-color="#818173"/><stop offset="0.5363" stop-color="#757481"/><stop offset="0.5586" stop-color="#676493"/><stop offset="0.5687" stop-color="#5a52a0"/><stop offset="0.6215" stop-color="#2c4fa4"/><stop offset="1.0006" stop-color="#2b50a2"/></linearGradient><linearGradient id="h203" x1="0" y1="0" x2="0" y2="1"><stop offset="0.0010" stop-color="#f2c718"/><stop offset="0.1146" stop-color="#f1e022"/><stop offset="0.2484" stop-color="#e5e23f"/><stop offset="0.3133" stop-color="#d6d631"/><stop offset="0.3883" stop-color="#bfbf3d"/><stop offset="0.4471" stop-color="#a4a450"/><stop offset="0.5079" stop-color="#818173"/><stop offset="0.5363" stop-color="#757481"/><stop offset="0.5566" stop-color="#696691"/><stop offset="0.5687" stop-color="#5952a0"/><stop offset="0.6215" stop-color="#2c4fa4"/><stop offset="1.0006" stop-color="#2b50a2"/></linearGradient><linearGradient id="h204" x1="0" y1="0" x2="0" y2="1"><stop offset="0.0010" stop-color="#f2c718"/><stop offset="0.1146" stop-color="#f1e022"/><stop offset="0.2484" stop-color="#e5e23f"/><stop offset="0.3133" stop-color="#d6d631"/><stop offset="0.3883" stop-color="#bfbf3d"/><stop offset="0.4471" stop-color="#a4a450"/><stop offset="0.5079" stop-color="#818174"/><stop offset="0.5363" stop-color="#747482"/><stop offset="0.5566" stop-color="#686692"/><stop offset="0.5687" stop-color="#5952a0"/><stop offset="0.6215" stop-color="#2c4fa4"/><stop offset="1.0006" stop-color="#2b50a2"/></linearGradient><linearGradient id="h205" x1="0" y1="0" x2="0" y2="1"><stop offset="0.0010" stop-color="#f2c818"/><stop offset="0.1125" stop-color="#f1e022"/><stop offset="0.2484" stop-color="#e5e23f"/><stop offset="0.3133" stop-color="#d6d631"/><stop offset="0.3883" stop-color="#bfbf3d"/><stop offset="0.4471" stop-color="#a4a451"/><stop offset="0.5079" stop-color="#818174"/><stop offset="0.5383" stop-color="#737283"/><stop offset="0.5566" stop-color="#686592"/><stop offset="0.5687" stop-color="#5852a0"/><stop offset="0.6215" stop-color="#2c4fa4"/><stop offset="1.0006" stop-color="#2b50a2"/></linearGradient><linearGradient id="h206" x1="0" y1="0" x2="0" y2="1"><stop offset="0.0010" stop-color="#f2c818"/><stop offset="0.1125" stop-color="#f1e022"/><stop offset="0.2464" stop-color="#e5e23f"/><stop offset="0.3133" stop-color="#d6d631"/><stop offset="0.3883" stop-color="#bfbf3d"/><stop offset="0.4471" stop-color="#a4a451"/><stop offset="0.5079" stop-color="#818174"/><stop offset="0.5363" stop-color="#747382"/><stop offset="0.5566" stop-color="#676493"/><stop offset="0.5667" stop-color="#5a52a0"/><stop offset="0.6215" stop-color="#2c4fa4"/><stop offset="1.0006" stop-color="#2b50a2"/></linearGradient><linearGradient id="h207" x1="0" y1="0" x2="0" y2="1"><stop offset="0.0010" stop-color="#f2c818"/><stop offset="0.1105" stop-color="#f1e022"/><stop offset="0.2464" stop-color="#e5e23f"/><stop offset="0.3112" stop-color="#d7d731"/><stop offset="0.3883" stop-color="#bfbf3d"/><stop offset="0.4471" stop-color="#a4a451"/><stop offset="0.5079" stop-color="#818174"/><stop offset="0.5363" stop-color="#747383"/><stop offset="0.5545" stop-color="#696791"/><stop offset="0.5667" stop-color="#5952a0"/><stop offset="0.6194" stop-color="#2c4fa4"/><stop offset="1.0006" stop-color="#2b50a2"/></linearGradient><linearGradient id="h208" x1="0" y1="0" x2="0" y2="1"><stop offset="0.0010" stop-color="#f2c918"/><stop offset="0.1105" stop-color="#f1e022"/><stop offset="0.2464" stop-color="#e5e23f"/><stop offset="0.3112" stop-color="#d7d731"/><stop offset="0.3883" stop-color="#bfbf3d"/><stop offset="0.4451" stop-color="#a5a550"/><stop offset="0.5059" stop-color="#818173"/><stop offset="0.5343" stop-color="#757481"/><stop offset="0.5545" stop-color="#686692"/><stop offset="0.5667" stop-color="#5952a0"/><stop offset="0.6194" stop-color="#2c4fa4"/><stop offset="1.0006" stop-color="#2b50a2"/></linearGradient><linearGradient id="h209" x1="0" y1="0" x2="0" y2="1"><stop offset="0.0010" stop-color="#f2c918"/><stop offset="0.1085" stop-color="#f1e022"/><stop offset="0.2464" stop-color="#e5e23f"/><stop offset="0.3112" stop-color="#d7d731"/><stop offset="0.3863" stop-color="#c0c03d"/><stop offset="0.4451" stop-color="#a4a450"/><stop offset="0.5059" stop-color="#818173"/><stop offset="0.5343" stop-color="#747482"/><stop offset="0.5545" stop-color="#686592"/><stop offset="0.5667" stop-color="#5952a0"/><stop offset="0.6194" stop-color="#2c4fa4"/><stop offset="1.0006" stop-color="#2b50a2"/></linearGradient><linearGradient id="h210" x1="0" y1="0" x2="0" y2="1"><stop offset="0.0010" stop-color="#f2c918"/><stop offset="0.1085" stop-color="#f1e022"/><stop offset="0.2464" stop-color="#e5e23f"/><stop offset="0.3112" stop-color="#d6d631"/><stop offset="0.3863" stop-color="#bfbf3d"/><stop offset="0.4451" stop-color="#a4a450"/><stop offset="0.5059" stop-color="#818174"/><stop offset="0.5343" stop-color="#747382"/><stop offset="0.5545" stop-color="#676493"/><stop offset="0.5647" stop-color="#5a52a0"/><stop offset="0.6194" stop-color="#2c4fa4"/><stop offset="1.0006" stop-color="#2b50a2"/></linearGradient><linearGradient id="h211" x1="0" y1="0" x2="0" y2="1"><stop offset="0.0010" stop-color="#f2ca19"/><stop offset="0.1085" stop-color="#f1e022"/><stop offset="0.2464" stop-color="#e5e23f"/><stop offset="0.3112" stop-color="#d6d631"/><stop offset="0.3863" stop-color="#bfbf3d"/><stop offset="0.4451" stop-color="#a4a450"/><stop offset="0.5059" stop-color="#818174"/><stop offset="0.5343" stop-color="#747382"/><stop offset="0.5545" stop-color="#676493"/><stop offset="0.5647" stop-color="#5a52a0"/><stop offset="0.6194" stop-color="#2c4fa4"/><stop offset="1.0006" stop-color="#2b50a2"/></linearGradient><linearGradient id="h212" x1="0" y1="0" x2="0" y2="1"><stop offset="0.0010" stop-color="#f2ca19"/><stop offset="0.1064" stop-color="#f1e022"/><stop offset="0.2464" stop-color="#e5e23f"/><stop offset="0.3112" stop-color="#d6d631"/><stop offset="0.3863" stop-color="#bfbf3d"/><stop offset="0.4451" stop-color="#a4a451"/><stop offset="0.5059" stop-color="#818174"/><stop offset="0.5343" stop-color="#747383"/><stop offset="0.5525" stop-color="#696691"/><stop offset="0.5647" stop-color="#5952a0"/><stop offset="0.6174" stop-color="#2c4fa4"/><stop offset="1.0006" stop-color="#2b50a2"/></linearGradient><linearGradient id="h213" x1="0" y1="0" x2="0" y2="1"><stop offset="0.0010" stop-color="#f2ca19"/><stop offset="0.1064" stop-color="#f1e022"/><stop offset="0.2464" stop-color="#e5e23f"/><stop offset="0.3112" stop-color="#d6d631"/><stop offset="0.3863" stop-color="#bfbf3d"/><stop offset="0.4451" stop-color="#a4a451"/><stop offset="0.5059" stop-color="#818174"/><stop offset="0.5343" stop-color="#747383"/><stop offset="0.5525" stop-color="#686692"/><stop offset="0.5647" stop-color="#5952a0"/><stop offset="0.6174" stop-color="#2c4fa4"/><stop offset="1.0006" stop-color="#2b50a2"/></linearGradient><linearGradient id="h214" x1="0" y1="0" x2="0" y2="1"><stop offset="0.0010" stop-color="#f2cb19"/><stop offset="0.1044" stop-color="#f1e022"/><stop offset="0.2464" stop-color="#e5e23f"/><stop offset="0.3112" stop-color="#d6d631"/><stop offset="0.3863" stop-color="#bfbf3d"/><stop offset="0.4451" stop-color="#a4a451"/><stop offset="0.5059" stop-color="#818174"/><stop offset="0.5343" stop-color="#737383"/><stop offset="0.5525" stop-color="#686592"/><stop offset="0.5647" stop-color="#5852a0"/><stop offset="0.6174" stop-color="#2c4fa4"/><stop offset="1.0006" stop-color="#2b50a2"/></linearGradient><linearGradient id="h215" x1="0" y1="0" x2="0" y2="1"><stop offset="0.0010" stop-color="#f2cb19"/><stop offset="0.1044" stop-color="#f1e022"/><stop offset="0.2464" stop-color="#e5e23f"/><stop offset="0.3112" stop-color="#d6d631"/><stop offset="0.3863" stop-color="#bfbf3d"/><stop offset="0.4451" stop-color="#a4a451"/><stop offset="0.5039" stop-color="#818173"/><stop offset="0.5322" stop-color="#747482"/><stop offset="0.5525" stop-color="#676493"/><stop offset="0.5627" stop-color="#5a52a0"/><stop offset="0.6174" stop-color="#2c4fa4"/><stop offset="1.0006" stop-color="#2b50a2"/></linearGradient><linearGradient id="h216" x1="0" y1="0" x2="0" y2="1"><stop offset="0.0010" stop-color="#f2cb19"/><stop offset="0.1024" stop-color="#f1e022"/><stop offset="0.2443" stop-color="#e5e23f"/><stop offset="0.3112" stop-color="#d6d631"/><stop offset="0.3863" stop-color="#bfbf3d"/><stop offset="0.4451" stop-color="#a4a451"/><stop offset="0.5039" stop-color="#818173"/><stop offset="0.5322" stop-color="#747382"/><stop offset="0.5525" stop-color="#676493"/><stop offset="0.5627" stop-color="#5a52a0"/><stop offset="0.6174" stop-color="#2c4fa4"/><stop offset="1.0006" stop-color="#2b50a2"/></linearGradient><linearGradient id="h217" x1="0" y1="0" x2="0" y2="1"><stop offset="0.0010" stop-color="#f2cc19"/><stop offset="0.1024" stop-color="#f1e022"/><stop offset="0.2443" stop-color="#e5e23f"/><stop offset="0.3112" stop-color="#d6d631"/><stop offset="0.3863" stop-color="#bfbf3d"/><stop offset="0.4451" stop-color="#a3a351"/><stop offset="0.5039" stop-color="#818174"/><stop offset="0.5322" stop-color="#747382"/><stop offset="0.5505" stop-color="#696691"/><stop offset="0.5627" stop-color="#5952a0"/><stop offset="0.6174" stop-color="#2c4fa4"/><stop offset="1.0006" stop-color="#2b50a2"/></linearGradient><linearGradient id="h218" x1="0" y1="0" x2="0" y2="1"><stop offset="0.0010" stop-color="#f2cc19"/><stop offset="0.1004" stop-color="#f1e022"/><stop offset="0.2443" stop-color="#e5e23f"/><stop offset="0.3092" stop-color="#d7d731"/><stop offset="0.3842" stop-color="#c0c03d"/><stop offset="0.4430" stop-color="#a4a450"/><stop offset="0.4917" stop-color="#86866f"/><stop offset="0.5302" stop-color="#757481"/><stop offset="0.5505" stop-color="#686692"/><stop offset="0.5627" stop-color="#5952a0"/><stop offset="0.6154" stop-color="#2c4fa4"/><stop offset="1.0006" stop-color="#2b50a2"/></linearGradient><linearGradient id="h219" x1="0" y1="0" x2="0" y2="1"><stop offset="0.0010" stop-color="#f2cd1a"/><stop offset="0.1004" stop-color="#f1e022"/><stop offset="0.2443" stop-color="#e5e23f"/><stop offset="0.3092" stop-color="#d7d731"/><stop offset="0.3842" stop-color="#bfbf3d"/><stop offset="0.4430" stop-color="#a4a450"/><stop offset="0.5039" stop-color="#818174"/><stop offset="0.5302" stop-color="#757481"/><stop offset="0.5505" stop-color="#686592"/><stop offset="0.5606" stop-color="#5a52a0"/><stop offset="0.6154" stop-color="#2c4fa4"/><stop offset="1.0006" stop-color="#2b50a2"/></linearGradient><linearGradient id="h220" x1="0" y1="0" x2="0" y2="1"><stop offset="0.0010" stop-color="#f2cd1a"/><stop offset="0.0983" stop-color="#f1e022"/><stop offset="0.2443" stop-color="#e5e23f"/><stop offset="0.3092" stop-color="#d7d731"/><stop offset="0.3842" stop-color="#bfbf3d"/><stop offset="0.4430" stop-color="#a4a450"/><stop offset="0.5039" stop-color="#818174"/><stop offset="0.5302" stop-color="#747482"/><stop offset="0.5505" stop-color="#676493"/><stop offset="0.5606" stop-color="#5a52a0"/><stop offset="0.6154" stop-color="#2c4fa4"/><stop offset="1.0006" stop-color="#2b50a2"/></linearGradient><linearGradient id="h221" x1="0" y1="0" x2="0" y2="1"><stop offset="0.0010" stop-color="#f2cd1a"/><stop offset="0.0983" stop-color="#f1e022"/><stop offset="0.2443" stop-color="#e5e23f"/><stop offset="0.3092" stop-color="#d6d631"/><stop offset="0.3842" stop-color="#bfbf3d"/><stop offset="0.4430" stop-color="#a4a451"/><stop offset="0.5039" stop-color="#818174"/><stop offset="0.5322" stop-color="#737284"/><stop offset="0.5505" stop-color="#676393"/><stop offset="0.5606" stop-color="#5952a0"/><stop offset="0.6154" stop-color="#2c4fa4"/><stop offset="1.0006" stop-color="#2b50a2"/></linearGradient><linearGradient id="h222" x1="0" y1="0" x2="0" y2="1"><stop offset="0.0010" stop-color="#f2ce1a"/><stop offset="0.0963" stop-color="#f1e022"/><stop offset="0.2443" stop-color="#e5e23f"/><stop offset="0.3092" stop-color="#d6d631"/><stop offset="0.3842" stop-color="#bfbf3d"/><stop offset="0.4430" stop-color="#a4a451"/><stop offset="0.5039" stop-color="#808074"/><stop offset="0.5322" stop-color="#737284"/><stop offset="0.5485" stop-color="#696691"/><stop offset="0.5606" stop-color="#5952a0"/><stop offset="0.6154" stop-color="#2c4fa4"/><stop offset="1.0006" stop-color="#2b50a2"/></linearGradient><linearGradient id="h223" x1="0" y1="0" x2="0" y2="1"><stop offset="0.0010" stop-color="#f2ce1a"/><stop offset="0.0963" stop-color="#f1e022"/><stop offset="0.2443" stop-color="#e5e23f"/><stop offset="0.3092" stop-color="#d6d631"/><stop offset="0.3842" stop-color="#bfbf3d"/><stop offset="0.4430" stop-color="#a4a451"/><stop offset="0.4897" stop-color="#87876e"/><stop offset="0.5282" stop-color="#757481"/><stop offset="0.5485" stop-color="#686692"/><stop offset="0.5606" stop-color="#5852a0"/><stop offset="0.6133" stop-color="#2c4fa4"/><stop offset="1.0006" stop-color="#2b50a2"/></linearGradient><linearGradient id="h224" x1="0" y1="0" x2="0" y2="1"><stop offset="0.0010" stop-color="#f2ce1a"/><stop offset="0.0943" stop-color="#f1e022"/><stop offset="0.2443" stop-color="#e5e23f"/><stop offset="0.3092" stop-color="#d6d631"/><stop offset="0.3842" stop-color="#bfbf3d"/><stop offset="0.4430" stop-color="#a4a451"/><stop offset="0.4897" stop-color="#87876e"/><stop offset="0.5282" stop-color="#757481"/><stop offset="0.5485" stop-color="#686592"/><stop offset="0.5586" stop-color="#5a52a0"/><stop offset="0.6133" stop-color="#2c4fa4"/><stop offset="1.0006" stop-color="#2b50a2"/></linearGradient><linearGradient id="h225" x1="0" y1="0" x2="0" y2="1"><stop offset="0.0010" stop-color="#f2cf1a"/><stop offset="0.0943" stop-color="#f1e022"/><stop offset="0.2443" stop-color="#e5e23f"/><stop offset="0.3092" stop-color="#d6d631"/><stop offset="0.3842" stop-color="#bfbf3d"/><stop offset="0.4430" stop-color="#a3a351"/><stop offset="0.4897" stop-color="#86866f"/><stop offset="0.5262" stop-color="#767580"/><stop offset="0.5485" stop-color="#676493"/><stop offset="0.5586" stop-color="#5a52a0"/><stop offset="0.6133" stop-color="#2c4fa4"/><stop offset="1.0006" stop-color="#2b50a2"/></linearGradient><linearGradient id="h226" x1="0" y1="0" x2="0" y2="1"><stop offset="0.0010" stop-color="#f2cf1a"/><stop offset="0.0923" stop-color="#f1e022"/><stop offset="0.2362" stop-color="#e6e33f"/><stop offset="0.3092" stop-color="#d6d631"/><stop offset="0.3842" stop-color="#bfbf3d"/><stop offset="0.4430" stop-color="#a3a351"/><stop offset="0.5018" stop-color="#818174"/><stop offset="0.5282" stop-color="#747482"/><stop offset="0.5485" stop-color="#676493"/><stop offset="0.5586" stop-color="#5952a0"/><stop offset="0.6133" stop-color="#2c4fa4"/><stop offset="1.0006" stop-color="#2b50a2"/></linearGradient><linearGradient id="h227" x1="0" y1="0" x2="0" y2="1"><stop offset="0.0010" stop-color="#f2cf1a"/><stop offset="0.0923" stop-color="#f1e022"/><stop offset="0.2342" stop-color="#e6e33f"/><stop offset="0.3092" stop-color="#d6d631"/><stop offset="0.3822" stop-color="#c0c03d"/><stop offset="0.4410" stop-color="#a4a450"/><stop offset="0.4876" stop-color="#88886d"/><stop offset="0.5262" stop-color="#757580"/><stop offset="0.5464" stop-color="#696791"/><stop offset="0.5586" stop-color="#5952a0"/><stop offset="0.6133" stop-color="#2c4fa4"/><stop offset="1.0006" stop-color="#2b50a2"/></linearGradient><linearGradient id="h228" x1="0" y1="0" x2="0" y2="1"><stop offset="0.0010" stop-color="#f2d01b"/><stop offset="0.0902" stop-color="#f1e022"/><stop offset="0.2342" stop-color="#e6e33f"/><stop offset="0.3092" stop-color="#d6d631"/><stop offset="0.3822" stop-color="#c0c03d"/><stop offset="0.4410" stop-color="#a4a450"/><stop offset="0.4876" stop-color="#87876e"/><stop offset="0.5262" stop-color="#757581"/><stop offset="0.5464" stop-color="#686692"/><stop offset="0.5586" stop-color="#5852a0"/><stop offset="0.6133" stop-color="#2c4fa4"/><stop offset="1.0006" stop-color="#2b50a2"/></linearGradient><linearGradient id="h229" x1="0" y1="0" x2="0" y2="1"><stop offset="0.0010" stop-color="#f2d01b"/><stop offset="0.0902" stop-color="#f1e022"/><stop offset="0.2322" stop-color="#e7e33e"/><stop offset="0.2747" stop-color="#dedd37"/><stop offset="0.3092" stop-color="#d6d631"/><stop offset="0.3822" stop-color="#bfbf3d"/><stop offset="0.4410" stop-color="#a4a451"/><stop offset="0.4876" stop-color="#87876e"/><stop offset="0.5262" stop-color="#757481"/><stop offset="0.5464" stop-color="#686592"/><stop offset="0.5566" stop-color="#5a52a0"/><stop offset="0.6113" stop-color="#2c4fa4"/><stop offset="1.0006" stop-color="#2b50a2"/></linearGradient><linearGradient id="h230" x1="0" y1="0" x2="0" y2="1"><stop offset="0.0010" stop-color="#f2d01b"/><stop offset="0.0882" stop-color="#f1e022"/><stop offset="0.2322" stop-color="#e7e33f"/><stop offset="0.2849" stop-color="#dcdb35"/><stop offset="0.3112" stop-color="#d6d631"/><stop offset="0.3822" stop-color="#bfbf3d"/><stop offset="0.4410" stop-color="#a4a451"/><stop offset="0.4876" stop-color="#87876e"/><stop offset="0.5262" stop-color="#757481"/><stop offset="0.5464" stop-color="#676493"/><stop offset="0.5566" stop-color="#5a52a0"/><stop offset="0.6113" stop-color="#2c4fa4"/><stop offset="1.0006" stop-color="#2b50a2"/></linearGradient><linearGradient id="h231" x1="0" y1="0" x2="0" y2="1"><stop offset="0.0010" stop-color="#f2d11b"/><stop offset="0.0882" stop-color="#f1e022"/><stop offset="0.2301" stop-color="#e7e33e"/><stop offset="0.2545" stop-color="#e3e03c"/><stop offset="0.3072" stop-color="#d7d731"/><stop offset="0.3822" stop-color="#bfbf3d"/><stop offset="0.4410" stop-color="#a4a451"/><stop offset="0.4876" stop-color="#87876e"/><stop offset="0.5241" stop-color="#767580"/><stop offset="0.5464" stop-color="#676393"/><stop offset="0.5566" stop-color="#5952a0"/><stop offset="0.6113" stop-color="#2c4fa4"/><stop offset="1.0006" stop-color="#2b50a2"/></linearGradient><linearGradient id="h232" x1="0" y1="0" x2="0" y2="1"><stop offset="0.0010" stop-color="#f2d11b"/><stop offset="0.0862" stop-color="#f1e022"/><stop offset="0.2301" stop-color="#e7e33e"/><stop offset="0.2565" stop-color="#e2e03c"/><stop offset="0.3072" stop-color="#d6d631"/><stop offset="0.3822" stop-color="#bfbf3d"/><stop offset="0.4410" stop-color="#a3a351"/><stop offset="0.4856" stop-color="#88886d"/><stop offset="0.5241" stop-color="#757580"/><stop offset="0.5444" stop-color="#696691"/><stop offset="0.5566" stop-color="#5952a0"/><stop offset="0.6113" stop-color="#2c4fa4"/><stop offset="1.0006" stop-color="#2b50a2"/></linearGradient><linearGradient id="h233" x1="0" y1="0" x2="0" y2="1"><stop offset="0.0010" stop-color="#f2d21b"/><stop offset="0.0862" stop-color="#f1e022"/><stop offset="0.2281" stop-color="#e7e33e"/><stop offset="0.2504" stop-color="#e3e13d"/><stop offset="0.3072" stop-color="#d6d631"/><stop offset="0.3822" stop-color="#bfbf3d"/><stop offset="0.4410" stop-color="#a3a351"/><stop offset="0.4856" stop-color="#88886d"/><stop offset="0.5241" stop-color="#757580"/><stop offset="0.5444" stop-color="#686692"/><stop offset="0.5545" stop-color="#5a52a0"/><stop offset="0.6093" stop-color="#2c4fa4"/><stop offset="1.0006" stop-color="#2b50a2"/></linearGradient><linearGradient id="h234" x1="0" y1="0" x2="0" y2="1"><stop offset="0.0010" stop-color="#f2d21b"/><stop offset="0.0841" stop-color="#f1e022"/><stop offset="0.2281" stop-color="#e7e33e"/><stop offset="0.2504" stop-color="#e3e13d"/><stop offset="0.3072" stop-color="#d6d631"/><stop offset="0.3822" stop-color="#bfbf3d"/><stop offset="0.4410" stop-color="#a3a351"/><stop offset="0.4856" stop-color="#88886d"/><stop offset="0.5241" stop-color="#757481"/><stop offset="0.5444" stop-color="#686592"/><stop offset="0.5545" stop-color="#5a52a0"/><stop offset="0.6093" stop-color="#2c4fa4"/><stop offset="1.0006" stop-color="#2b50a2"/></linearGradient><linearGradient id="h235" x1="0" y1="0" x2="0" y2="1"><stop offset="0.0010" stop-color="#f2d21b"/><stop offset="0.0841" stop-color="#f1e022"/><stop offset="0.2261" stop-color="#e7e33d"/><stop offset="0.2464" stop-color="#e4e13e"/><stop offset="0.3072" stop-color="#d6d631"/><stop offset="0.3822" stop-color="#bfbf3d"/><stop offset="0.4410" stop-color="#a3a351"/><stop offset="0.4998" stop-color="#818174"/><stop offset="0.5262" stop-color="#747383"/><stop offset="0.5444" stop-color="#676493"/><stop offset="0.5545" stop-color="#5952a0"/><stop offset="0.6093" stop-color="#2c4fa4"/><stop offset="1.0006" stop-color="#2b50a2"/></linearGradient><linearGradient id="h236" x1="0" y1="0" x2="0" y2="1"><stop offset="0.0010" stop-color="#f2d31c"/><stop offset="0.0821" stop-color="#f1e022"/><stop offset="0.2261" stop-color="#e7e33d"/><stop offset="0.2464" stop-color="#e4e13e"/><stop offset="0.3072" stop-color="#d6d631"/><stop offset="0.3802" stop-color="#c0c03d"/><stop offset="0.4410" stop-color="#a3a352"/><stop offset="0.4998" stop-color="#808074"/><stop offset="0.5262" stop-color="#747383"/><stop offset="0.5444" stop-color="#676493"/><stop offset="0.5545" stop-color="#5952a0"/><stop offset="0.6093" stop-color="#2c4fa4"/><stop offset="1.0006" stop-color="#2b50a2"/></linearGradient><linearGradient id="h237" x1="0" y1="0" x2="0" y2="1"><stop offset="0.0010" stop-color="#f2d31c"/><stop offset="0.0821" stop-color="#f1e022"/><stop offset="0.2240" stop-color="#e7e33d"/><stop offset="0.2443" stop-color="#e4e23e"/><stop offset="0.3072" stop-color="#d6d631"/><stop offset="0.3802" stop-color="#c0c03d"/><stop offset="0.4410" stop-color="#a3a352"/><stop offset="0.4998" stop-color="#808074"/><stop offset="0.5262" stop-color="#737383"/><stop offset="0.5424" stop-color="#696791"/><stop offset="0.5545" stop-color="#5952a0"/><stop offset="0.6093" stop-color="#2c4fa4"/><stop offset="1.0006" stop-color="#2b50a2"/></linearGradient><linearGradient id="h238" x1="0" y1="0" x2="0" y2="1"><stop offset="0.0010" stop-color="#f2d31c"/><stop offset="0.0801" stop-color="#f1e022"/><stop offset="0.2240" stop-color="#e7e33d"/><stop offset="0.2443" stop-color="#e4e23e"/><stop offset="0.3072" stop-color="#d6d631"/><stop offset="0.3802" stop-color="#bfbf3d"/><stop offset="0.4390" stop-color="#a4a451"/><stop offset="0.4836" stop-color="#88886c"/><stop offset="0.5241" stop-color="#747482"/><stop offset="0.5424" stop-color="#696691"/><stop offset="0.5545" stop-color="#5852a0"/><stop offset="0.6093" stop-color="#2c4fa4"/><stop offset="1.0006" stop-color="#2b50a2"/></linearGradient><linearGradient id="h239" x1="0" y1="0" x2="0" y2="1"><stop offset="0.0010" stop-color="#f2d41c"/><stop offset="0.0801" stop-color="#f1e023"/><stop offset="0.2220" stop-color="#e7e33c"/><stop offset="0.2443" stop-color="#e4e23e"/><stop offset="0.3072" stop-color="#d6d631"/><stop offset="0.3802" stop-color="#bfbf3d"/><stop offset="0.4390" stop-color="#a4a451"/><stop offset="0.4836" stop-color="#88886d"/><stop offset="0.5221" stop-color="#757580"/><stop offset="0.5424" stop-color="#686592"/><stop offset="0.5525" stop-color="#5a52a0"/><stop offset="0.6073" stop-color="#2c4fa4"/><stop offset="1.0006" stop-color="#2b50a2"/></linearGradient><linearGradient id="h240" x1="0" y1="0" x2="0" y2="1"><stop offset="0.0010" stop-color="#f2d41c"/><stop offset="0.0781" stop-color="#f1e022"/><stop offset="0.2220" stop-color="#e7e33d"/><stop offset="0.2443" stop-color="#e4e23e"/><stop offset="0.3072" stop-color="#d6d631"/><stop offset="0.3802" stop-color="#bfbf3d"/><stop offset="0.4390" stop-color="#a3a351"/><stop offset="0.4836" stop-color="#88886d"/><stop offset="0.5221" stop-color="#757581"/><stop offset="0.5424" stop-color="#676493"/><stop offset="0.5525" stop-color="#5952a0"/><stop offset="0.6073" stop-color="#2c4fa4"/><stop offset="1.0006" stop-color="#2b50a2"/></linearGradient><linearGradient id="h241" x1="0" y1="0" x2="0" y2="1"><stop offset="0.0010" stop-color="#f2d41c"/><stop offset="0.0760" stop-color="#f1e022"/><stop offset="0.2200" stop-color="#e7e33c"/><stop offset="0.2423" stop-color="#e5e23e"/><stop offset="0.3072" stop-color="#d6d631"/><stop offset="0.3802" stop-color="#bfbf3d"/><stop offset="0.4390" stop-color="#a3a351"/><stop offset="0.4836" stop-color="#88886d"/><stop offset="0.5221" stop-color="#757481"/><stop offset="0.5424" stop-color="#676493"/><stop offset="0.5525" stop-color="#5952a0"/><stop offset="0.6073" stop-color="#2c4fa4"/><stop offset="1.0006" stop-color="#2b50a2"/></linearGradient><linearGradient id="h242" x1="0" y1="0" x2="0" y2="1"><stop offset="0.0010" stop-color="#f2d51c"/><stop offset="0.0760" stop-color="#f1e022"/><stop offset="0.2200" stop-color="#e7e33c"/><stop offset="0.2423" stop-color="#e5e23e"/><stop offset="0.3052" stop-color="#d7d731"/><stop offset="0.3802" stop-color="#bfbf3d"/><stop offset="0.4390" stop-color="#a3a351"/><stop offset="0.4836" stop-color="#88886d"/><stop offset="0.5221" stop-color="#757481"/><stop offset="0.5403" stop-color="#696791"/><stop offset="0.5525" stop-color="#5852a0"/><stop offset="0.6073" stop-color="#2c4fa4"/><stop offset="1.0006" stop-color="#2b50a2"/></linearGradient><linearGradient id="h243" x1="0" y1="0" x2="0" y2="1"><stop offset="0.0010" stop-color="#f2d51c"/><stop offset="0.0760" stop-color="#f1e023"/><stop offset="0.2180" stop-color="#e8e33c"/><stop offset="0.2403" stop-color="#e5e23f"/><stop offset="0.3052" stop-color="#d6d631"/><stop offset="0.3802" stop-color="#bfbf3d"/><stop offset="0.4390" stop-color="#a3a352"/><stop offset="0.4836" stop-color="#87876e"/><stop offset="0.5221" stop-color="#747482"/><stop offset="0.5403" stop-color="#686692"/><stop offset="0.5505" stop-color="#5a52a0"/><stop offset="0.6052" stop-color="#2c4fa4"/><stop offset="1.0006" stop-color="#2b50a2"/></linearGradient><linearGradient id="h244" x1="0" y1="0" x2="0" y2="1"><stop offset="0.0010" stop-color="#f2d51c"/><stop offset="0.0740" stop-color="#f1e023"/><stop offset="0.2180" stop-color="#e8e33c"/><stop offset="0.2403" stop-color="#e5e23f"/><stop offset="0.3052" stop-color="#d6d631"/><stop offset="0.3802" stop-color="#bfbf3d"/><stop offset="0.4390" stop-color="#a3a352"/><stop offset="0.4836" stop-color="#87876e"/><stop offset="0.5201" stop-color="#757580"/><stop offset="0.5403" stop-color="#686592"/><stop offset="0.5505" stop-color="#5a52a0"/><stop offset="0.6052" stop-color="#2c4fa4"/><stop offset="1.0006" stop-color="#2b50a2"/></linearGradient><linearGradient id="h245" x1="0" y1="0" x2="0" y2="1"><stop offset="0.0010" stop-color="#f2d61d"/><stop offset="0.0720" stop-color="#f1e022"/><stop offset="0.2159" stop-color="#e8e33b"/><stop offset="0.2403" stop-color="#e5e23f"/><stop offset="0.3052" stop-color="#d6d631"/><stop offset="0.3781" stop-color="#c0c03d"/><stop offset="0.4369" stop-color="#a4a451"/><stop offset="0.4815" stop-color="#88886c"/><stop offset="0.5201" stop-color="#757581"/><stop offset="0.5403" stop-color="#676493"/><stop offset="0.5505" stop-color="#5952a0"/><stop offset="0.6052" stop-color="#2c4fa4"/><stop offset="1.0006" stop-color="#2b50a2"/></linearGradient><linearGradient id="h246" x1="0" y1="0" x2="0" y2="1"><stop offset="0.0010" stop-color="#f2d61d"/><stop offset="0.0720" stop-color="#f1e023"/><stop offset="0.2159" stop-color="#e8e33b"/><stop offset="0.2403" stop-color="#e5e23f"/><stop offset="0.3052" stop-color="#d6d631"/><stop offset="0.3781" stop-color="#bfbf3d"/><stop offset="0.4369" stop-color="#a3a351"/><stop offset="0.4815" stop-color="#88886d"/><stop offset="0.5201" stop-color="#757481"/><stop offset="0.5403" stop-color="#676493"/><stop offset="0.5505" stop-color="#5952a0"/><stop offset="0.6052" stop-color="#2c4fa4"/><stop offset="1.0006" stop-color="#2b50a2"/></linearGradient><linearGradient id="h247" x1="0" y1="0" x2="0" y2="1"><stop offset="0.0010" stop-color="#f2d71d"/><stop offset="0.0700" stop-color="#f1e023"/><stop offset="0.2159" stop-color="#e8e33b"/><stop offset="0.2403" stop-color="#e5e23e"/><stop offset="0.3052" stop-color="#d6d631"/><stop offset="0.3781" stop-color="#bfbf3d"/><stop offset="0.4369" stop-color="#a3a351"/><stop offset="0.4815" stop-color="#88886d"/><stop offset="0.5201" stop-color="#757481"/><stop offset="0.5383" stop-color="#696791"/><stop offset="0.5505" stop-color="#5852a0"/><stop offset="0.6052" stop-color="#2c4fa4"/><stop offset="1.0006" stop-color="#2b50a2"/></linearGradient><linearGradient id="h248" x1="0" y1="0" x2="0" y2="1"><stop offset="0.0010" stop-color="#f2d71d"/><stop offset="0.0700" stop-color="#f1e023"/><stop offset="0.2139" stop-color="#e8e33b"/><stop offset="0.2403" stop-color="#e5e23e"/><stop offset="0.3052" stop-color="#d6d631"/><stop offset="0.3781" stop-color="#bfbf3d"/><stop offset="0.4369" stop-color="#a3a351"/><stop offset="0.4815" stop-color="#88886d"/><stop offset="0.5201" stop-color="#757481"/><stop offset="0.5383" stop-color="#686692"/><stop offset="0.5485" stop-color="#5a52a0"/><stop offset="0.6052" stop-color="#2c4fa4"/><stop offset="1.0006" stop-color="#2b50a2"/></linearGradient><linearGradient id="h249" x1="0" y1="0" x2="0" y2="1"><stop offset="0.0010" stop-color="#f2d71d"/><stop offset="0.0679" stop-color="#f1e023"/><stop offset="0.2139" stop-color="#e8e33b"/><stop offset="0.2382" stop-color="#e5e23f"/><stop offset="0.3052" stop-color="#d6d631"/><stop offset="0.3781" stop-color="#bfbf3d"/><stop offset="0.4349" stop-color="#a4a451"/><stop offset="0.4795" stop-color="#89896c"/><stop offset="0.5201" stop-color="#747482"/><stop offset="0.5383" stop-color="#686592"/><stop offset="0.5485" stop-color="#5952a0"/><stop offset="0.6032" stop-color="#2c4fa4"/><stop offset="1.0006" stop-color="#2b50a2"/></linearGradient><linearGradient id="h250" x1="0" y1="0" x2="0" y2="1"><stop offset="0.0010" stop-color="#f2d81d"/><stop offset="0.0679" stop-color="#f1e023"/><stop offset="0.2119" stop-color="#e8e23b"/><stop offset="0.2382" stop-color="#e5e23f"/><stop offset="0.3052" stop-color="#d6d631"/><stop offset="0.3781" stop-color="#bfbf3d"/><stop offset="0.4369" stop-color="#a3a352"/><stop offset="0.4815" stop-color="#87876e"/><stop offset="0.5180" stop-color="#757580"/><stop offset="0.5383" stop-color="#676493"/><stop offset="0.5485" stop-color="#5952a0"/><stop offset="0.6032" stop-color="#2c4fa4"/><stop offset="1.0006" stop-color="#2b50a2"/></linearGradient><linearGradient id="h251" x1="0" y1="0" x2="0" y2="1"><stop offset="0.0010" stop-color="#f2d81d"/><stop offset="0.0659" stop-color="#f1e023"/><stop offset="0.2119" stop-color="#e8e33b"/><stop offset="0.2382" stop-color="#e5e23f"/><stop offset="0.3052" stop-color="#d6d631"/><stop offset="0.3781" stop-color="#bfbf3d"/><stop offset="0.4369" stop-color="#a3a352"/><stop offset="0.4978" stop-color="#7f7f75"/><stop offset="0.5221" stop-color="#737284"/><stop offset="0.5383" stop-color="#676393"/><stop offset="0.5485" stop-color="#5952a0"/><stop offset="0.6032" stop-color="#2c4fa4"/><stop offset="1.0006" stop-color="#2b50a2"/></linearGradient><linearGradient id="h252" x1="0" y1="0" x2="0" y2="1"><stop offset="0.0010" stop-color="#f2d81d"/><stop offset="0.0659" stop-color="#f1e023"/><stop offset="0.2119" stop-color="#e8e33b"/><stop offset="0.2382" stop-color="#e5e23f"/><stop offset="0.3031" stop-color="#d7d731"/><stop offset="0.3781" stop-color="#bfbf3d"/><stop offset="0.4349" stop-color="#a3a351"/><stop offset="0.4795" stop-color="#88886c"/><stop offset="0.5180" stop-color="#757481"/><stop offset="0.5363" stop-color="#696791"/><stop offset="0.5464" stop-color="#5a52a0"/><stop offset="0.6012" stop-color="#2d4fa4"/><stop offset="1.0006" stop-color="#2b50a2"/></linearGradient><linearGradient id="h253" x1="0" y1="0" x2="0" y2="1"><stop offset="0.0010" stop-color="#f2d91e"/><stop offset="0.0659" stop-color="#f1e023"/><stop offset="0.2099" stop-color="#e8e23a"/><stop offset="0.2382" stop-color="#e5e23f"/><stop offset="0.3031" stop-color="#d6d631"/><stop offset="0.3781" stop-color="#bfbf3e"/><stop offset="0.4349" stop-color="#a3a351"/><stop offset="0.4795" stop-color="#88886d"/><stop offset="0.5180" stop-color="#757481"/><stop offset="0.5363" stop-color="#686692"/><stop offset="0.5464" stop-color="#5a52a0"/><stop offset="0.6012" stop-color="#2c4fa4"/><stop offset="1.0006" stop-color="#2b50a2"/></linearGradient><linearGradient id="h254" x1="0" y1="0" x2="0" y2="1"><stop offset="0.0010" stop-color="#f2d91e"/><stop offset="0.0659" stop-color="#f1e023"/><stop offset="0.2099" stop-color="#e8e23a"/><stop offset="0.2382" stop-color="#e5e23e"/><stop offset="0.3031" stop-color="#d6d631"/><stop offset="0.3781" stop-color="#bfbf3e"/><stop offset="0.4349" stop-color="#a3a351"/><stop offset="0.4795" stop-color="#88886d"/><stop offset="0.5180" stop-color="#757482"/><stop offset="0.5363" stop-color="#686592"/><stop offset="0.5464" stop-color="#5952a0"/><stop offset="0.6012" stop-color="#2c4fa4"/><stop offset="1.0006" stop-color="#2b50a2"/></linearGradient><linearGradient id="h255" x1="0" y1="0" x2="0" y2="1"><stop offset="0.0010" stop-color="#f2d91e"/><stop offset="0.0639" stop-color="#f1e023"/><stop offset="0.2099" stop-color="#e8e23a"/><stop offset="0.2362" stop-color="#e5e23f"/><stop offset="0.3031" stop-color="#d6d631"/><stop offset="0.3761" stop-color="#bfbf3d"/><stop offset="0.4329" stop-color="#a4a451"/><stop offset="0.4775" stop-color="#89896b"/><stop offset="0.5180" stop-color="#747482"/><stop offset="0.5363" stop-color="#686592"/><stop offset="0.5464" stop-color="#5952a0"/><stop offset="0.6012" stop-color="#2c4fa4"/><stop offset="1.0006" stop-color="#2b50a2"/></linearGradient></defs><g shape-rendering="crispEdges"><rect x="191" y="609.3" width="2" height="493.2" fill="url(#h0)"/><rect x="193" y="609.3" width="2" height="493.2" fill="url(#h1)"/><rect x="195" y="609.3" width="2" height="493.2" fill="url(#h2)"/><rect x="197" y="609.3" width="2" height="493.2" fill="url(#h3)"/><rect x="199" y="609.3" width="2" height="493.2" fill="url(#h4)"/><rect x="201" y="609.3" width="2" height="493.2" fill="url(#h5)"/><rect x="203" y="609.3" width="2" height="493.2" fill="url(#h6)"/><rect x="205" y="609.3" width="2" height="493.2" fill="url(#h7)"/><rect x="207" y="609.3" width="2" height="493.2" fill="url(#h8)"/><rect x="209" y="609.3" width="2" height="493.2" fill="url(#h9)"/><rect x="211" y="609.3" width="2" height="493.2" fill="url(#h10)"/><rect x="213" y="609.3" width="2" height="493.2" fill="url(#h11)"/><rect x="215" y="609.3" width="2" height="493.2" fill="url(#h12)"/><rect x="217" y="609.3" width="2" height="493.2" fill="url(#h13)"/><rect x="219" y="609.3" width="2" height="493.2" fill="url(#h14)"/><rect x="221" y="609.3" width="2" height="493.2" fill="url(#h15)"/><rect x="223" y="609.3" width="2" height="493.2" fill="url(#h16)"/><rect x="225" y="609.3" width="2" height="493.2" fill="url(#h17)"/><rect x="227" y="609.3" width="2" height="493.2" fill="url(#h18)"/><rect x="229" y="609.3" width="2" height="493.2" fill="url(#h19)"/><rect x="231" y="609.3" width="2" height="493.2" fill="url(#h20)"/><rect x="233" y="609.3" width="2" height="493.2" fill="url(#h21)"/><rect x="235" y="609.3" width="2" height="493.2" fill="url(#h22)"/><rect x="237" y="609.3" width="2" height="493.2" fill="url(#h23)"/><rect x="239" y="609.3" width="2" height="493.2" fill="url(#h24)"/><rect x="241" y="609.3" width="2" height="493.2" fill="url(#h25)"/><rect x="243" y="609.3" width="2" height="493.2" fill="url(#h26)"/><rect x="245" y="609.3" width="2" height="493.2" fill="url(#h27)"/><rect x="247" y="609.3" width="2" height="493.2" fill="url(#h28)"/><rect x="249" y="609.3" width="2" height="493.2" fill="url(#h29)"/><rect x="251" y="609.3" width="2" height="493.2" fill="url(#h30)"/><rect x="253" y="609.3" width="2" height="493.2" fill="url(#h31)"/><rect x="255" y="609.3" width="2" height="493.2" fill="url(#h32)"/><rect x="257" y="609.3" width="2" height="493.2" fill="url(#h33)"/><rect x="259" y="609.3" width="2" height="493.2" fill="url(#h34)"/><rect x="261" y="609.3" width="2" height="493.2" fill="url(#h35)"/><rect x="263" y="609.3" width="2" height="493.2" fill="url(#h36)"/><rect x="265" y="609.3" width="2" height="493.2" fill="url(#h37)"/><rect x="267" y="609.3" width="2" height="493.2" fill="url(#h38)"/><rect x="269" y="609.3" width="2" height="493.2" fill="url(#h39)"/><rect x="271" y="609.3" width="2" height="493.2" fill="url(#h40)"/><rect x="273" y="609.3" width="2" height="493.2" fill="url(#h41)"/><rect x="275" y="609.3" width="2" height="493.2" fill="url(#h42)"/><rect x="277" y="609.3" width="2" height="493.2" fill="url(#h43)"/><rect x="279" y="609.3" width="2" height="493.2" fill="url(#h44)"/><rect x="281" y="609.3" width="2" height="493.2" fill="url(#h45)"/><rect x="283" y="609.3" width="2" height="493.2" fill="url(#h46)"/><rect x="285" y="609.3" width="2" height="493.2" fill="url(#h47)"/><rect x="287" y="609.3" width="2" height="493.2" fill="url(#h48)"/><rect x="289" y="609.3" width="2" height="493.2" fill="url(#h49)"/><rect x="291" y="609.3" width="2" height="493.2" fill="url(#h50)"/><rect x="293" y="609.3" width="2" height="493.2" fill="url(#h51)"/><rect x="295" y="609.3" width="2" height="493.2" fill="url(#h52)"/><rect x="297" y="609.3" width="2" height="493.2" fill="url(#h53)"/><rect x="299" y="609.3" width="2" height="493.2" fill="url(#h54)"/><rect x="301" y="609.3" width="2" height="493.2" fill="url(#h55)"/><rect x="303" y="609.3" width="2" height="493.2" fill="url(#h56)"/><rect x="305" y="609.3" width="2" height="493.2" fill="url(#h57)"/><rect x="307" y="609.3" width="2" height="493.2" fill="url(#h58)"/><rect x="309" y="609.3" width="2" height="493.2" fill="url(#h59)"/><rect x="311" y="609.3" width="2" height="493.2" fill="url(#h60)"/><rect x="313" y="609.3" width="2" height="493.2" fill="url(#h61)"/><rect x="315" y="609.3" width="2" height="493.2" fill="url(#h62)"/><rect x="317" y="609.3" width="2" height="493.2" fill="url(#h63)"/><rect x="319" y="609.3" width="2" height="493.2" fill="url(#h64)"/><rect x="321" y="609.3" width="2" height="493.2" fill="url(#h65)"/><rect x="323" y="609.3" width="2" height="493.2" fill="url(#h66)"/><rect x="325" y="609.3" width="2" height="493.2" fill="url(#h67)"/><rect x="327" y="609.3" width="2" height="493.2" fill="url(#h68)"/><rect x="329" y="609.3" width="2" height="493.2" fill="url(#h69)"/><rect x="331" y="609.3" width="2" height="493.2" fill="url(#h70)"/><rect x="333" y="609.3" width="2" height="493.2" fill="url(#h71)"/><rect x="335" y="609.3" width="2" height="493.2" fill="url(#h72)"/><rect x="337" y="609.3" width="2" height="493.2" fill="url(#h73)"/><rect x="339" y="609.3" width="2" height="493.2" fill="url(#h74)"/><rect x="341" y="609.3" width="2" height="493.2" fill="url(#h75)"/><rect x="343" y="609.3" width="2" height="493.2" fill="url(#h76)"/><rect x="345" y="609.3" width="2" height="493.2" fill="url(#h77)"/><rect x="347" y="609.3" width="2" height="493.2" fill="url(#h78)"/><rect x="349" y="609.3" width="2" height="493.2" fill="url(#h79)"/><rect x="351" y="609.3" width="2" height="493.2" fill="url(#h80)"/><rect x="353" y="609.3" width="2" height="493.2" fill="url(#h81)"/><rect x="355" y="609.3" width="2" height="493.2" fill="url(#h82)"/><rect x="357" y="609.3" width="2" height="493.2" fill="url(#h83)"/><rect x="359" y="609.3" width="2" height="493.2" fill="url(#h84)"/><rect x="361" y="609.3" width="2" height="493.2" fill="url(#h85)"/><rect x="363" y="609.3" width="2" height="493.2" fill="url(#h86)"/><rect x="365" y="609.3" width="2" height="493.2" fill="url(#h87)"/><rect x="367" y="609.3" width="2" height="493.2" fill="url(#h88)"/><rect x="369" y="609.3" width="2" height="493.2" fill="url(#h89)"/><rect x="371" y="609.3" width="2" height="493.2" fill="url(#h90)"/><rect x="373" y="609.3" width="2" height="493.2" fill="url(#h91)"/><rect x="375" y="609.3" width="2" height="493.2" fill="url(#h92)"/><rect x="377" y="609.3" width="2" height="493.2" fill="url(#h93)"/><rect x="379" y="609.3" width="2" height="493.2" fill="url(#h94)"/><rect x="381" y="609.3" width="2" height="493.2" fill="url(#h95)"/><rect x="383" y="609.3" width="2" height="493.2" fill="url(#h96)"/><rect x="385" y="609.3" width="2" height="493.2" fill="url(#h97)"/><rect x="387" y="609.3" width="2" height="493.2" fill="url(#h98)"/><rect x="389" y="609.3" width="2" height="493.2" fill="url(#h99)"/><rect x="391" y="609.3" width="2" height="493.2" fill="url(#h100)"/><rect x="393" y="609.3" width="2" height="493.2" fill="url(#h101)"/><rect x="395" y="609.3" width="2" height="493.2" fill="url(#h102)"/><rect x="397" y="609.3" width="2" height="493.2" fill="url(#h103)"/><rect x="399" y="609.3" width="2" height="493.2" fill="url(#h104)"/><rect x="401" y="609.3" width="2" height="493.2" fill="url(#h105)"/><rect x="403" y="609.3" width="2" height="493.2" fill="url(#h106)"/><rect x="405" y="609.3" width="2" height="493.2" fill="url(#h107)"/><rect x="407" y="609.3" width="2" height="493.2" fill="url(#h108)"/><rect x="409" y="609.3" width="2" height="493.2" fill="url(#h109)"/><rect x="411" y="609.3" width="2" height="493.2" fill="url(#h110)"/><rect x="413" y="609.3" width="2" height="493.2" fill="url(#h111)"/><rect x="415" y="609.3" width="2" height="493.2" fill="url(#h112)"/><rect x="417" y="609.3" width="2" height="493.2" fill="url(#h113)"/><rect x="419" y="609.3" width="2" height="493.2" fill="url(#h114)"/><rect x="421" y="609.3" width="2" height="493.2" fill="url(#h115)"/><rect x="423" y="609.3" width="2" height="493.2" fill="url(#h116)"/><rect x="425" y="609.3" width="2" height="493.2" fill="url(#h117)"/><rect x="427" y="609.3" width="2" height="493.2" fill="url(#h118)"/><rect x="429" y="609.3" width="2" height="493.2" fill="url(#h119)"/><rect x="431" y="609.3" width="2" height="493.2" fill="url(#h120)"/><rect x="433" y="609.3" width="2" height="493.2" fill="url(#h121)"/><rect x="435" y="609.3" width="2" height="493.2" fill="url(#h122)"/><rect x="437" y="609.3" width="2" height="493.2" fill="url(#h123)"/><rect x="439" y="609.3" width="2" height="493.2" fill="url(#h124)"/><rect x="441" y="609.3" width="2" height="493.2" fill="url(#h125)"/><rect x="443" y="609.3" width="2" height="493.2" fill="url(#h126)"/><rect x="445" y="609.3" width="2" height="493.2" fill="url(#h127)"/><rect x="447" y="609.3" width="2" height="493.2" fill="url(#h128)"/><rect x="449" y="609.3" width="2" height="493.2" fill="url(#h129)"/><rect x="451" y="609.3" width="2" height="493.2" fill="url(#h130)"/><rect x="453" y="609.3" width="2" height="493.2" fill="url(#h131)"/><rect x="455" y="609.3" width="2" height="493.2" fill="url(#h132)"/><rect x="457" y="609.3" width="2" height="493.2" fill="url(#h133)"/><rect x="459" y="609.3" width="2" height="493.2" fill="url(#h134)"/><rect x="461" y="609.3" width="2" height="493.2" fill="url(#h135)"/><rect x="463" y="609.3" width="2" height="493.2" fill="url(#h136)"/><rect x="465" y="609.3" width="2" height="493.2" fill="url(#h137)"/><rect x="467" y="609.3" width="2" height="493.2" fill="url(#h138)"/><rect x="469" y="609.3" width="2" height="493.2" fill="url(#h139)"/><rect x="471" y="609.3" width="2" height="493.2" fill="url(#h140)"/><rect x="473" y="609.3" width="2" height="493.2" fill="url(#h141)"/><rect x="475" y="609.3" width="2" height="493.2" fill="url(#h142)"/><rect x="477" y="609.3" width="2" height="493.2" fill="url(#h143)"/><rect x="479" y="609.3" width="2" height="493.2" fill="url(#h144)"/><rect x="481" y="609.3" width="2" height="493.2" fill="url(#h145)"/><rect x="483" y="609.3" width="2" height="493.2" fill="url(#h146)"/><rect x="485" y="609.3" width="2" height="493.2" fill="url(#h147)"/><rect x="487" y="609.3" width="2" height="493.2" fill="url(#h148)"/><rect x="489" y="609.3" width="2" height="493.2" fill="url(#h149)"/><rect x="491" y="609.3" width="2" height="493.2" fill="url(#h150)"/><rect x="493" y="609.3" width="2" height="493.2" fill="url(#h151)"/><rect x="495" y="609.3" width="2" height="493.2" fill="url(#h152)"/><rect x="497" y="609.3" width="2" height="493.2" fill="url(#h153)"/><rect x="499" y="609.3" width="2" height="493.2" fill="url(#h154)"/><rect x="501" y="609.3" width="2" height="493.2" fill="url(#h155)"/><rect x="503" y="609.3" width="2" height="493.2" fill="url(#h156)"/><rect x="505" y="609.3" width="2" height="493.2" fill="url(#h157)"/><rect x="507" y="609.3" width="2" height="493.2" fill="url(#h158)"/><rect x="509" y="609.3" width="2" height="493.2" fill="url(#h159)"/><rect x="511" y="609.3" width="2" height="493.2" fill="url(#h160)"/><rect x="513" y="609.3" width="2" height="493.2" fill="url(#h161)"/><rect x="515" y="609.3" width="2" height="493.2" fill="url(#h162)"/><rect x="517" y="609.3" width="2" height="493.2" fill="url(#h163)"/><rect x="519" y="609.3" width="2" height="493.2" fill="url(#h164)"/><rect x="521" y="609.3" width="2" height="493.2" fill="url(#h165)"/><rect x="523" y="609.3" width="2" height="493.2" fill="url(#h166)"/><rect x="525" y="609.3" width="2" height="493.2" fill="url(#h167)"/><rect x="527" y="609.3" width="2" height="493.2" fill="url(#h168)"/><rect x="529" y="609.3" width="2" height="493.2" fill="url(#h169)"/><rect x="531" y="609.3" width="2" height="493.2" fill="url(#h170)"/><rect x="533" y="609.3" width="2" height="493.2" fill="url(#h171)"/><rect x="535" y="609.3" width="2" height="493.2" fill="url(#h172)"/><rect x="537" y="609.3" width="2" height="493.2" fill="url(#h173)"/><rect x="539" y="609.3" width="2" height="493.2" fill="url(#h174)"/><rect x="541" y="609.3" width="2" height="493.2" fill="url(#h175)"/><rect x="543" y="609.3" width="2" height="493.2" fill="url(#h176)"/><rect x="545" y="609.3" width="2" height="493.2" fill="url(#h177)"/><rect x="547" y="609.3" width="2" height="493.2" fill="url(#h178)"/><rect x="549" y="609.3" width="2" height="493.2" fill="url(#h179)"/><rect x="551" y="609.3" width="2" height="493.2" fill="url(#h180)"/><rect x="553" y="609.3" width="2" height="493.2" fill="url(#h181)"/><rect x="555" y="609.3" width="2" height="493.2" fill="url(#h182)"/><rect x="557" y="609.3" width="2" height="493.2" fill="url(#h183)"/><rect x="559" y="609.3" width="2" height="493.2" fill="url(#h184)"/><rect x="561" y="609.3" width="2" height="493.2" fill="url(#h185)"/><rect x="563" y="609.3" width="2" height="493.2" fill="url(#h186)"/><rect x="565" y="609.3" width="2" height="493.2" fill="url(#h187)"/><rect x="567" y="609.3" width="2" height="493.2" fill="url(#h188)"/><rect x="569" y="609.3" width="2" height="493.2" fill="url(#h189)"/><rect x="571" y="609.3" width="2" height="493.2" fill="url(#h190)"/><rect x="573" y="609.3" width="2" height="493.2" fill="url(#h191)"/><rect x="575" y="609.3" width="2" height="493.2" fill="url(#h192)"/><rect x="577" y="609.3" width="2" height="493.2" fill="url(#h193)"/><rect x="579" y="609.3" width="2" height="493.2" fill="url(#h194)"/><rect x="581" y="609.3" width="2" height="493.2" fill="url(#h195)"/><rect x="583" y="609.3" width="2" height="493.2" fill="url(#h196)"/><rect x="585" y="609.3" width="2" height="493.2" fill="url(#h197)"/><rect x="587" y="609.3" width="2" height="493.2" fill="url(#h198)"/><rect x="589" y="609.3" width="2" height="493.2" fill="url(#h199)"/><rect x="591" y="609.3" width="2" height="493.2" fill="url(#h200)"/><rect x="593" y="609.3" width="2" height="493.2" fill="url(#h201)"/><rect x="595" y="609.3" width="2" height="493.2" fill="url(#h202)"/><rect x="597" y="609.3" width="2" height="493.2" fill="url(#h203)"/><rect x="599" y="609.3" width="2" height="493.2" fill="url(#h204)"/><rect x="601" y="609.3" width="2" height="493.2" fill="url(#h205)"/><rect x="603" y="609.3" width="2" height="493.2" fill="url(#h206)"/><rect x="605" y="609.3" width="2" height="493.2" fill="url(#h207)"/><rect x="607" y="609.3" width="2" height="493.2" fill="url(#h208)"/><rect x="609" y="609.3" width="2" height="493.2" fill="url(#h209)"/><rect x="611" y="609.3" width="2" height="493.2" fill="url(#h210)"/><rect x="613" y="609.3" width="2" height="493.2" fill="url(#h211)"/><rect x="615" y="609.3" width="2" height="493.2" fill="url(#h212)"/><rect x="617" y="609.3" width="2" height="493.2" fill="url(#h213)"/><rect x="619" y="609.3" width="2" height="493.2" fill="url(#h214)"/><rect x="621" y="609.3" width="2" height="493.2" fill="url(#h215)"/><rect x="623" y="609.3" width="2" height="493.2" fill="url(#h216)"/><rect x="625" y="609.3" width="2" height="493.2" fill="url(#h217)"/><rect x="627" y="609.3" width="2" height="493.2" fill="url(#h218)"/><rect x="629" y="609.3" width="2" height="493.2" fill="url(#h219)"/><rect x="631" y="609.3" width="2" height="493.2" fill="url(#h220)"/><rect x="633" y="609.3" width="2" height="493.2" fill="url(#h221)"/><rect x="635" y="609.3" width="2" height="493.2" fill="url(#h222)"/><rect x="637" y="609.3" width="2" height="493.2" fill="url(#h223)"/><rect x="639" y="609.3" width="2" height="493.2" fill="url(#h224)"/><rect x="641" y="609.3" width="2" height="493.2" fill="url(#h225)"/><rect x="643" y="609.3" width="2" height="493.2" fill="url(#h226)"/><rect x="645" y="609.3" width="2" height="493.2" fill="url(#h227)"/><rect x="647" y="609.3" width="2" height="493.2" fill="url(#h228)"/><rect x="649" y="609.3" width="2" height="493.2" fill="url(#h229)"/><rect x="651" y="609.3" width="2" height="493.2" fill="url(#h230)"/><rect x="653" y="609.3" width="2" height="493.2" fill="url(#h231)"/><rect x="655" y="609.3" width="2" height="493.2" fill="url(#h232)"/><rect x="657" y="609.3" width="2" height="493.2" fill="url(#h233)"/><rect x="659" y="609.3" width="2" height="493.2" fill="url(#h234)"/><rect x="661" y="609.3" width="2" height="493.2" fill="url(#h235)"/><rect x="663" y="609.3" width="2" height="493.2" fill="url(#h236)"/><rect x="665" y="609.3" width="2" height="493.2" fill="url(#h237)"/><rect x="667" y="609.3" width="2" height="493.2" fill="url(#h238)"/><rect x="669" y="609.3" width="2" height="493.2" fill="url(#h239)"/><rect x="671" y="609.3" width="2" height="493.2" fill="url(#h240)"/><rect x="673" y="609.3" width="2" height="493.2" fill="url(#h241)"/><rect x="675" y="609.3" width="2" height="493.2" fill="url(#h242)"/><rect x="677" y="609.3" width="2" height="493.2" fill="url(#h243)"/><rect x="679" y="609.3" width="2" height="493.2" fill="url(#h244)"/><rect x="681" y="609.3" width="2" height="493.2" fill="url(#h245)"/><rect x="683" y="609.3" width="2" height="493.2" fill="url(#h246)"/><rect x="685" y="609.3" width="2" height="493.2" fill="url(#h247)"/><rect x="687" y="609.3" width="2" height="493.2" fill="url(#h248)"/><rect x="689" y="609.3" width="2" height="493.2" fill="url(#h249)"/><rect x="691" y="609.3" width="2" height="493.2" fill="url(#h250)"/><rect x="693" y="609.3" width="2" height="493.2" fill="url(#h251)"/><rect x="695" y="609.3" width="2" height="493.2" fill="url(#h252)"/><rect x="697" y="609.3" width="2" height="493.2" fill="url(#h253)"/><rect x="699" y="609.3" width="2" height="493.2" fill="url(#h254)"/><rect x="701" y="609.3" width="2" height="493.2" fill="url(#h255)"/></g></g>
<path d="M190.6 609.3v9.5M190.6 1148.3v-10.5M228 609.3v9.5M228 1148.3v-10.5M265.5 609.3v9.5M265.5 1148.3v-10.5M302.9 609.3v20M302.9 1148.3v-20M340.3 609.3v9.5M340.3 1148.3v-10.5M377.7 609.3v9.5M377.7 1148.3v-10.5M415.1 609.3v9.5M415.1 1148.3v-10.5M452.6 609.3v20M452.6 1148.3v-20M490 609.3v9.5M490 1148.3v-10.5M527.4 609.3v9.5M527.4 1148.3v-10.5M564.8 609.3v9.5M564.8 1148.3v-10.5M602.2 609.3v20M602.2 1148.3v-20M639.7 609.3v9.5M639.7 1148.3v-10.5M677.1 609.3v9.5M677.1 1148.3v-10.5M714.5 609.3v9.5M714.5 1148.3v-10.5M153.2 1130.3h9.5M751.9 1130.3h-9.5M153.2 1112.4h9.5M751.9 1112.4h-9.5M153.2 1094.4h9.5M751.9 1094.4h-9.5M153.2 1076.4h9.5M751.9 1076.4h-9.5M153.2 1058.5h19.4M751.9 1058.5h-19.4M153.2 1040.5h9.5M751.9 1040.5h-9.5M153.2 1022.5h9.5M751.9 1022.5h-9.5M153.2 1004.6h9.5M751.9 1004.6h-9.5M153.2 986.6h9.5M751.9 986.6h-9.5M153.2 968.6h19.4M751.9 968.6h-19.4M153.2 950.7h9.5M751.9 950.7h-9.5M153.2 932.7h9.5M751.9 932.7h-9.5M153.2 914.7h9.5M751.9 914.7h-9.5M153.2 896.8h9.5M751.9 896.8h-9.5M153.2 878.8h19.4M751.9 878.8h-19.4M153.2 860.8h9.5M751.9 860.8h-9.5M153.2 842.9h9.5M751.9 842.9h-9.5M153.2 824.9h9.5M751.9 824.9h-9.5M153.2 806.9h9.5M751.9 806.9h-9.5M153.2 789h19.4M751.9 789h-19.4M153.2 771h9.5M751.9 771h-9.5M153.2 753h9.5M751.9 753h-9.5M153.2 735.1h9.5M751.9 735.1h-9.5M153.2 717.1h9.5M751.9 717.1h-9.5M153.2 699.1h19.4M751.9 699.1h-19.4M153.2 681.2h9.5M751.9 681.2h-9.5M153.2 663.2h9.5M751.9 663.2h-9.5M153.2 645.3h9.5M751.9 645.3h-9.5M153.2 627.3h9.5M751.9 627.3h-9.5" stroke="#000" stroke-width="2.2" fill="none"/>
<rect x="153.2" y="609.3" width="598.7" height="539" fill="none" stroke="#000" stroke-width="2.5"/>
<polyline fill="none" stroke="#000" stroke-width="4.2" stroke-linejoin="round" points="153,1121 190.7,1121 228,1108 265,1097 303,1087.5 340,1087 378,1087.5 415,1091 453,1097 490,1100.5 565,1108.5 640,1125.5 677,1135 714.4,1145.5"/>
<circle cx="153" cy="1118" r="6.2" fill="#fff" stroke="#d92b2b" stroke-width="2.5"/>
<circle cx="228.4" cy="1107.9" r="6.2" fill="#fff" stroke="#d92b2b" stroke-width="2.5"/>
<circle cx="303.1" cy="1088" r="6.2" fill="#fff" stroke="#d92b2b" stroke-width="2.5"/>
<circle cx="377.8" cy="1091.4" r="6.2" fill="#fff" stroke="#d92b2b" stroke-width="2.5"/>
<circle cx="414.4" cy="1096" r="6.2" fill="#fff" stroke="#d92b2b" stroke-width="2.5"/>
<circle cx="490.3" cy="1099" r="6.2" fill="#fff" stroke="#d92b2b" stroke-width="2.5"/>
<circle cx="565" cy="1106" r="6.2" fill="#fff" stroke="#d92b2b" stroke-width="2.5"/>
<circle cx="639.7" cy="1114.3" r="6.2" fill="#fff" stroke="#d92b2b" stroke-width="2.5"/>
<circle cx="714.4" cy="1126.5" r="6.2" fill="#fff" stroke="#d92b2b" stroke-width="2.5"/>
<path d="M152.5 1112.3L160.5 1126.3L144.5 1126.3Z" fill="#fff" stroke="#2f53a8" stroke-width="2.5" stroke-linejoin="miter"/>
<path d="M190.3 1112.3L198.3 1126.3L182.3 1126.3Z" fill="#fff" stroke="#2f53a8" stroke-width="2.5" stroke-linejoin="miter"/>
<path d="M377.8 1079.8L385.8 1093.8L369.8 1093.8Z" fill="#fff" stroke="#2f53a8" stroke-width="2.5" stroke-linejoin="miter"/>
<path d="M565 1099.3L573 1113.3L557 1113.3Z" fill="#fff" stroke="#2f53a8" stroke-width="2.5" stroke-linejoin="miter"/>
<path d="M265 1084.8L273 1098.8L257 1098.8Z" fill="#fff" stroke="#2f53a8" stroke-width="2.5" stroke-linejoin="miter"/>
<path d="M452.2 1088.8L460.2 1102.8L444.2 1102.8Z" fill="#fff" stroke="#2f53a8" stroke-width="2.5" stroke-linejoin="miter"/>
<path d="M639.7 1116.8L647.7 1130.8L631.7 1130.8Z" fill="#fff" stroke="#2f53a8" stroke-width="2.5" stroke-linejoin="miter"/>
<path d="M677.2 1125.8L685.2 1139.8L669.2 1139.8Z" fill="#fff" stroke="#2f53a8" stroke-width="2.5" stroke-linejoin="miter"/>
<path d="M265 1103.2L273 1089.2L257 1089.2Z" fill="#fff" stroke="#a652b5" stroke-width="2.5"/>
<path d="M452.2 1107.8L460.2 1093.8L444.2 1093.8Z" fill="#fff" stroke="#a652b5" stroke-width="2.5"/>
<path d="M639.7 1137.7L647.7 1123.7L631.7 1123.7Z" fill="#fff" stroke="#a652b5" stroke-width="2.5"/>
<path d="M677.2 1145.9L685.2 1131.9L669.2 1131.9Z" fill="#fff" stroke="#a652b5" stroke-width="2.5"/>
<text x="243.61" y="1127.20" font-size="28.50" letter-spacing="0.90">Superconductivity</text>
<text x="120.50" y="1159.90" font-size="35.00">0</text>
<text x="101.04" y="1070.07" font-size="35.00">10</text>
<text x="101.04" y="980.24" font-size="35.00">20</text>
<text x="101.04" y="890.41" font-size="35.00">30</text>
<text x="101.04" y="800.58" font-size="35.00">40</text>
<text x="101.04" y="710.75" font-size="35.00">50</text>
<text x="101.04" y="620.92" font-size="35.00">60</text>
<g transform="translate(70.6,1006.2) rotate(-90)"><text x="-0.79" y="0.00" font-size="35.00">Temperature (K)</text></g>
<text x="7.43" y="609.90" font-size="43.50" font-weight="bold">b</text>
<defs><linearGradient id="cbg" x1="0" y1="0" x2="0" y2="1"><stop offset="0.000" stop-color="#2b50a2"/><stop offset="0.095" stop-color="#2c4fa4"/><stop offset="0.128" stop-color="#3a4ea5"/><stop offset="0.170" stop-color="#5050a2"/><stop offset="0.186" stop-color="#5a52a0"/><stop offset="0.204" stop-color="#6a6890"/><stop offset="0.243" stop-color="#7a7a7a"/><stop offset="0.276" stop-color="#858570"/><stop offset="0.309" stop-color="#9a9a5a"/><stop offset="0.343" stop-color="#adad48"/><stop offset="0.392" stop-color="#c8c838"/><stop offset="0.435" stop-color="#d8d830"/><stop offset="0.475" stop-color="#e6e340"/><stop offset="0.540" stop-color="#f2e020"/><stop offset="0.574" stop-color="#f2c818"/><stop offset="0.616" stop-color="#f2b01a"/><stop offset="0.660" stop-color="#f09a20"/><stop offset="0.712" stop-color="#ee8a22"/><stop offset="0.764" stop-color="#e86c22"/><stop offset="0.816" stop-color="#e45022"/><stop offset="0.867" stop-color="#e03a22"/><stop offset="0.919" stop-color="#dc2c24"/><stop offset="1.000" stop-color="#d8282a"/></linearGradient></defs>
<rect x="784.3" y="678.8" width="33.7" height="467.9" fill="url(#cbg)" stroke="#000" stroke-width="2.2"/>
<path d="M818 693.1h12M818 757.9h12M818 822.6h12M818 883.5h12M818 947.4h12M818 1010h12M818 1072.6h12M818 1132.8h12" stroke="#000" stroke-width="2.2"/>
<text x="843.65" y="705.40" font-size="34.50">6.0</text>
<text x="896.51" y="705.40" font-size="34.50">×</text>
<text x="922.77" y="705.40" font-size="34.50">10</text>
<text x="960.12" y="692.40" font-size="26.00">−2</text>
<text x="847.01" y="834.60" font-size="34.50">4.0</text>
<text x="898.91" y="834.60" font-size="34.50">×</text>
<text x="925.17" y="834.60" font-size="34.50">10</text>
<text x="962.52" y="821.60" font-size="26.00">−2</text>
<text x="846.06" y="959.20" font-size="34.50">2.0</text>
<text x="898.91" y="959.20" font-size="34.50">×</text>
<text x="925.17" y="959.20" font-size="34.50">10</text>
<text x="962.52" y="946.20" font-size="26.00">−2</text>
<text x="847.55" y="1083.50" font-size="34.50">0.0</text>
<text x="900.41" y="1083.50" font-size="34.50">×</text>
<text x="926.37" y="1083.50" font-size="34.50">10</text>
<text x="963.32" y="1070.50" font-size="26.00">−2</text>
<text x="845.50" y="1143.20" font-size="34.50">−1.0</text>
<text x="920.31" y="1143.20" font-size="34.50">×</text>
<text x="946.17" y="1143.20" font-size="34.50">10</text>
<text x="983.22" y="1130.20" font-size="26.00">−2</text>
<text x="765.31" y="635.30" font-size="34.00">1</text>
<text x="783.60" y="635.30" font-size="34.00">/</text>
<text x="795.83" y="635.30" font-size="34.00" font-style="italic">ρ</text>
<text x="829.99" y="635.30" font-size="34.00">(</text>
<text x="840.67" y="635.30" font-size="34.00">d</text>
<text x="863.73" y="635.30" font-size="34.00" font-style="italic">ρ</text>
<text x="897.20" y="635.30" font-size="34.00">/</text>
<text x="907.57" y="635.30" font-size="34.00">d</text>
<text x="927.35" y="635.30" font-size="34.00" font-style="italic">T</text>
<text x="953.80" y="635.30" font-size="34.00">)</text>
<text x="975.59" y="635.30" font-size="34.00">(</text>
<text x="986.71" y="635.30" font-size="34.00">K</text>
<text x="1009.69" y="621.40" font-size="24.50">−</text>
<text x="1025.23" y="621.40" font-size="24.50">1</text>
<text x="1038.70" y="635.30" font-size="34.00">)</text>
<path d="M813.60 642.65H830.00M821.80 642.65V629.30" stroke="#000" stroke-width="1.90" fill="none"/>
<path d="M880.70 644.05H897.10M888.90 644.05V630.70" stroke="#000" stroke-width="1.90" fill="none"/>
<line x1="165.2" y1="1264.8" x2="751.7" y2="1264.8" stroke="#000" stroke-width="2.3" stroke-dasharray="5.9 5.15"/>
<line x1="165.2" y1="1395.8" x2="751.7" y2="1395.8" stroke="#000" stroke-width="2.3" stroke-dasharray="5.9 5.15"/>
<path d="M189 1199.7v6.5M189 1461.5v-6.5M226.5 1199.7v6.5M226.5 1461.5v-6.5M264 1199.7v6.5M264 1461.5v-6.5M301.5 1199.7v12M301.5 1461.5v-12M339 1199.7v6.5M339 1461.5v-6.5M376.5 1199.7v6.5M376.5 1461.5v-6.5M414 1199.7v6.5M414 1461.5v-6.5M451.5 1199.7v12M451.5 1461.5v-12M489 1199.7v6.5M489 1461.5v-6.5M526.5 1199.7v6.5M526.5 1461.5v-6.5M564 1199.7v6.5M564 1461.5v-6.5M601.5 1199.7v12M601.5 1461.5v-12M639 1199.7v6.5M639 1461.5v-6.5M676.5 1199.7v6.5M676.5 1461.5v-6.5M714 1199.7v6.5M714 1461.5v-6.5M151.5 1448.2h6.6M751.7 1448.2h-6.6M151.5 1422h6.6M751.7 1422h-6.6M151.5 1395.8h13.8M751.7 1395.8h-13.8M151.5 1369.6h6.6M751.7 1369.6h-6.6M151.5 1343.4h6.6M751.7 1343.4h-6.6M151.5 1317.2h6.6M751.7 1317.2h-6.6M151.5 1291h6.6M751.7 1291h-6.6M151.5 1264.8h13.8M751.7 1264.8h-13.8M151.5 1238.6h6.6M751.7 1238.6h-6.6M151.5 1212.4h6.6M751.7 1212.4h-6.6" stroke="#000" stroke-width="2" fill="none"/>
<rect x="151.5" y="1199.7" width="600.2" height="261.8" fill="none" stroke="#000" stroke-width="2.2"/>
<rect x="252.9" y="1398.2" width="21" height="19" fill="#000"/>
<rect x="354.6" y="1372.9" width="21" height="19" fill="#000"/>
<rect x="459.4" y="1267.3" width="21" height="19" fill="#000"/>
<rect x="729.9" y="1230" width="21" height="19" fill="#000"/>
<text x="126.83" y="1500.40" font-size="35.50">0.0</text>
<text x="276.65" y="1500.40" font-size="35.50">0.4</text>
<text x="426.90" y="1500.40" font-size="35.50">0.8</text>
<text x="576.37" y="1500.40" font-size="35.50">1.2</text>
<text x="726.25" y="1500.40" font-size="35.50">1.6</text>
<text x="118.94" y="1276.80" font-size="35.50">2</text>
<text x="114.29" y="1407.20" font-size="35.50">1</text>
<g transform="translate(92.4,1338.3) rotate(-90)"><text x="-0.59" y="0.00" font-size="35.50" font-style="italic">n</text></g>
<text x="329.53" y="1548.90" font-size="35.00">Pressure (GPa)</text>
<text x="9.70" y="1209.50" font-size="43.50" font-weight="bold">c</text>
</svg></body></html>
